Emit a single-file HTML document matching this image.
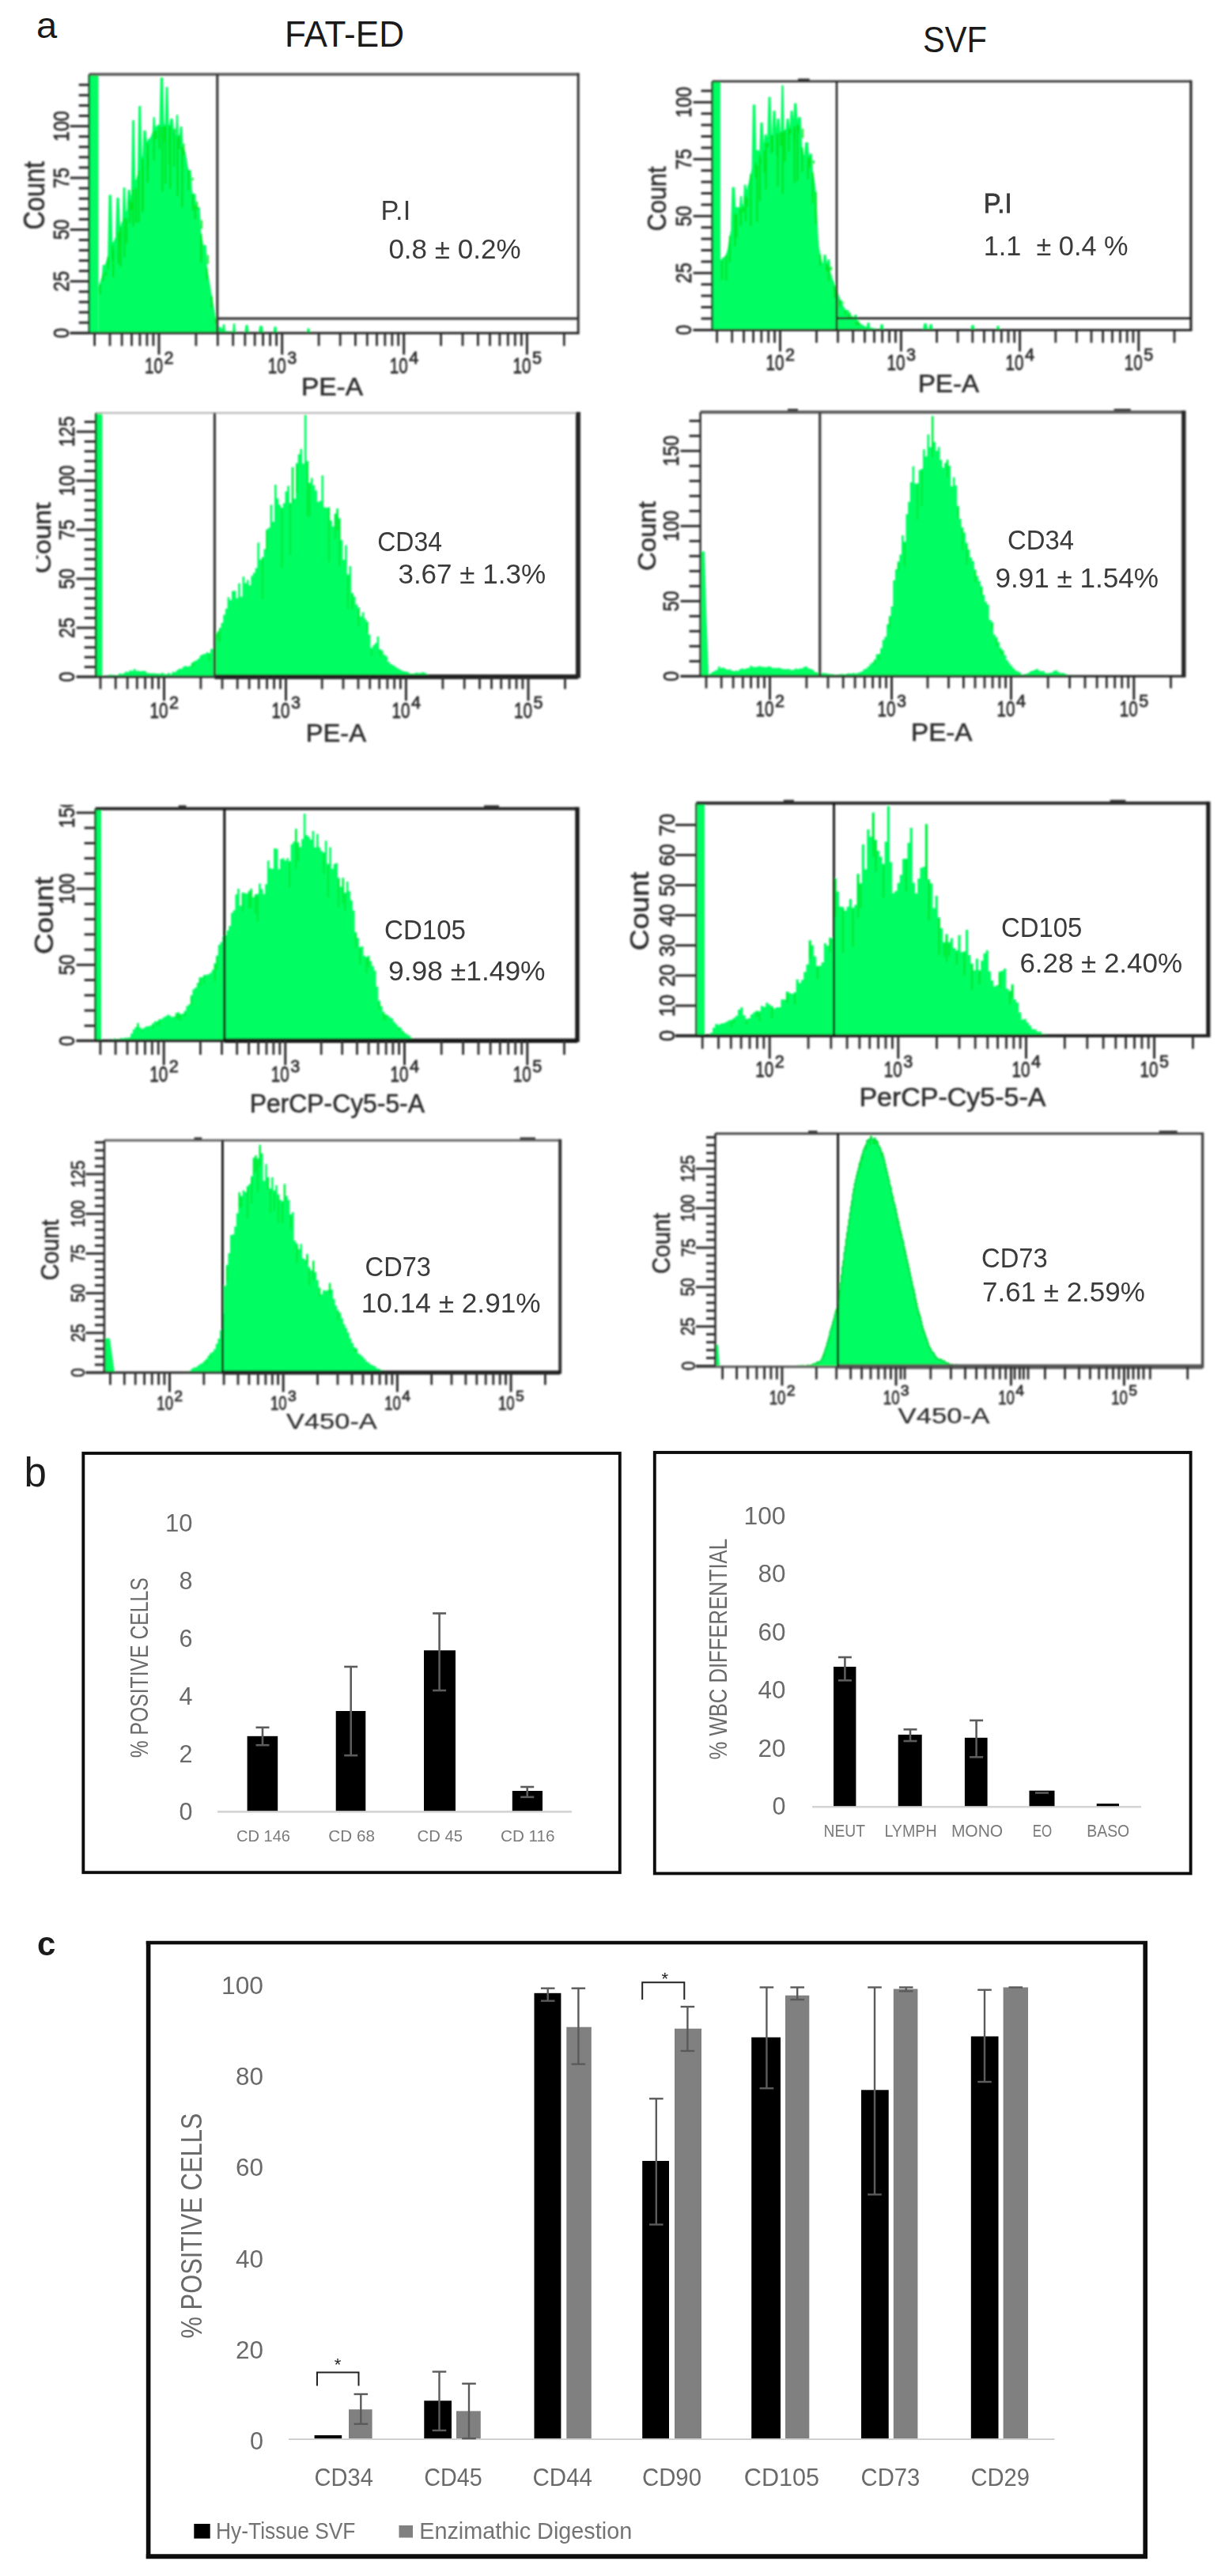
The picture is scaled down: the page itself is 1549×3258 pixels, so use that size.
<!DOCTYPE html>
<html lang="en"><head><meta charset="utf-8"><title>Figure</title>
<style>html,body{margin:0;padding:0;background:#fff}svg{display:block}</style></head>
<body>
<svg width="1549" height="3258" viewBox="0 0 1549 3258" font-family='"Liberation Sans", sans-serif'>
<defs>
<clipPath id="clipB1"><rect x="46" y="500" width="60" height="400"/></clipPath>
<clipPath id="clipC1"><rect x="40" y="1018" width="80" height="100"/></clipPath>
<filter id="bl" x="-2%" y="-2%" width="104%" height="104%"><feGaussianBlur stdDeviation="0.95"/></filter>
<filter id="bl3" x="-2%" y="-2%" width="104%" height="104%"><feGaussianBlur stdDeviation="0.4"/></filter>
<filter id="bl2" x="-2%" y="-2%" width="104%" height="104%"><feGaussianBlur stdDeviation="0.65"/></filter>
</defs>
<rect width="1549" height="3258" fill="#fff"/>
<text x="46.0" y="47.5" font-size="47" fill="#1a1a1a">a</text>
<text x="360.0" y="58.8" font-size="45.6" fill="#1a1a1a" textLength="151.0" lengthAdjust="spacingAndGlyphs">FAT-ED</text>
<text x="1167.0" y="66.3" font-size="47" fill="#1a1a1a" textLength="81.0" lengthAdjust="spacingAndGlyphs">SVF</text>
<g filter="url(#bl)">
<g>
<polygon points="113.0,421.0 113.0,94.7 124.5,94.7 124.5,421.0" fill="#00FD62"/>
<polygon points="124.5,421.2 124.5,363.9 125.8,358.7 127.1,354.7 128.4,350.7 128.8,349.4 129.8,335.0 132.2,335.0 133.2,334.7 133.2,334.0 134.5,329.6 135.8,325.1 137.1,321.4 136.1,324.7 137.5,246.5 140.9,246.5 142.3,307.8 142.3,306.1 143.6,306.0 144.9,302.2 146.2,299.6 147.5,295.0 146.0,299.3 147.4,250.0 150.6,250.0 152.0,286.2 152.0,287.7 153.3,281.8 154.6,279.7 154.7,280.2 155.7,237.0 158.3,237.0 159.3,267.3 159.3,268.2 160.6,265.0 160.4,263.7 161.6,240.0 164.4,240.0 165.6,246.3 165.6,247.9 166.9,242.8 165.9,245.2 167.1,152.0 169.9,152.0 171.1,228.1 171.1,228.6 172.4,225.7 173.7,221.4 175.0,215.5 173.9,218.9 175.2,134.0 178.2,134.0 179.5,200.8 179.5,198.5 180.8,195.4 180.0,199.2 181.4,165.0 184.6,165.0 186.0,180.0 186.0,179.6 187.3,176.0 188.6,175.5 189.9,173.9 191.2,171.4 192.5,167.5 192.7,167.8 193.6,148.0 195.8,148.0 196.7,160.3 196.7,160.4 198.0,159.4 199.3,158.1 200.6,157.5 201.9,157.9 201.5,158.0 202.8,98.0 206.2,98.0 207.5,158.0 207.5,155.7 208.8,159.0 208.5,158.0 209.6,110.0 212.4,110.0 213.5,158.0 213.5,158.5 214.8,158.5 214.0,158.1 215.4,150.0 218.6,150.0 220.0,165.1 220.0,165.2 221.3,169.1 222.6,169.6 222.0,167.6 222.9,145.0 225.1,145.0 226.0,174.2 226.0,176.0 227.3,175.6 226.4,175.1 227.6,160.0 230.4,160.0 231.6,185.9 231.6,188.1 232.9,189.0 234.2,191.6 235.5,197.8 236.8,206.2 238.1,215.4 237.1,207.9 238.4,215.0 241.6,215.0 242.9,239.5 242.9,240.9 244.2,247.2 243.7,243.3 244.7,245.0 247.3,245.0 248.3,264.7 248.3,265.8 249.6,272.1 247.8,262.5 249.3,262.0 252.7,262.0 254.2,293.0 254.2,293.3 255.5,300.4 256.8,306.8 255.9,303.0 257.3,310.0 260.7,310.0 262.1,339.9 262.1,340.0 263.4,346.8 264.7,355.0 266.0,362.5 267.3,369.9 268.6,377.4 269.9,385.2 271.2,392.8 272.5,400.3 273.8,405.5 275.1,409.2 276.4,412.2 277.7,413.2 279.0,414.2 280.3,415.2 281.6,416.1 281.0,415.6 281.9,410.0 284.1,410.0 285.0,418.5 285.0,418.5 286.3,418.7 287.6,418.7 288.9,418.9 290.2,419.0 291.5,419.1 292.8,419.3 294.1,419.4 294.0,419.4 294.9,409.0 297.1,409.0 298.0,419.8 298.0,419.8 299.3,419.9 300.6,420.0 301.9,420.0 303.2,420.0 304.5,420.0 305.8,420.0 307.1,420.0 308.4,420.0 309.7,420.1 309.3,420.1 310.5,411.0 313.5,411.0 314.7,420.1 314.7,420.1 316.0,420.1 317.3,420.1 318.6,420.1 319.9,420.1 321.2,420.1 322.5,420.1 323.8,420.1 325.1,420.2 326.4,420.2 327.7,420.2 326.8,420.2 328.3,412.0 331.7,412.0 333.2,420.2 333.2,420.2 334.5,420.2 335.8,420.2 337.1,420.2 338.4,420.2 339.7,420.2 341.0,420.3 342.3,420.3 343.6,420.3 344.9,420.3 346.2,420.3 345.5,420.3 346.6,413.0 349.4,413.0 350.5,420.3 350.5,420.3 351.8,420.3 353.1,420.4 354.4,420.4 355.7,420.4 357.0,420.4 358.3,420.4 359.6,420.4 360.9,420.4 362.2,420.4 363.5,420.4 364.8,420.4 366.1,420.4 367.4,420.4 368.7,420.4 370.0,420.5 371.3,420.5 372.6,420.5 373.9,420.5 375.2,420.5 376.5,420.5 377.8,420.5 379.1,420.5 380.4,420.5 381.7,420.5 383.0,420.6 384.3,420.6 385.6,420.6 386.9,420.6 388.2,420.6 387.7,420.6 388.8,415.0 391.2,415.0 392.3,420.6 392.3,420.6 393.6,420.7 394.9,420.7 396.2,420.8 397.5,420.9 398.8,420.9 400.0,421.2" fill="#00FD62"/>
<line x1="134.0" y1="343.0" x2="134.0" y2="348.6" stroke="#00E214" stroke-width="2.4" stroke-opacity="0.8"/>
<line x1="143.1" y1="315.6" x2="143.1" y2="350.8" stroke="#00E214" stroke-width="2.4" stroke-opacity="0.8"/>
<line x1="152.8" y1="293.8" x2="152.8" y2="337.3" stroke="#00E214" stroke-width="2.4" stroke-opacity="0.8"/>
<line x1="160.1" y1="276.0" x2="160.1" y2="307.6" stroke="#00E214" stroke-width="2.4" stroke-opacity="0.8"/>
<line x1="166.4" y1="256.0" x2="166.4" y2="265.9" stroke="#00E214" stroke-width="2.4" stroke-opacity="0.8"/>
<line x1="171.9" y1="237.7" x2="171.9" y2="282.0" stroke="#00E214" stroke-width="2.4" stroke-opacity="0.8"/>
<line x1="180.3" y1="210.9" x2="180.3" y2="266.0" stroke="#00E214" stroke-width="2.4" stroke-opacity="0.8"/>
<line x1="186.8" y1="190.6" x2="186.8" y2="212.8" stroke="#00E214" stroke-width="2.4" stroke-opacity="0.8"/>
<line x1="197.5" y1="165.1" x2="197.5" y2="175.8" stroke="#00E214" stroke-width="2.4" stroke-opacity="0.8"/>
<line x1="208.3" y1="159.0" x2="208.3" y2="179.2" stroke="#00E214" stroke-width="2.4" stroke-opacity="0.8"/>
<line x1="214.3" y1="159.0" x2="214.3" y2="207.4" stroke="#00E214" stroke-width="2.4" stroke-opacity="0.8"/>
<line x1="220.8" y1="162.6" x2="220.8" y2="168.5" stroke="#00E214" stroke-width="2.4" stroke-opacity="0.8"/>
<line x1="226.8" y1="171.0" x2="226.8" y2="188.9" stroke="#00E214" stroke-width="2.4" stroke-opacity="0.8"/>
<line x1="232.4" y1="181.5" x2="232.4" y2="196.0" stroke="#00E214" stroke-width="2.4" stroke-opacity="0.8"/>
<line x1="243.7" y1="224.7" x2="243.7" y2="228.3" stroke="#00E214" stroke-width="2.4" stroke-opacity="0.8"/>
<line x1="249.1" y1="255.0" x2="249.1" y2="264.3" stroke="#00E214" stroke-width="2.4" stroke-opacity="0.8"/>
<line x1="255.0" y1="278.3" x2="255.0" y2="289.5" stroke="#00E214" stroke-width="2.4" stroke-opacity="0.8"/>
<line x1="262.9" y1="322.4" x2="262.9" y2="333.8" stroke="#00E214" stroke-width="2.4" stroke-opacity="0.8"/>
<line x1="126.5" y1="359.2" x2="126.5" y2="372.4" stroke="#00E214" stroke-width="2.4" stroke-opacity="0.8"/>
<line x1="130.3" y1="346.3" x2="130.3" y2="355.7" stroke="#00E214" stroke-width="2.4" stroke-opacity="0.8"/>
<line x1="136.7" y1="324.7" x2="136.7" y2="341.0" stroke="#00E214" stroke-width="2.4" stroke-opacity="0.8"/>
<line x1="142.2" y1="309.8" x2="142.2" y2="329.3" stroke="#00E214" stroke-width="2.4" stroke-opacity="0.8"/>
<line x1="149.8" y1="293.1" x2="149.8" y2="333.8" stroke="#00E214" stroke-width="2.4" stroke-opacity="0.8"/>
<line x1="152.6" y1="286.7" x2="152.6" y2="305.8" stroke="#00E214" stroke-width="2.4" stroke-opacity="0.8"/>
<line x1="157.2" y1="276.4" x2="157.2" y2="325.4" stroke="#00E214" stroke-width="2.4" stroke-opacity="0.8"/>
<line x1="164.2" y1="252.9" x2="164.2" y2="282.2" stroke="#00E214" stroke-width="2.4" stroke-opacity="0.8"/>
<line x1="168.2" y1="239.8" x2="168.2" y2="286.6" stroke="#00E214" stroke-width="2.4" stroke-opacity="0.8"/>
<line x1="175.5" y1="215.7" x2="175.5" y2="281.7" stroke="#00E214" stroke-width="2.4" stroke-opacity="0.8"/>
<line x1="180.2" y1="200.8" x2="180.2" y2="268.7" stroke="#00E214" stroke-width="2.4" stroke-opacity="0.8"/>
<line x1="186.7" y1="180.8" x2="186.7" y2="230.8" stroke="#00E214" stroke-width="2.4" stroke-opacity="0.8"/>
<line x1="194.8" y1="165.8" x2="194.8" y2="203.0" stroke="#00E214" stroke-width="2.4" stroke-opacity="0.8"/>
<line x1="201.6" y1="160.0" x2="201.6" y2="188.2" stroke="#00E214" stroke-width="2.4" stroke-opacity="0.8"/>
<line x1="205.3" y1="160.0" x2="205.3" y2="242.1" stroke="#00E214" stroke-width="2.4" stroke-opacity="0.8"/>
<line x1="209.2" y1="160.0" x2="209.2" y2="232.2" stroke="#00E214" stroke-width="2.4" stroke-opacity="0.8"/>
<line x1="215.2" y1="161.5" x2="215.2" y2="238.6" stroke="#00E214" stroke-width="2.4" stroke-opacity="0.8"/>
<line x1="220.0" y1="167.2" x2="220.0" y2="210.9" stroke="#00E214" stroke-width="2.4" stroke-opacity="0.8"/>
<line x1="224.4" y1="172.8" x2="224.4" y2="248.2" stroke="#00E214" stroke-width="2.4" stroke-opacity="0.8"/>
<line x1="230.4" y1="185.5" x2="230.4" y2="262.3" stroke="#00E214" stroke-width="2.4" stroke-opacity="0.8"/>
<line x1="238.1" y1="215.2" x2="238.1" y2="240.3" stroke="#00E214" stroke-width="2.4" stroke-opacity="0.8"/>
<line x1="243.9" y1="246.0" x2="243.9" y2="266.2" stroke="#00E214" stroke-width="2.4" stroke-opacity="0.8"/>
<line x1="246.8" y1="259.8" x2="246.8" y2="277.3" stroke="#00E214" stroke-width="2.4" stroke-opacity="0.8"/>
<line x1="254.3" y1="295.9" x2="254.3" y2="332.2" stroke="#00E214" stroke-width="2.4" stroke-opacity="0.8"/>
<line x1="261.6" y1="339.0" x2="261.6" y2="354.0" stroke="#00E214" stroke-width="2.4" stroke-opacity="0.8"/>
<line x1="267.8" y1="374.7" x2="267.8" y2="389.1" stroke="#00E214" stroke-width="2.4" stroke-opacity="0.8"/>
<line x1="272.6" y1="402.7" x2="272.6" y2="409.1" stroke="#00E214" stroke-width="2.4" stroke-opacity="0.8"/>
<line x1="112.7" y1="94.0" x2="731.2" y2="94.0" stroke="#555" stroke-width="3.6" />
<line x1="112.7" y1="94.0" x2="112.7" y2="421.2" stroke="#0a5a20" stroke-width="2.5" />
<line x1="731.2" y1="92.2" x2="731.2" y2="422.7" stroke="#333" stroke-width="3" />
<line x1="88.7" y1="421.2" x2="731.2" y2="421.2" stroke="#2a2a2a" stroke-width="3" />
<line x1="274.8" y1="94.0" x2="274.8" y2="421.2" stroke="#3a3a3a" stroke-width="3.2" />
<line x1="274.8" y1="402.8" x2="731.2" y2="402.8" stroke="#3a3a3a" stroke-width="3.2" />
<line x1="88.7" y1="421.2" x2="112.7" y2="421.2" stroke="#2e2e2e" stroke-width="3" />
<line x1="99.7" y1="408.1" x2="112.7" y2="408.1" stroke="#2e2e2e" stroke-width="3" />
<line x1="99.7" y1="395.0" x2="112.7" y2="395.0" stroke="#2e2e2e" stroke-width="3" />
<line x1="99.7" y1="382.0" x2="112.7" y2="382.0" stroke="#2e2e2e" stroke-width="3" />
<line x1="99.7" y1="368.9" x2="112.7" y2="368.9" stroke="#2e2e2e" stroke-width="3" />
<line x1="88.7" y1="355.8" x2="112.7" y2="355.8" stroke="#2e2e2e" stroke-width="3" />
<line x1="99.7" y1="342.7" x2="112.7" y2="342.7" stroke="#2e2e2e" stroke-width="3" />
<line x1="99.7" y1="329.6" x2="112.7" y2="329.6" stroke="#2e2e2e" stroke-width="3" />
<line x1="99.7" y1="316.6" x2="112.7" y2="316.6" stroke="#2e2e2e" stroke-width="3" />
<line x1="99.7" y1="303.5" x2="112.7" y2="303.5" stroke="#2e2e2e" stroke-width="3" />
<line x1="88.7" y1="290.4" x2="112.7" y2="290.4" stroke="#2e2e2e" stroke-width="3" />
<line x1="99.7" y1="277.3" x2="112.7" y2="277.3" stroke="#2e2e2e" stroke-width="3" />
<line x1="99.7" y1="264.2" x2="112.7" y2="264.2" stroke="#2e2e2e" stroke-width="3" />
<line x1="99.7" y1="251.2" x2="112.7" y2="251.2" stroke="#2e2e2e" stroke-width="3" />
<line x1="99.7" y1="238.1" x2="112.7" y2="238.1" stroke="#2e2e2e" stroke-width="3" />
<line x1="88.7" y1="225.0" x2="112.7" y2="225.0" stroke="#2e2e2e" stroke-width="3" />
<line x1="99.7" y1="211.9" x2="112.7" y2="211.9" stroke="#2e2e2e" stroke-width="3" />
<line x1="99.7" y1="198.8" x2="112.7" y2="198.8" stroke="#2e2e2e" stroke-width="3" />
<line x1="99.7" y1="185.8" x2="112.7" y2="185.8" stroke="#2e2e2e" stroke-width="3" />
<line x1="99.7" y1="172.7" x2="112.7" y2="172.7" stroke="#2e2e2e" stroke-width="3" />
<line x1="88.7" y1="159.6" x2="112.7" y2="159.6" stroke="#2e2e2e" stroke-width="3" />
<line x1="99.7" y1="146.5" x2="112.7" y2="146.5" stroke="#2e2e2e" stroke-width="3" />
<line x1="99.7" y1="133.4" x2="112.7" y2="133.4" stroke="#2e2e2e" stroke-width="3" />
<line x1="99.7" y1="120.4" x2="112.7" y2="120.4" stroke="#2e2e2e" stroke-width="3" />
<line x1="99.7" y1="107.3" x2="112.7" y2="107.3" stroke="#2e2e2e" stroke-width="3" />
<text x="87.0" y="421.2" font-size="28" fill="#2e2e2e" stroke="#2e2e2e" stroke-width="0.8" text-anchor="middle" textLength="12.9" lengthAdjust="spacingAndGlyphs" transform="rotate(-90 87.0 421.2)">0</text>
<text x="87.0" y="355.8" font-size="28" fill="#2e2e2e" stroke="#2e2e2e" stroke-width="0.8" text-anchor="middle" textLength="25.8" lengthAdjust="spacingAndGlyphs" transform="rotate(-90 87.0 355.8)">25</text>
<text x="87.0" y="290.4" font-size="28" fill="#2e2e2e" stroke="#2e2e2e" stroke-width="0.8" text-anchor="middle" textLength="25.8" lengthAdjust="spacingAndGlyphs" transform="rotate(-90 87.0 290.4)">50</text>
<text x="87.0" y="225.0" font-size="28" fill="#2e2e2e" stroke="#2e2e2e" stroke-width="0.8" text-anchor="middle" textLength="25.8" lengthAdjust="spacingAndGlyphs" transform="rotate(-90 87.0 225.0)">75</text>
<text x="87.0" y="159.6" font-size="28" fill="#2e2e2e" stroke="#2e2e2e" stroke-width="0.8" text-anchor="middle" textLength="38.7" lengthAdjust="spacingAndGlyphs" transform="rotate(-90 87.0 159.6)">100</text>
<text x="56.5" y="290.6" font-size="36" fill="#2e2e2e" stroke="#2e2e2e" stroke-width="0.6" textLength="86.6" lengthAdjust="spacingAndGlyphs" transform="rotate(-90 56.5 290.6)">Count</text>
<line x1="119.6" y1="421.2" x2="119.6" y2="437.5" stroke="#2e2e2e" stroke-width="2.8" />
<line x1="139.0" y1="421.2" x2="139.0" y2="437.5" stroke="#2e2e2e" stroke-width="2.8" />
<line x1="154.1" y1="421.2" x2="154.1" y2="437.5" stroke="#2e2e2e" stroke-width="2.8" />
<line x1="166.5" y1="421.2" x2="166.5" y2="437.5" stroke="#2e2e2e" stroke-width="2.8" />
<line x1="176.9" y1="421.2" x2="176.9" y2="437.5" stroke="#2e2e2e" stroke-width="2.8" />
<line x1="185.9" y1="421.2" x2="185.9" y2="437.5" stroke="#2e2e2e" stroke-width="2.8" />
<line x1="193.9" y1="421.2" x2="193.9" y2="437.5" stroke="#2e2e2e" stroke-width="2.8" />
<line x1="201.0" y1="421.2" x2="201.0" y2="448.5" stroke="#2e2e2e" stroke-width="3" />
<line x1="247.9" y1="421.2" x2="247.9" y2="437.5" stroke="#2e2e2e" stroke-width="2.8" />
<line x1="275.3" y1="421.2" x2="275.3" y2="437.5" stroke="#2e2e2e" stroke-width="2.8" />
<line x1="294.7" y1="421.2" x2="294.7" y2="437.5" stroke="#2e2e2e" stroke-width="2.8" />
<line x1="309.8" y1="421.2" x2="309.8" y2="437.5" stroke="#2e2e2e" stroke-width="2.8" />
<line x1="322.2" y1="421.2" x2="322.2" y2="437.5" stroke="#2e2e2e" stroke-width="2.8" />
<line x1="332.6" y1="421.2" x2="332.6" y2="437.5" stroke="#2e2e2e" stroke-width="2.8" />
<line x1="341.6" y1="421.2" x2="341.6" y2="437.5" stroke="#2e2e2e" stroke-width="2.8" />
<line x1="349.6" y1="421.2" x2="349.6" y2="437.5" stroke="#2e2e2e" stroke-width="2.8" />
<line x1="356.7" y1="421.2" x2="356.7" y2="448.5" stroke="#2e2e2e" stroke-width="3" />
<line x1="403.1" y1="421.2" x2="403.1" y2="437.5" stroke="#2e2e2e" stroke-width="2.8" />
<line x1="430.2" y1="421.2" x2="430.2" y2="437.5" stroke="#2e2e2e" stroke-width="2.8" />
<line x1="449.4" y1="421.2" x2="449.4" y2="437.5" stroke="#2e2e2e" stroke-width="2.8" />
<line x1="464.3" y1="421.2" x2="464.3" y2="437.5" stroke="#2e2e2e" stroke-width="2.8" />
<line x1="476.5" y1="421.2" x2="476.5" y2="437.5" stroke="#2e2e2e" stroke-width="2.8" />
<line x1="486.8" y1="421.2" x2="486.8" y2="437.5" stroke="#2e2e2e" stroke-width="2.8" />
<line x1="495.8" y1="421.2" x2="495.8" y2="437.5" stroke="#2e2e2e" stroke-width="2.8" />
<line x1="503.7" y1="421.2" x2="503.7" y2="437.5" stroke="#2e2e2e" stroke-width="2.8" />
<line x1="510.7" y1="421.2" x2="510.7" y2="448.5" stroke="#2e2e2e" stroke-width="3" />
<line x1="557.6" y1="421.2" x2="557.6" y2="437.5" stroke="#2e2e2e" stroke-width="2.8" />
<line x1="585.0" y1="421.2" x2="585.0" y2="437.5" stroke="#2e2e2e" stroke-width="2.8" />
<line x1="604.4" y1="421.2" x2="604.4" y2="437.5" stroke="#2e2e2e" stroke-width="2.8" />
<line x1="619.5" y1="421.2" x2="619.5" y2="437.5" stroke="#2e2e2e" stroke-width="2.8" />
<line x1="631.9" y1="421.2" x2="631.9" y2="437.5" stroke="#2e2e2e" stroke-width="2.8" />
<line x1="642.3" y1="421.2" x2="642.3" y2="437.5" stroke="#2e2e2e" stroke-width="2.8" />
<line x1="651.3" y1="421.2" x2="651.3" y2="437.5" stroke="#2e2e2e" stroke-width="2.8" />
<line x1="659.3" y1="421.2" x2="659.3" y2="437.5" stroke="#2e2e2e" stroke-width="2.8" />
<line x1="666.4" y1="421.2" x2="666.4" y2="448.5" stroke="#2e2e2e" stroke-width="3" />
<line x1="713.3" y1="421.2" x2="713.3" y2="437.5" stroke="#2e2e2e" stroke-width="2.8" />
<text x="183.0" y="472.0" font-size="28" fill="#2e2e2e" stroke="#2e2e2e" stroke-width="0.8"><tspan textLength="23.0" lengthAdjust="spacingAndGlyphs">10</tspan><tspan x="207.5" dy="-12.5" font-size="22" textLength="12.0" lengthAdjust="spacingAndGlyphs">2</tspan></text>
<text x="338.7" y="472.0" font-size="28" fill="#2e2e2e" stroke="#2e2e2e" stroke-width="0.8"><tspan textLength="23.0" lengthAdjust="spacingAndGlyphs">10</tspan><tspan x="363.2" dy="-12.5" font-size="22" textLength="12.0" lengthAdjust="spacingAndGlyphs">3</tspan></text>
<text x="492.7" y="472.0" font-size="28" fill="#2e2e2e" stroke="#2e2e2e" stroke-width="0.8"><tspan textLength="23.0" lengthAdjust="spacingAndGlyphs">10</tspan><tspan x="517.2" dy="-12.5" font-size="22" textLength="12.0" lengthAdjust="spacingAndGlyphs">4</tspan></text>
<text x="648.4" y="472.0" font-size="28" fill="#2e2e2e" stroke="#2e2e2e" stroke-width="0.8"><tspan textLength="23.0" lengthAdjust="spacingAndGlyphs">10</tspan><tspan x="672.9" dy="-12.5" font-size="22" textLength="12.0" lengthAdjust="spacingAndGlyphs">5</tspan></text>
<text x="381.0" y="499.6" font-size="32" fill="#2e2e2e" textLength="78.0" lengthAdjust="spacingAndGlyphs" stroke="#2e2e2e" stroke-width="0.6">PE-A</text>
</g>
<g>
<polygon points="901.0,417.0 901.0,103.0 911.0,103.0 911.0,417.0" fill="#00FD62"/>
<polygon points="911.0,417.5 911.0,328.8 912.3,327.9 913.6,325.8 914.9,325.2 916.2,324.9 917.5,322.4 918.8,319.3 920.1,314.6 921.4,306.5 922.7,298.6 924.0,291.4 925.3,283.1 924.1,289.2 925.5,236.7 929.1,236.7 930.5,267.0 930.5,266.3 928.8,268.6 930.2,262.0 933.8,262.0 935.2,262.5 935.2,264.7 934.9,262.8 935.9,248.0 938.1,248.0 939.1,258.9 939.1,260.1 940.4,257.4 939.9,258.1 940.8,233.5 943.2,233.5 944.1,240.3 944.1,240.5 945.4,234.7 946.7,231.3 948.0,223.6 949.3,219.6 950.6,213.1 951.9,213.1 950.5,214.1 951.8,132.2 955.2,132.2 956.5,201.9 956.5,201.7 955.1,204.8 956.4,190.0 959.6,190.0 960.9,193.2 960.9,195.3 960.2,194.7 961.4,155.0 964.6,155.0 965.8,183.8 965.8,183.7 965.6,184.2 966.7,170.0 969.3,170.0 970.4,175.0 970.4,174.2 971.7,173.5 970.2,175.3 971.5,122.4 974.5,122.4 975.8,169.1 975.8,171.2 977.1,167.6 976.2,169.0 977.5,140.0 980.5,140.0 981.8,167.3 981.8,166.3 981.3,167.4 982.5,150.0 985.5,150.0 986.7,165.7 986.7,166.7 988.0,165.3 987.2,165.6 988.2,107.8 990.6,107.8 991.6,163.8 991.6,164.6 992.9,163.7 994.2,161.7 993.5,163.0 994.6,150.0 997.4,150.0 998.5,160.7 998.5,160.7 998.5,160.7 999.6,140.0 1002.4,140.0 1003.5,158.3 1003.5,158.9 1002.8,158.6 1004.1,130.6 1007.3,130.6 1008.6,155.7 1008.6,157.3 1007.8,156.1 1009.2,148.0 1012.8,148.0 1014.2,183.3 1014.2,185.3 1015.5,190.4 1016.8,196.7 1018.1,194.0 1016.8,195.5 1018.2,180.0 1021.8,180.0 1023.2,199.0 1023.2,197.9 1022.6,198.7 1023.8,194.3 1026.8,194.3 1028.0,217.5 1028.0,219.4 1029.3,223.2 1030.6,232.9 1031.9,243.5 1033.2,268.5 1034.5,296.4 1035.8,313.9 1037.1,319.4 1038.4,327.0 1039.7,332.1 1041.0,334.1 1040.4,334.8 1041.6,322.0 1044.4,322.0 1045.6,331.9 1045.6,332.4 1045.7,331.9 1046.7,328.0 1049.3,328.0 1050.3,344.4 1050.3,345.4 1051.6,347.8 1052.9,353.1 1054.2,355.5 1055.5,359.6 1056.8,364.2 1058.1,366.8 1059.4,369.9 1060.7,373.7 1062.0,376.3 1062.0,376.3 1062.9,380.0 1065.1,380.0 1066.0,385.9 1066.0,386.3 1067.3,388.6 1068.6,390.5 1069.9,392.1 1070.0,392.2 1070.9,392.0 1073.1,392.0 1074.0,396.3 1074.0,396.5 1075.3,397.4 1076.6,398.9 1077.9,400.1 1079.2,401.6 1080.5,403.1 1079.4,401.8 1080.6,398.0 1083.4,398.0 1084.6,406.9 1084.6,407.0 1085.9,407.8 1087.2,408.6 1088.5,409.4 1089.8,410.2 1091.1,411.0 1092.4,411.9 1093.7,412.6 1095.0,413.4 1096.3,413.7 1095.6,413.6 1096.7,408.0 1099.3,408.0 1100.4,414.4 1100.4,414.4 1101.7,414.6 1103.0,414.8 1104.3,415.0 1105.6,415.3 1106.9,415.5 1108.2,415.7 1109.5,415.9 1110.8,416.0 1112.1,416.0 1113.4,416.0 1112.5,416.0 1113.6,410.0 1116.4,410.0 1117.5,416.0 1117.5,416.0 1118.8,416.0 1120.1,416.0 1121.4,416.0 1122.7,416.0 1124.0,416.0 1125.3,416.1 1126.6,416.1 1127.9,416.1 1129.2,416.1 1130.5,416.1 1131.8,416.1 1133.1,416.1 1134.4,416.1 1135.7,416.1 1137.0,416.1 1138.3,416.1 1139.6,416.1 1140.9,416.1 1142.2,416.1 1143.5,416.1 1144.8,416.1 1146.1,416.1 1147.4,416.1 1148.7,416.1 1150.0,416.1 1151.3,416.1 1152.6,416.1 1153.9,416.1 1155.2,416.1 1156.5,416.1 1157.8,416.2 1159.1,416.2 1160.4,416.2 1161.7,416.2 1163.0,416.2 1164.3,416.2 1165.6,416.2 1166.9,416.2 1168.2,416.2 1166.9,416.2 1168.3,409.0 1171.7,409.0 1173.1,416.2 1173.1,416.2 1174.4,416.2 1174.3,416.2 1175.5,410.0 1178.5,410.0 1179.7,416.2 1179.7,416.2 1181.0,416.2 1182.3,416.2 1183.6,416.2 1184.9,416.2 1186.2,416.3 1187.5,416.3 1188.8,416.3 1190.1,416.3 1191.4,416.3 1192.7,416.3 1194.0,416.3 1195.3,416.3 1196.6,416.3 1197.9,416.3 1199.2,416.3 1200.5,416.3 1201.8,416.3 1203.1,416.3 1204.4,416.3 1205.7,416.3 1207.0,416.3 1208.3,416.3 1209.6,416.3 1210.9,416.4 1212.2,416.4 1213.5,416.4 1214.8,416.4 1216.1,416.4 1217.4,416.4 1218.7,416.4 1220.0,416.4 1221.3,416.4 1222.6,416.4 1223.9,416.4 1225.2,416.4 1226.5,416.4 1227.8,416.4 1227.3,416.4 1228.5,411.0 1231.5,411.0 1232.7,416.5 1232.7,416.5 1234.0,416.5 1235.3,416.5 1236.6,416.5 1237.9,416.5 1239.2,416.5 1240.5,416.5 1241.8,416.5 1243.1,416.5 1244.4,416.5 1245.7,416.5 1247.0,416.5 1248.3,416.6 1249.6,416.6 1250.9,416.6 1252.2,416.6 1253.5,416.6 1254.8,416.6 1256.1,416.6 1257.4,416.6 1258.7,416.6 1260.0,416.6 1259.7,416.6 1260.7,412.0 1263.3,412.0 1264.3,416.6 1264.3,416.6 1265.6,416.7 1266.9,416.7 1268.2,416.7 1269.5,416.7 1270.8,416.7 1272.1,416.7 1273.4,416.7 1274.7,416.7 1276.0,416.7 1277.3,416.7 1278.6,416.7 1279.9,416.7 1281.2,416.7 1282.5,416.7 1283.8,416.8 1285.1,416.8 1286.4,416.8 1287.7,416.8 1289.0,416.8 1290.3,416.8 1291.6,416.8 1292.9,416.8 1294.2,416.8 1295.5,416.8 1296.8,416.8 1298.1,416.8 1299.4,416.8 1300.7,416.8 1302.0,416.8 1303.3,416.9 1304.6,416.9 1305.9,416.9 1307.2,416.9 1308.5,416.9 1309.8,416.9 1311.1,416.9 1312.4,416.9 1313.7,416.9 1315.0,416.9 1316.3,416.9 1317.6,416.9 1318.9,416.9 1320.2,416.9 1321.5,417.0 1322.8,417.0 1324.1,417.0 1325.4,417.0 1326.7,417.0 1328.0,417.0 1329.3,417.0 1330.0,417.5" fill="#00FD62"/>
<line x1="931.3" y1="271.0" x2="931.3" y2="300.4" stroke="#00E214" stroke-width="2.4" stroke-opacity="0.8"/>
<line x1="936.0" y1="266.6" x2="936.0" y2="271.1" stroke="#00E214" stroke-width="2.4" stroke-opacity="0.8"/>
<line x1="939.9" y1="261.8" x2="939.9" y2="268.1" stroke="#00E214" stroke-width="2.4" stroke-opacity="0.8"/>
<line x1="944.9" y1="250.4" x2="944.9" y2="261.3" stroke="#00E214" stroke-width="2.4" stroke-opacity="0.8"/>
<line x1="957.3" y1="209.0" x2="957.3" y2="280.5" stroke="#00E214" stroke-width="2.4" stroke-opacity="0.8"/>
<line x1="961.7" y1="200.0" x2="961.7" y2="207.3" stroke="#00E214" stroke-width="2.4" stroke-opacity="0.8"/>
<line x1="966.6" y1="190.2" x2="966.6" y2="218.8" stroke="#00E214" stroke-width="2.4" stroke-opacity="0.8"/>
<line x1="971.2" y1="180.6" x2="971.2" y2="186.0" stroke="#00E214" stroke-width="2.4" stroke-opacity="0.8"/>
<line x1="976.6" y1="171.0" x2="976.6" y2="191.8" stroke="#00E214" stroke-width="2.4" stroke-opacity="0.8"/>
<line x1="982.6" y1="169.1" x2="982.6" y2="196.5" stroke="#00E214" stroke-width="2.4" stroke-opacity="0.8"/>
<line x1="987.5" y1="167.6" x2="987.5" y2="184.6" stroke="#00E214" stroke-width="2.4" stroke-opacity="0.8"/>
<line x1="992.4" y1="165.8" x2="992.4" y2="204.6" stroke="#00E214" stroke-width="2.4" stroke-opacity="0.8"/>
<line x1="999.3" y1="162.8" x2="999.3" y2="169.1" stroke="#00E214" stroke-width="2.4" stroke-opacity="0.8"/>
<line x1="1004.3" y1="160.5" x2="1004.3" y2="180.1" stroke="#00E214" stroke-width="2.4" stroke-opacity="0.8"/>
<line x1="1009.4" y1="158.1" x2="1009.4" y2="168.5" stroke="#00E214" stroke-width="2.4" stroke-opacity="0.8"/>
<line x1="1015.0" y1="162.7" x2="1015.0" y2="174.7" stroke="#00E214" stroke-width="2.4" stroke-opacity="0.8"/>
<line x1="1024.0" y1="198.2" x2="1024.0" y2="212.3" stroke="#00E214" stroke-width="2.4" stroke-opacity="0.8"/>
<line x1="1028.8" y1="202.8" x2="1028.8" y2="207.2" stroke="#00E214" stroke-width="2.4" stroke-opacity="0.8"/>
<line x1="1046.4" y1="334.3" x2="1046.4" y2="340.1" stroke="#00E214" stroke-width="2.4" stroke-opacity="0.8"/>
<line x1="1051.1" y1="337.5" x2="1051.1" y2="341.5" stroke="#00E214" stroke-width="2.4" stroke-opacity="0.8"/>
<line x1="1066.8" y1="382.1" x2="1066.8" y2="383.4" stroke="#00E214" stroke-width="2.4" stroke-opacity="0.8"/>
<line x1="1074.8" y1="395.3" x2="1074.8" y2="397.9" stroke="#00E214" stroke-width="2.4" stroke-opacity="0.8"/>
<line x1="1085.4" y1="405.5" x2="1085.4" y2="411.7" stroke="#00E214" stroke-width="2.4" stroke-opacity="0.8"/>
<line x1="913.0" y1="329.5" x2="913.0" y2="353.6" stroke="#00E214" stroke-width="2.4" stroke-opacity="0.8"/>
<line x1="918.3" y1="322.8" x2="918.3" y2="354.8" stroke="#00E214" stroke-width="2.4" stroke-opacity="0.8"/>
<line x1="922.9" y1="298.4" x2="922.9" y2="331.7" stroke="#00E214" stroke-width="2.4" stroke-opacity="0.8"/>
<line x1="929.3" y1="270.1" x2="929.3" y2="311.6" stroke="#00E214" stroke-width="2.4" stroke-opacity="0.8"/>
<line x1="936.7" y1="263.1" x2="936.7" y2="285.7" stroke="#00E214" stroke-width="2.4" stroke-opacity="0.8"/>
<line x1="942.9" y1="247.6" x2="942.9" y2="279.9" stroke="#00E214" stroke-width="2.4" stroke-opacity="0.8"/>
<line x1="949.3" y1="220.0" x2="949.3" y2="285.7" stroke="#00E214" stroke-width="2.4" stroke-opacity="0.8"/>
<line x1="955.6" y1="205.9" x2="955.6" y2="225.1" stroke="#00E214" stroke-width="2.4" stroke-opacity="0.8"/>
<line x1="960.9" y1="195.4" x2="960.9" y2="254.3" stroke="#00E214" stroke-width="2.4" stroke-opacity="0.8"/>
<line x1="968.5" y1="180.7" x2="968.5" y2="239.8" stroke="#00E214" stroke-width="2.4" stroke-opacity="0.8"/>
<line x1="975.7" y1="171.2" x2="975.7" y2="193.7" stroke="#00E214" stroke-width="2.4" stroke-opacity="0.8"/>
<line x1="983.6" y1="168.7" x2="983.6" y2="235.7" stroke="#00E214" stroke-width="2.4" stroke-opacity="0.8"/>
<line x1="989.7" y1="166.7" x2="989.7" y2="245.2" stroke="#00E214" stroke-width="2.4" stroke-opacity="0.8"/>
<line x1="997.3" y1="163.2" x2="997.3" y2="191.7" stroke="#00E214" stroke-width="2.4" stroke-opacity="0.8"/>
<line x1="1004.6" y1="159.7" x2="1004.6" y2="231.5" stroke="#00E214" stroke-width="2.4" stroke-opacity="0.8"/>
<line x1="1008.4" y1="157.8" x2="1008.4" y2="228.6" stroke="#00E214" stroke-width="2.4" stroke-opacity="0.8"/>
<line x1="1014.4" y1="186.3" x2="1014.4" y2="217.6" stroke="#00E214" stroke-width="2.4" stroke-opacity="0.8"/>
<line x1="1021.6" y1="200.1" x2="1021.6" y2="226.7" stroke="#00E214" stroke-width="2.4" stroke-opacity="0.8"/>
<line x1="1027.7" y1="217.8" x2="1027.7" y2="257.2" stroke="#00E214" stroke-width="2.4" stroke-opacity="0.8"/>
<line x1="1031.8" y1="242.8" x2="1031.8" y2="283.1" stroke="#00E214" stroke-width="2.4" stroke-opacity="0.8"/>
<line x1="1037.2" y1="322.0" x2="1037.2" y2="336.0" stroke="#00E214" stroke-width="2.4" stroke-opacity="0.8"/>
<line x1="1045.2" y1="334.1" x2="1045.2" y2="343.7" stroke="#00E214" stroke-width="2.4" stroke-opacity="0.8"/>
<line x1="1048.0" y1="338.4" x2="1048.0" y2="355.9" stroke="#00E214" stroke-width="2.4" stroke-opacity="0.8"/>
<line x1="1055.3" y1="361.5" x2="1055.3" y2="376.7" stroke="#00E214" stroke-width="2.4" stroke-opacity="0.8"/>
<line x1="1062.2" y1="379.0" x2="1062.2" y2="388.2" stroke="#00E214" stroke-width="2.4" stroke-opacity="0.8"/>
<line x1="1068.7" y1="392.9" x2="1068.7" y2="398.3" stroke="#00E214" stroke-width="2.4" stroke-opacity="0.8"/>
<line x1="1072.9" y1="397.2" x2="1072.9" y2="403.2" stroke="#00E214" stroke-width="2.4" stroke-opacity="0.8"/>
<line x1="1075.8" y1="400.2" x2="1075.8" y2="403.7" stroke="#00E214" stroke-width="2.4" stroke-opacity="0.8"/>
<line x1="1082.7" y1="407.2" x2="1082.7" y2="411.2" stroke="#00E214" stroke-width="2.4" stroke-opacity="0.8"/>
<line x1="900.6" y1="102.9" x2="1505.9" y2="102.9" stroke="#333" stroke-width="2.6" />
<line x1="900.6" y1="102.9" x2="900.6" y2="417.5" stroke="#0a5a20" stroke-width="2.5" />
<line x1="1505.9" y1="101.6" x2="1505.9" y2="419.0" stroke="#333" stroke-width="3.4" />
<line x1="876.6" y1="417.5" x2="1505.9" y2="417.5" stroke="#2a2a2a" stroke-width="3" />
<line x1="1058.0" y1="102.9" x2="1058.0" y2="417.5" stroke="#222" stroke-width="2.6" />
<line x1="1058.0" y1="402.6" x2="1505.9" y2="402.6" stroke="#222" stroke-width="2.6" />
<rect x="1009.0" y="99.4" width="14.7" height="2.6" fill="#333" />
<line x1="876.6" y1="417.3" x2="900.6" y2="417.3" stroke="#2e2e2e" stroke-width="3" />
<line x1="886.6" y1="402.9" x2="900.6" y2="402.9" stroke="#2e2e2e" stroke-width="3" />
<line x1="886.6" y1="388.5" x2="900.6" y2="388.5" stroke="#2e2e2e" stroke-width="3" />
<line x1="886.6" y1="374.1" x2="900.6" y2="374.1" stroke="#2e2e2e" stroke-width="3" />
<line x1="886.6" y1="359.7" x2="900.6" y2="359.7" stroke="#2e2e2e" stroke-width="3" />
<line x1="876.6" y1="345.3" x2="900.6" y2="345.3" stroke="#2e2e2e" stroke-width="3" />
<line x1="886.6" y1="330.9" x2="900.6" y2="330.9" stroke="#2e2e2e" stroke-width="3" />
<line x1="886.6" y1="316.5" x2="900.6" y2="316.5" stroke="#2e2e2e" stroke-width="3" />
<line x1="886.6" y1="302.1" x2="900.6" y2="302.1" stroke="#2e2e2e" stroke-width="3" />
<line x1="886.6" y1="287.7" x2="900.6" y2="287.7" stroke="#2e2e2e" stroke-width="3" />
<line x1="876.6" y1="273.3" x2="900.6" y2="273.3" stroke="#2e2e2e" stroke-width="3" />
<line x1="886.6" y1="258.9" x2="900.6" y2="258.9" stroke="#2e2e2e" stroke-width="3" />
<line x1="886.6" y1="244.5" x2="900.6" y2="244.5" stroke="#2e2e2e" stroke-width="3" />
<line x1="886.6" y1="230.1" x2="900.6" y2="230.1" stroke="#2e2e2e" stroke-width="3" />
<line x1="886.6" y1="215.7" x2="900.6" y2="215.7" stroke="#2e2e2e" stroke-width="3" />
<line x1="876.6" y1="201.3" x2="900.6" y2="201.3" stroke="#2e2e2e" stroke-width="3" />
<line x1="886.6" y1="186.9" x2="900.6" y2="186.9" stroke="#2e2e2e" stroke-width="3" />
<line x1="886.6" y1="172.5" x2="900.6" y2="172.5" stroke="#2e2e2e" stroke-width="3" />
<line x1="886.6" y1="158.1" x2="900.6" y2="158.1" stroke="#2e2e2e" stroke-width="3" />
<line x1="886.6" y1="143.7" x2="900.6" y2="143.7" stroke="#2e2e2e" stroke-width="3" />
<line x1="876.6" y1="129.3" x2="900.6" y2="129.3" stroke="#2e2e2e" stroke-width="3" />
<line x1="886.6" y1="114.9" x2="900.6" y2="114.9" stroke="#2e2e2e" stroke-width="3" />
<text x="874.0" y="417.3" font-size="28" fill="#2e2e2e" stroke="#2e2e2e" stroke-width="0.8" text-anchor="middle" textLength="12.9" lengthAdjust="spacingAndGlyphs" transform="rotate(-90 874.0 417.3)">0</text>
<text x="874.0" y="345.3" font-size="28" fill="#2e2e2e" stroke="#2e2e2e" stroke-width="0.8" text-anchor="middle" textLength="25.8" lengthAdjust="spacingAndGlyphs" transform="rotate(-90 874.0 345.3)">25</text>
<text x="874.0" y="273.3" font-size="28" fill="#2e2e2e" stroke="#2e2e2e" stroke-width="0.8" text-anchor="middle" textLength="25.8" lengthAdjust="spacingAndGlyphs" transform="rotate(-90 874.0 273.3)">50</text>
<text x="874.0" y="201.3" font-size="28" fill="#2e2e2e" stroke="#2e2e2e" stroke-width="0.8" text-anchor="middle" textLength="25.8" lengthAdjust="spacingAndGlyphs" transform="rotate(-90 874.0 201.3)">75</text>
<text x="874.0" y="129.3" font-size="28" fill="#2e2e2e" stroke="#2e2e2e" stroke-width="0.8" text-anchor="middle" textLength="38.7" lengthAdjust="spacingAndGlyphs" transform="rotate(-90 874.0 129.3)">100</text>
<text x="842.5" y="292.2" font-size="34" fill="#2e2e2e" stroke="#2e2e2e" stroke-width="0.6" textLength="81.6" lengthAdjust="spacingAndGlyphs" transform="rotate(-90 842.5 292.2)">Count</text>
<line x1="906.6" y1="417.5" x2="906.6" y2="433.5" stroke="#2e2e2e" stroke-width="2.8" />
<line x1="925.7" y1="417.5" x2="925.7" y2="433.5" stroke="#2e2e2e" stroke-width="2.8" />
<line x1="940.5" y1="417.5" x2="940.5" y2="433.5" stroke="#2e2e2e" stroke-width="2.8" />
<line x1="952.6" y1="417.5" x2="952.6" y2="433.5" stroke="#2e2e2e" stroke-width="2.8" />
<line x1="962.8" y1="417.5" x2="962.8" y2="433.5" stroke="#2e2e2e" stroke-width="2.8" />
<line x1="971.7" y1="417.5" x2="971.7" y2="433.5" stroke="#2e2e2e" stroke-width="2.8" />
<line x1="979.5" y1="417.5" x2="979.5" y2="433.5" stroke="#2e2e2e" stroke-width="2.8" />
<line x1="986.5" y1="417.5" x2="986.5" y2="444.5" stroke="#2e2e2e" stroke-width="3" />
<line x1="1032.5" y1="417.5" x2="1032.5" y2="433.5" stroke="#2e2e2e" stroke-width="2.8" />
<line x1="1059.5" y1="417.5" x2="1059.5" y2="433.5" stroke="#2e2e2e" stroke-width="2.8" />
<line x1="1078.6" y1="417.5" x2="1078.6" y2="433.5" stroke="#2e2e2e" stroke-width="2.8" />
<line x1="1093.4" y1="417.5" x2="1093.4" y2="433.5" stroke="#2e2e2e" stroke-width="2.8" />
<line x1="1105.5" y1="417.5" x2="1105.5" y2="433.5" stroke="#2e2e2e" stroke-width="2.8" />
<line x1="1115.7" y1="417.5" x2="1115.7" y2="433.5" stroke="#2e2e2e" stroke-width="2.8" />
<line x1="1124.6" y1="417.5" x2="1124.6" y2="433.5" stroke="#2e2e2e" stroke-width="2.8" />
<line x1="1132.4" y1="417.5" x2="1132.4" y2="433.5" stroke="#2e2e2e" stroke-width="2.8" />
<line x1="1139.4" y1="417.5" x2="1139.4" y2="444.5" stroke="#2e2e2e" stroke-width="3" />
<line x1="1184.6" y1="417.5" x2="1184.6" y2="433.5" stroke="#2e2e2e" stroke-width="2.8" />
<line x1="1211.1" y1="417.5" x2="1211.1" y2="433.5" stroke="#2e2e2e" stroke-width="2.8" />
<line x1="1229.8" y1="417.5" x2="1229.8" y2="433.5" stroke="#2e2e2e" stroke-width="2.8" />
<line x1="1244.4" y1="417.5" x2="1244.4" y2="433.5" stroke="#2e2e2e" stroke-width="2.8" />
<line x1="1256.3" y1="417.5" x2="1256.3" y2="433.5" stroke="#2e2e2e" stroke-width="2.8" />
<line x1="1266.3" y1="417.5" x2="1266.3" y2="433.5" stroke="#2e2e2e" stroke-width="2.8" />
<line x1="1275.0" y1="417.5" x2="1275.0" y2="433.5" stroke="#2e2e2e" stroke-width="2.8" />
<line x1="1282.7" y1="417.5" x2="1282.7" y2="433.5" stroke="#2e2e2e" stroke-width="2.8" />
<line x1="1289.6" y1="417.5" x2="1289.6" y2="444.5" stroke="#2e2e2e" stroke-width="3" />
<line x1="1334.8" y1="417.5" x2="1334.8" y2="433.5" stroke="#2e2e2e" stroke-width="2.8" />
<line x1="1361.3" y1="417.5" x2="1361.3" y2="433.5" stroke="#2e2e2e" stroke-width="2.8" />
<line x1="1380.0" y1="417.5" x2="1380.0" y2="433.5" stroke="#2e2e2e" stroke-width="2.8" />
<line x1="1394.6" y1="417.5" x2="1394.6" y2="433.5" stroke="#2e2e2e" stroke-width="2.8" />
<line x1="1406.5" y1="417.5" x2="1406.5" y2="433.5" stroke="#2e2e2e" stroke-width="2.8" />
<line x1="1416.5" y1="417.5" x2="1416.5" y2="433.5" stroke="#2e2e2e" stroke-width="2.8" />
<line x1="1425.2" y1="417.5" x2="1425.2" y2="433.5" stroke="#2e2e2e" stroke-width="2.8" />
<line x1="1432.9" y1="417.5" x2="1432.9" y2="433.5" stroke="#2e2e2e" stroke-width="2.8" />
<line x1="1439.8" y1="417.5" x2="1439.8" y2="444.5" stroke="#2e2e2e" stroke-width="3" />
<line x1="1485.0" y1="417.5" x2="1485.0" y2="433.5" stroke="#2e2e2e" stroke-width="2.8" />
<text x="968.5" y="468.0" font-size="28" fill="#2e2e2e" stroke="#2e2e2e" stroke-width="0.8"><tspan textLength="23.0" lengthAdjust="spacingAndGlyphs">10</tspan><tspan x="993.0" dy="-12.5" font-size="22" textLength="12.0" lengthAdjust="spacingAndGlyphs">2</tspan></text>
<text x="1121.4" y="468.0" font-size="28" fill="#2e2e2e" stroke="#2e2e2e" stroke-width="0.8"><tspan textLength="23.0" lengthAdjust="spacingAndGlyphs">10</tspan><tspan x="1145.9" dy="-12.5" font-size="22" textLength="12.0" lengthAdjust="spacingAndGlyphs">3</tspan></text>
<text x="1271.6" y="468.0" font-size="28" fill="#2e2e2e" stroke="#2e2e2e" stroke-width="0.8"><tspan textLength="23.0" lengthAdjust="spacingAndGlyphs">10</tspan><tspan x="1296.1" dy="-12.5" font-size="22" textLength="12.0" lengthAdjust="spacingAndGlyphs">4</tspan></text>
<text x="1421.8" y="468.0" font-size="28" fill="#2e2e2e" stroke="#2e2e2e" stroke-width="0.8"><tspan textLength="23.0" lengthAdjust="spacingAndGlyphs">10</tspan><tspan x="1446.3" dy="-12.5" font-size="22" textLength="12.0" lengthAdjust="spacingAndGlyphs">5</tspan></text>
<text x="1161.0" y="496.0" font-size="32" fill="#2e2e2e" textLength="77.0" lengthAdjust="spacingAndGlyphs" stroke="#2e2e2e" stroke-width="0.6">PE-A</text>
</g>
<g>
<polygon points="121.0,856.0 121.0,522.5 129.4,522.5 129.4,856.0" fill="#00FD62"/>
<polygon points="131.0,856.0 131.0,854.9 133.7,854.9 133.7,854.7 136.4,854.7 136.4,853.5 139.1,853.5 139.1,853.5 141.8,853.5 141.8,853.6 144.5,853.6 144.5,854.1 147.2,854.1 147.2,853.9 149.9,853.9 149.9,851.8 152.6,851.8 152.6,852.4 155.3,852.4 155.3,851.4 158.0,851.4 158.0,849.4 160.7,849.4 160.7,850.1 163.4,850.1 163.4,847.7 166.1,847.7 166.1,848.6 168.8,848.6 168.8,846.0 171.5,846.0 171.5,848.5 174.2,848.5 174.2,848.5 176.9,848.5 176.9,848.9 179.6,848.9 179.6,848.4 182.3,848.4 182.3,848.8 185.0,848.8 185.0,851.0 187.7,851.0 187.7,851.4 190.4,851.4 190.4,851.5 193.1,851.5 193.1,851.4 195.8,851.4 195.8,851.7 198.5,851.7 198.5,851.9 201.2,851.9 201.2,852.3 203.9,852.3 203.9,850.8 206.6,850.8 206.6,852.5 209.3,852.5 209.3,852.7 212.0,852.7 212.0,851.1 214.7,851.1 214.7,852.8 217.4,852.8 217.4,849.8 220.1,849.8 220.1,849.9 222.8,849.9 222.8,847.8 225.5,847.8 225.5,845.7 228.2,845.7 228.2,845.7 230.9,845.7 230.9,843.2 233.6,843.2 233.6,842.2 236.3,842.2 236.3,843.1 239.0,843.1 239.0,842.2 241.7,842.2 241.7,838.1 244.4,838.1 244.4,836.3 247.1,836.3 247.1,835.3 249.8,835.3 249.8,833.1 252.5,833.1 252.5,829.0 255.2,829.0 255.2,827.5 257.9,827.5 257.9,826.9 260.6,826.9 260.6,825.1 263.3,825.1 263.3,826.0 266.0,826.0 266.0,820.8 268.7,820.8 268.7,820.2 271.4,820.2 271.4,801.8 274.1,801.8 274.1,798.6 276.8,798.6 276.8,793.9 279.5,793.9 279.5,787.8 282.2,787.8 282.2,777.6 284.9,777.6 284.9,769.7 287.6,769.7 287.6,755.3 290.3,755.3 290.3,758.9 293.0,758.9 293.0,747.5 295.7,747.5 295.7,747.2 298.4,747.2 298.4,756.4 301.1,756.4 301.1,737.8 303.8,737.8 303.8,754.7 306.5,754.7 306.5,729.2 309.2,729.2 309.2,737.6 311.9,737.6 311.9,733.6 314.6,733.6 314.6,740.2 317.3,740.2 317.3,728.3 320.0,728.3 320.0,724.6 322.7,724.6 322.7,718.4 325.4,718.4 325.4,686.3 328.1,686.3 328.1,707.8 330.8,707.8 330.8,704.4 333.5,704.4 333.5,694.5 336.2,694.5 336.2,669.5 338.9,669.5 338.9,667.5 341.6,667.5 341.6,638.6 344.3,638.6 344.3,659.9 347.0,659.9 347.0,613.1 349.7,613.1 349.7,630.6 352.4,630.6 352.4,638.6 355.1,638.6 355.1,642.0 357.8,642.0 357.8,636.6 360.5,636.6 360.5,621.5 363.2,621.5 363.2,614.5 365.9,614.5 365.9,635.9 368.6,635.9 368.6,590.7 371.3,590.7 371.3,630.7 374.0,630.7 374.0,585.7 376.7,585.7 376.7,574.5 379.4,574.5 379.4,567.7 382.1,567.7 382.1,586.6 384.8,586.6 384.8,524.5 387.5,524.5 387.5,583.0 390.2,583.0 390.2,610.5 392.9,610.5 392.9,604.6 395.6,604.6 395.6,613.8 398.3,613.8 398.3,620.2 401.0,620.2 401.0,634.8 403.7,634.8 403.7,633.5 406.4,633.5 406.4,601.3 409.1,601.3 409.1,641.6 411.8,641.6 411.8,642.3 414.5,642.3 414.5,641.2 417.2,641.2 417.2,658.2 419.9,658.2 419.9,665.7 422.6,665.7 422.6,649.5 425.3,649.5 425.3,643.1 428.0,643.1 428.0,655.3 430.7,655.3 430.7,683.0 433.4,683.0 433.4,708.1 436.1,708.1 436.1,689.5 438.8,689.5 438.8,726.4 441.5,726.4 441.5,716.0 444.2,716.0 444.2,749.9 446.9,749.9 446.9,754.5 449.6,754.5 449.6,764.6 452.3,764.6 452.3,768.2 455.0,768.2 455.0,779.6 457.7,779.6 457.7,774.3 460.4,774.3 460.4,782.4 463.1,782.4 463.1,786.1 465.8,786.1 465.8,802.6 468.5,802.6 468.5,819.4 471.2,819.4 471.2,816.0 473.9,816.0 473.9,813.2 476.6,813.2 476.6,805.0 479.3,805.0 479.3,821.0 482.0,821.0 482.0,822.7 484.7,822.7 484.7,827.9 487.4,827.9 487.4,830.0 490.1,830.0 490.1,837.1 492.8,837.1 492.8,839.8 495.5,839.8 495.5,841.1 498.2,841.1 498.2,842.7 500.9,842.7 500.9,844.7 503.6,844.7 503.6,846.3 506.3,846.3 506.3,847.8 509.0,847.8 509.0,848.9 511.7,848.9 511.7,849.2 514.4,849.2 514.4,850.0 517.1,850.0 517.1,851.8 519.8,851.8 519.8,852.1 522.5,852.1 522.5,851.8 525.2,851.8 525.2,850.8 527.9,850.8 527.9,851.2 530.6,851.2 530.6,851.2 533.3,851.2 533.3,850.0 536.0,850.0 536.0,851.1 538.7,851.1 538.7,852.4 541.4,852.4 541.4,853.0 544.1,853.0 544.1,854.5 546.8,854.5 546.8,853.7 549.5,853.7 549.5,855.3 552.2,855.3 552.2,854.8 554.9,854.8 554.9,855.3 557.6,855.3 557.6,855.8 560.0,855.8 560.0,856.0" fill="#00FD62"/>
<line x1="243.0" y1="840.1" x2="243.0" y2="843.8" stroke="#00E214" stroke-width="1.6" stroke-opacity="0.8"/>
<line x1="245.7" y1="838.3" x2="245.7" y2="841.7" stroke="#00E214" stroke-width="1.6" stroke-opacity="0.8"/>
<line x1="264.6" y1="828.0" x2="264.6" y2="835.6" stroke="#00E214" stroke-width="1.6" stroke-opacity="0.8"/>
<line x1="275.4" y1="800.6" x2="275.4" y2="809.3" stroke="#00E214" stroke-width="1.6" stroke-opacity="0.8"/>
<line x1="278.1" y1="795.9" x2="278.1" y2="811.9" stroke="#00E214" stroke-width="1.6" stroke-opacity="0.8"/>
<line x1="332.1" y1="706.4" x2="332.1" y2="757.5" stroke="#00E214" stroke-width="1.6" stroke-opacity="0.8"/>
<line x1="337.5" y1="671.5" x2="337.5" y2="696.6" stroke="#00E214" stroke-width="1.6" stroke-opacity="0.8"/>
<line x1="356.4" y1="644.0" x2="356.4" y2="718.2" stroke="#00E214" stroke-width="1.6" stroke-opacity="0.8"/>
<line x1="367.2" y1="637.9" x2="367.2" y2="701.4" stroke="#00E214" stroke-width="1.6" stroke-opacity="0.8"/>
<line x1="369.9" y1="592.7" x2="369.9" y2="635.6" stroke="#00E214" stroke-width="1.6" stroke-opacity="0.8"/>
<line x1="375.3" y1="587.7" x2="375.3" y2="622.9" stroke="#00E214" stroke-width="1.6" stroke-opacity="0.8"/>
<line x1="388.8" y1="585.0" x2="388.8" y2="652.7" stroke="#00E214" stroke-width="1.6" stroke-opacity="0.8"/>
<line x1="391.5" y1="612.5" x2="391.5" y2="653.7" stroke="#00E214" stroke-width="1.6" stroke-opacity="0.8"/>
<line x1="415.8" y1="643.2" x2="415.8" y2="710.7" stroke="#00E214" stroke-width="1.6" stroke-opacity="0.8"/>
<line x1="423.9" y1="651.5" x2="423.9" y2="681.6" stroke="#00E214" stroke-width="1.6" stroke-opacity="0.8"/>
<line x1="426.6" y1="645.1" x2="426.6" y2="671.7" stroke="#00E214" stroke-width="1.6" stroke-opacity="0.8"/>
<line x1="429.3" y1="657.3" x2="429.3" y2="715.5" stroke="#00E214" stroke-width="1.6" stroke-opacity="0.8"/>
<line x1="440.1" y1="728.4" x2="440.1" y2="770.0" stroke="#00E214" stroke-width="1.6" stroke-opacity="0.8"/>
<line x1="445.5" y1="751.9" x2="445.5" y2="770.5" stroke="#00E214" stroke-width="1.6" stroke-opacity="0.8"/>
<line x1="453.6" y1="770.2" x2="453.6" y2="792.0" stroke="#00E214" stroke-width="1.6" stroke-opacity="0.8"/>
<line x1="464.4" y1="788.1" x2="464.4" y2="799.1" stroke="#00E214" stroke-width="1.6" stroke-opacity="0.8"/>
<line x1="469.8" y1="821.4" x2="469.8" y2="829.2" stroke="#00E214" stroke-width="1.6" stroke-opacity="0.8"/>
<line x1="480.6" y1="823.0" x2="480.6" y2="830.2" stroke="#00E214" stroke-width="1.6" stroke-opacity="0.8"/>
<line x1="121.2" y1="522.2" x2="731.0" y2="522.2" stroke="#bdbdbd" stroke-width="2.4" />
<line x1="121.2" y1="522.2" x2="121.2" y2="856.0" stroke="#0a5a20" stroke-width="2.5" />
<line x1="731.0" y1="521.0" x2="731.0" y2="857.5" stroke="#262626" stroke-width="6" />
<line x1="96.7" y1="856.0" x2="731.0" y2="856.0" stroke="#2a2a2a" stroke-width="3" />
<line x1="271.4" y1="856.0" x2="731.0" y2="856.0" stroke="#222" stroke-width="6" />
<line x1="271.4" y1="522.2" x2="271.4" y2="856.0" stroke="#3a3a3a" stroke-width="3.2" />
<line x1="96.7" y1="856.0" x2="121.2" y2="856.0" stroke="#2e2e2e" stroke-width="3" />
<line x1="106.7" y1="843.6" x2="121.2" y2="843.6" stroke="#2e2e2e" stroke-width="3" />
<line x1="106.7" y1="831.2" x2="121.2" y2="831.2" stroke="#2e2e2e" stroke-width="3" />
<line x1="106.7" y1="818.8" x2="121.2" y2="818.8" stroke="#2e2e2e" stroke-width="3" />
<line x1="106.7" y1="806.4" x2="121.2" y2="806.4" stroke="#2e2e2e" stroke-width="3" />
<line x1="96.7" y1="794.0" x2="121.2" y2="794.0" stroke="#2e2e2e" stroke-width="3" />
<line x1="106.7" y1="781.6" x2="121.2" y2="781.6" stroke="#2e2e2e" stroke-width="3" />
<line x1="106.7" y1="769.2" x2="121.2" y2="769.2" stroke="#2e2e2e" stroke-width="3" />
<line x1="106.7" y1="756.8" x2="121.2" y2="756.8" stroke="#2e2e2e" stroke-width="3" />
<line x1="106.7" y1="744.4" x2="121.2" y2="744.4" stroke="#2e2e2e" stroke-width="3" />
<line x1="96.7" y1="732.0" x2="121.2" y2="732.0" stroke="#2e2e2e" stroke-width="3" />
<line x1="106.7" y1="719.6" x2="121.2" y2="719.6" stroke="#2e2e2e" stroke-width="3" />
<line x1="106.7" y1="707.2" x2="121.2" y2="707.2" stroke="#2e2e2e" stroke-width="3" />
<line x1="106.7" y1="694.8" x2="121.2" y2="694.8" stroke="#2e2e2e" stroke-width="3" />
<line x1="106.7" y1="682.4" x2="121.2" y2="682.4" stroke="#2e2e2e" stroke-width="3" />
<line x1="96.7" y1="670.0" x2="121.2" y2="670.0" stroke="#2e2e2e" stroke-width="3" />
<line x1="106.7" y1="657.6" x2="121.2" y2="657.6" stroke="#2e2e2e" stroke-width="3" />
<line x1="106.7" y1="645.2" x2="121.2" y2="645.2" stroke="#2e2e2e" stroke-width="3" />
<line x1="106.7" y1="632.8" x2="121.2" y2="632.8" stroke="#2e2e2e" stroke-width="3" />
<line x1="106.7" y1="620.4" x2="121.2" y2="620.4" stroke="#2e2e2e" stroke-width="3" />
<line x1="96.7" y1="608.0" x2="121.2" y2="608.0" stroke="#2e2e2e" stroke-width="3" />
<line x1="106.7" y1="595.6" x2="121.2" y2="595.6" stroke="#2e2e2e" stroke-width="3" />
<line x1="106.7" y1="583.2" x2="121.2" y2="583.2" stroke="#2e2e2e" stroke-width="3" />
<line x1="106.7" y1="570.8" x2="121.2" y2="570.8" stroke="#2e2e2e" stroke-width="3" />
<line x1="106.7" y1="558.4" x2="121.2" y2="558.4" stroke="#2e2e2e" stroke-width="3" />
<line x1="96.7" y1="546.0" x2="121.2" y2="546.0" stroke="#2e2e2e" stroke-width="3" />
<line x1="106.7" y1="533.6" x2="121.2" y2="533.6" stroke="#2e2e2e" stroke-width="3" />
<text x="94.0" y="856.0" font-size="28" fill="#2e2e2e" stroke="#2e2e2e" stroke-width="0.8" text-anchor="middle" textLength="12.9" lengthAdjust="spacingAndGlyphs" transform="rotate(-90 94.0 856.0)">0</text>
<text x="94.0" y="794.0" font-size="28" fill="#2e2e2e" stroke="#2e2e2e" stroke-width="0.8" text-anchor="middle" textLength="25.8" lengthAdjust="spacingAndGlyphs" transform="rotate(-90 94.0 794.0)">25</text>
<text x="94.0" y="732.0" font-size="28" fill="#2e2e2e" stroke="#2e2e2e" stroke-width="0.8" text-anchor="middle" textLength="25.8" lengthAdjust="spacingAndGlyphs" transform="rotate(-90 94.0 732.0)">50</text>
<text x="94.0" y="670.0" font-size="28" fill="#2e2e2e" stroke="#2e2e2e" stroke-width="0.8" text-anchor="middle" textLength="25.8" lengthAdjust="spacingAndGlyphs" transform="rotate(-90 94.0 670.0)">75</text>
<text x="94.0" y="608.0" font-size="28" fill="#2e2e2e" stroke="#2e2e2e" stroke-width="0.8" text-anchor="middle" textLength="38.7" lengthAdjust="spacingAndGlyphs" transform="rotate(-90 94.0 608.0)">100</text>
<text x="94.0" y="546.0" font-size="28" fill="#2e2e2e" stroke="#2e2e2e" stroke-width="0.8" text-anchor="middle" textLength="38.7" lengthAdjust="spacingAndGlyphs" transform="rotate(-90 94.0 546.0)">125</text>
<g clip-path="url(#clipB1)"><text x="64.0" y="725.3" font-size="32" fill="#2e2e2e" stroke="#2e2e2e" stroke-width="0.6" textLength="89.8" lengthAdjust="spacingAndGlyphs" transform="rotate(-90 64.0 725.3)">Count</text></g>
<line x1="127.0" y1="856.0" x2="127.0" y2="871.5" stroke="#2e2e2e" stroke-width="2.8" />
<line x1="146.2" y1="856.0" x2="146.2" y2="871.5" stroke="#2e2e2e" stroke-width="2.8" />
<line x1="161.1" y1="856.0" x2="161.1" y2="871.5" stroke="#2e2e2e" stroke-width="2.8" />
<line x1="173.3" y1="856.0" x2="173.3" y2="871.5" stroke="#2e2e2e" stroke-width="2.8" />
<line x1="183.6" y1="856.0" x2="183.6" y2="871.5" stroke="#2e2e2e" stroke-width="2.8" />
<line x1="192.6" y1="856.0" x2="192.6" y2="871.5" stroke="#2e2e2e" stroke-width="2.8" />
<line x1="200.5" y1="856.0" x2="200.5" y2="871.5" stroke="#2e2e2e" stroke-width="2.8" />
<line x1="207.5" y1="856.0" x2="207.5" y2="886.2" stroke="#2e2e2e" stroke-width="3" />
<line x1="253.9" y1="856.0" x2="253.9" y2="871.5" stroke="#2e2e2e" stroke-width="2.8" />
<line x1="281.0" y1="856.0" x2="281.0" y2="871.5" stroke="#2e2e2e" stroke-width="2.8" />
<line x1="300.2" y1="856.0" x2="300.2" y2="871.5" stroke="#2e2e2e" stroke-width="2.8" />
<line x1="315.1" y1="856.0" x2="315.1" y2="871.5" stroke="#2e2e2e" stroke-width="2.8" />
<line x1="327.3" y1="856.0" x2="327.3" y2="871.5" stroke="#2e2e2e" stroke-width="2.8" />
<line x1="337.6" y1="856.0" x2="337.6" y2="871.5" stroke="#2e2e2e" stroke-width="2.8" />
<line x1="346.6" y1="856.0" x2="346.6" y2="871.5" stroke="#2e2e2e" stroke-width="2.8" />
<line x1="354.5" y1="856.0" x2="354.5" y2="871.5" stroke="#2e2e2e" stroke-width="2.8" />
<line x1="361.5" y1="856.0" x2="361.5" y2="886.2" stroke="#2e2e2e" stroke-width="3" />
<line x1="407.2" y1="856.0" x2="407.2" y2="871.5" stroke="#2e2e2e" stroke-width="2.8" />
<line x1="434.0" y1="856.0" x2="434.0" y2="871.5" stroke="#2e2e2e" stroke-width="2.8" />
<line x1="453.0" y1="856.0" x2="453.0" y2="871.5" stroke="#2e2e2e" stroke-width="2.8" />
<line x1="467.7" y1="856.0" x2="467.7" y2="871.5" stroke="#2e2e2e" stroke-width="2.8" />
<line x1="479.7" y1="856.0" x2="479.7" y2="871.5" stroke="#2e2e2e" stroke-width="2.8" />
<line x1="489.9" y1="856.0" x2="489.9" y2="871.5" stroke="#2e2e2e" stroke-width="2.8" />
<line x1="498.7" y1="856.0" x2="498.7" y2="871.5" stroke="#2e2e2e" stroke-width="2.8" />
<line x1="506.4" y1="856.0" x2="506.4" y2="871.5" stroke="#2e2e2e" stroke-width="2.8" />
<line x1="513.4" y1="856.0" x2="513.4" y2="886.2" stroke="#2e2e2e" stroke-width="3" />
<line x1="559.9" y1="856.0" x2="559.9" y2="871.5" stroke="#2e2e2e" stroke-width="2.8" />
<line x1="587.2" y1="856.0" x2="587.2" y2="871.5" stroke="#2e2e2e" stroke-width="2.8" />
<line x1="606.5" y1="856.0" x2="606.5" y2="871.5" stroke="#2e2e2e" stroke-width="2.8" />
<line x1="621.5" y1="856.0" x2="621.5" y2="871.5" stroke="#2e2e2e" stroke-width="2.8" />
<line x1="633.7" y1="856.0" x2="633.7" y2="871.5" stroke="#2e2e2e" stroke-width="2.8" />
<line x1="644.1" y1="856.0" x2="644.1" y2="871.5" stroke="#2e2e2e" stroke-width="2.8" />
<line x1="653.0" y1="856.0" x2="653.0" y2="871.5" stroke="#2e2e2e" stroke-width="2.8" />
<line x1="660.9" y1="856.0" x2="660.9" y2="871.5" stroke="#2e2e2e" stroke-width="2.8" />
<line x1="668.0" y1="856.0" x2="668.0" y2="886.2" stroke="#2e2e2e" stroke-width="3" />
<line x1="714.5" y1="856.0" x2="714.5" y2="871.5" stroke="#2e2e2e" stroke-width="2.8" />
<text x="189.5" y="908.0" font-size="28" fill="#2e2e2e" stroke="#2e2e2e" stroke-width="0.8"><tspan textLength="23.0" lengthAdjust="spacingAndGlyphs">10</tspan><tspan x="214.0" dy="-12.5" font-size="22" textLength="12.0" lengthAdjust="spacingAndGlyphs">2</tspan></text>
<text x="343.5" y="908.0" font-size="28" fill="#2e2e2e" stroke="#2e2e2e" stroke-width="0.8"><tspan textLength="23.0" lengthAdjust="spacingAndGlyphs">10</tspan><tspan x="368.0" dy="-12.5" font-size="22" textLength="12.0" lengthAdjust="spacingAndGlyphs">3</tspan></text>
<text x="495.4" y="908.0" font-size="28" fill="#2e2e2e" stroke="#2e2e2e" stroke-width="0.8"><tspan textLength="23.0" lengthAdjust="spacingAndGlyphs">10</tspan><tspan x="519.9" dy="-12.5" font-size="22" textLength="12.0" lengthAdjust="spacingAndGlyphs">4</tspan></text>
<text x="650.0" y="908.0" font-size="28" fill="#2e2e2e" stroke="#2e2e2e" stroke-width="0.8"><tspan textLength="23.0" lengthAdjust="spacingAndGlyphs">10</tspan><tspan x="674.5" dy="-12.5" font-size="22" textLength="12.0" lengthAdjust="spacingAndGlyphs">5</tspan></text>
<text x="386.7" y="938.3" font-size="32" fill="#2e2e2e" textLength="76.3" lengthAdjust="spacingAndGlyphs" stroke="#2e2e2e" stroke-width="0.6">PE-A</text>
</g>
<g>
<polygon points="885.6,855.0 885.6,697.5 891.0,697.5 893.0,770.0 896.0,852.0 896.0,855.0" fill="#00FD62"/>
<polygon points="897.0,855.2 897.0,852.1 899.7,852.1 899.7,850.0 902.4,850.0 902.4,848.4 905.1,848.4 905.1,847.3 907.8,847.3 907.8,843.0 910.5,843.0 910.5,845.0 913.2,845.0 913.2,844.3 915.9,844.3 915.9,845.7 918.6,845.7 918.6,847.1 921.3,847.1 921.3,846.4 924.0,846.4 924.0,848.1 926.7,848.1 926.7,849.1 929.4,849.1 929.4,848.0 932.1,848.0 932.1,848.6 934.8,848.6 934.8,846.3 937.5,846.3 937.5,845.5 940.2,845.5 940.2,846.3 942.9,846.3 942.9,845.2 945.6,845.2 945.6,844.7 948.3,844.7 948.3,842.0 951.0,842.0 951.0,843.6 953.7,843.6 953.7,843.7 956.4,843.7 956.4,843.2 959.1,843.2 959.1,842.6 961.8,842.6 961.8,843.2 964.5,843.2 964.5,843.5 967.2,843.5 967.2,844.0 969.9,844.0 969.9,843.1 972.6,843.1 972.6,843.1 975.3,843.1 975.3,844.7 978.0,844.7 978.0,844.7 980.7,844.7 980.7,845.0 983.4,845.0 983.4,844.4 986.1,844.4 986.1,845.2 988.8,845.2 988.8,846.3 991.5,846.3 991.5,846.2 994.2,846.2 994.2,846.3 996.9,846.3 996.9,846.3 999.6,846.3 999.6,847.4 1002.3,847.4 1002.3,847.1 1005.0,847.1 1005.0,845.6 1007.7,845.6 1007.7,846.3 1010.4,846.3 1010.4,845.6 1013.1,845.6 1013.1,845.3 1015.8,845.3 1015.8,843.6 1018.5,843.6 1018.5,843.0 1021.2,843.0 1021.2,845.6 1023.9,845.6 1023.9,845.9 1026.6,845.9 1026.6,847.3 1029.3,847.3 1029.3,850.1 1032.0,850.1 1032.0,850.3 1034.7,850.3 1034.7,852.8 1037.4,852.8 1037.4,851.3 1040.1,851.3 1040.1,851.3 1042.8,851.3 1042.8,851.5 1045.5,851.5 1045.5,852.1 1048.2,852.1 1048.2,852.4 1050.9,852.4 1050.9,852.4 1053.6,852.4 1053.6,853.3 1056.3,853.3 1056.3,853.8 1059.0,853.8 1059.0,853.1 1061.7,853.1 1061.7,852.4 1064.4,852.4 1064.4,852.5 1067.1,852.5 1067.1,853.1 1069.8,853.1 1069.8,852.1 1072.5,852.1 1072.5,851.4 1075.2,851.4 1075.2,852.1 1077.9,852.1 1077.9,851.1 1080.6,851.1 1080.6,851.9 1083.3,851.9 1083.3,851.2 1086.0,851.2 1086.0,850.3 1088.7,850.3 1088.7,849.2 1091.4,849.2 1091.4,846.6 1094.1,846.6 1094.1,845.4 1096.8,845.4 1096.8,843.1 1099.5,843.1 1099.5,839.8 1102.2,839.8 1102.2,837.4 1104.9,837.4 1104.9,833.9 1107.6,833.9 1107.6,827.6 1110.3,827.6 1110.3,827.0 1113.0,827.0 1113.0,819.8 1115.7,819.8 1115.7,809.3 1118.4,809.3 1118.4,805.2 1121.1,805.2 1121.1,789.6 1123.8,789.6 1123.8,778.9 1126.5,778.9 1126.5,767.0 1129.2,767.0 1129.2,734.0 1131.9,734.0 1131.9,720.0 1134.6,720.0 1134.6,710.2 1137.3,710.2 1137.3,701.6 1140.0,701.6 1140.0,676.9 1142.7,676.9 1142.7,685.0 1145.4,685.0 1145.4,650.3 1148.1,650.3 1148.1,634.7 1150.8,634.7 1150.8,610.0 1153.5,610.0 1153.5,589.8 1156.2,589.8 1156.2,611.7 1158.9,611.7 1158.9,611.3 1161.6,611.3 1161.6,594.4 1164.3,594.4 1164.3,592.9 1167.0,592.9 1167.0,568.3 1169.7,568.3 1169.7,577.3 1172.4,577.3 1172.4,549.6 1175.1,549.6 1175.1,565.5 1177.8,565.5 1177.8,526.0 1180.5,526.0 1180.5,559.1 1183.2,559.1 1183.2,570.1 1185.9,570.1 1185.9,565.3 1188.6,565.3 1188.6,581.8 1191.3,581.8 1191.3,591.4 1194.0,591.4 1194.0,585.6 1196.7,585.6 1196.7,581.2 1199.4,581.2 1199.4,589.1 1202.1,589.1 1202.1,615.0 1204.8,615.0 1204.8,603.5 1207.5,603.5 1207.5,614.0 1210.2,614.0 1210.2,639.8 1212.9,639.8 1212.9,656.3 1215.6,656.3 1215.6,667.0 1218.3,667.0 1218.3,673.6 1221.0,673.6 1221.0,686.6 1223.7,686.6 1223.7,694.9 1226.4,694.9 1226.4,705.1 1229.1,705.1 1229.1,709.5 1231.8,709.5 1231.8,720.3 1234.5,720.3 1234.5,728.5 1237.2,728.5 1237.2,734.7 1239.9,734.7 1239.9,741.6 1242.6,741.6 1242.6,752.4 1245.3,752.4 1245.3,761.3 1248.0,761.3 1248.0,764.8 1250.7,764.8 1250.7,783.9 1253.4,783.9 1253.4,786.5 1256.1,786.5 1256.1,802.4 1258.8,802.4 1258.8,805.9 1261.5,805.9 1261.5,811.9 1264.2,811.9 1264.2,819.5 1266.9,819.5 1266.9,822.5 1269.6,822.5 1269.6,828.5 1272.3,828.5 1272.3,835.1 1275.0,835.1 1275.0,838.8 1277.7,838.8 1277.7,842.0 1280.4,842.0 1280.4,845.2 1283.1,845.2 1283.1,847.7 1285.8,847.7 1285.8,849.2 1288.5,849.2 1288.5,850.6 1291.2,850.6 1291.2,853.5 1293.9,853.5 1293.9,852.7 1296.6,852.7 1296.6,852.2 1299.3,852.2 1299.3,851.0 1302.0,851.0 1302.0,849.0 1304.7,849.0 1304.7,848.2 1307.4,848.2 1307.4,847.3 1310.1,847.3 1310.1,846.0 1312.8,846.0 1312.8,848.3 1315.5,848.3 1315.5,849.1 1318.2,849.1 1318.2,848.7 1320.9,848.7 1320.9,851.2 1323.6,851.2 1323.6,851.5 1326.3,851.5 1326.3,851.1 1329.0,851.1 1329.0,850.6 1331.7,850.6 1331.7,848.4 1334.4,848.4 1334.4,847.8 1337.1,847.8 1337.1,849.9 1339.8,849.9 1339.8,851.2 1342.5,851.2 1342.5,850.9 1345.2,850.9 1345.2,851.9 1347.9,851.9 1347.9,853.2 1350.6,853.2 1350.6,854.0 1353.3,854.0 1353.3,853.8 1356.0,853.8 1356.0,854.5 1358.7,854.5 1358.7,854.9 1361.4,854.9 1361.4,855.1 1364.1,855.1 1364.1,855.2 1366.8,855.2 1366.8,854.0 1369.5,854.0 1369.5,854.4 1372.2,854.4 1372.2,854.6 1374.9,854.6 1374.9,854.9 1377.6,854.9 1377.6,855.2" fill="#00FD62"/>
<line x1="1106.3" y1="835.9" x2="1106.3" y2="840.7" stroke="#00E214" stroke-width="1.6" stroke-opacity="0.8"/>
<line x1="1111.7" y1="829.0" x2="1111.7" y2="835.0" stroke="#00E214" stroke-width="1.6" stroke-opacity="0.8"/>
<line x1="1125.2" y1="780.9" x2="1125.2" y2="793.4" stroke="#00E214" stroke-width="1.6" stroke-opacity="0.8"/>
<line x1="1136.0" y1="712.2" x2="1136.0" y2="722.1" stroke="#00E214" stroke-width="1.6" stroke-opacity="0.8"/>
<line x1="1144.1" y1="687.0" x2="1144.1" y2="716.7" stroke="#00E214" stroke-width="1.6" stroke-opacity="0.8"/>
<line x1="1160.3" y1="613.3" x2="1160.3" y2="657.1" stroke="#00E214" stroke-width="1.6" stroke-opacity="0.8"/>
<line x1="1165.7" y1="594.9" x2="1165.7" y2="639.8" stroke="#00E214" stroke-width="1.6" stroke-opacity="0.8"/>
<line x1="1179.2" y1="528.0" x2="1179.2" y2="578.6" stroke="#00E214" stroke-width="1.6" stroke-opacity="0.8"/>
<line x1="1198.1" y1="583.2" x2="1198.1" y2="603.3" stroke="#00E214" stroke-width="1.6" stroke-opacity="0.8"/>
<line x1="1211.6" y1="641.8" x2="1211.6" y2="655.5" stroke="#00E214" stroke-width="1.6" stroke-opacity="0.8"/>
<line x1="1217.0" y1="669.0" x2="1217.0" y2="695.6" stroke="#00E214" stroke-width="1.6" stroke-opacity="0.8"/>
<line x1="1222.4" y1="688.6" x2="1222.4" y2="713.8" stroke="#00E214" stroke-width="1.6" stroke-opacity="0.8"/>
<line x1="1233.2" y1="722.3" x2="1233.2" y2="736.8" stroke="#00E214" stroke-width="1.6" stroke-opacity="0.8"/>
<line x1="1241.3" y1="743.6" x2="1241.3" y2="753.6" stroke="#00E214" stroke-width="1.6" stroke-opacity="0.8"/>
<line x1="1254.8" y1="788.5" x2="1254.8" y2="794.9" stroke="#00E214" stroke-width="1.6" stroke-opacity="0.8"/>
<line x1="1260.2" y1="807.9" x2="1260.2" y2="817.4" stroke="#00E214" stroke-width="1.6" stroke-opacity="0.8"/>
<line x1="1265.6" y1="821.5" x2="1265.6" y2="826.9" stroke="#00E214" stroke-width="1.6" stroke-opacity="0.8"/>
<line x1="1268.3" y1="824.5" x2="1268.3" y2="828.5" stroke="#00E214" stroke-width="1.6" stroke-opacity="0.8"/>
<line x1="885.6" y1="521.2" x2="1496.8" y2="521.2" stroke="#5a5a5a" stroke-width="4" />
<line x1="885.6" y1="521.2" x2="885.6" y2="855.2" stroke="#333" stroke-width="2.6" />
<line x1="1496.8" y1="519.2" x2="1496.8" y2="856.7" stroke="#262626" stroke-width="5.4" />
<line x1="860.6" y1="855.2" x2="1496.8" y2="855.2" stroke="#2a2a2a" stroke-width="3" />
<line x1="1036.7" y1="521.2" x2="1036.7" y2="855.2" stroke="#444" stroke-width="3.4" />
<rect x="996.0" y="517.0" width="13.0" height="2.6" fill="#333" />
<rect x="1408.6" y="517.0" width="21.2" height="2.6" fill="#333" />
<line x1="860.6" y1="855.3" x2="885.6" y2="855.3" stroke="#2e2e2e" stroke-width="3" />
<line x1="871.6" y1="836.3" x2="885.6" y2="836.3" stroke="#2e2e2e" stroke-width="3" />
<line x1="871.6" y1="817.3" x2="885.6" y2="817.3" stroke="#2e2e2e" stroke-width="3" />
<line x1="871.6" y1="798.3" x2="885.6" y2="798.3" stroke="#2e2e2e" stroke-width="3" />
<line x1="871.6" y1="779.3" x2="885.6" y2="779.3" stroke="#2e2e2e" stroke-width="3" />
<line x1="860.6" y1="760.3" x2="885.6" y2="760.3" stroke="#2e2e2e" stroke-width="3" />
<line x1="871.6" y1="741.3" x2="885.6" y2="741.3" stroke="#2e2e2e" stroke-width="3" />
<line x1="871.6" y1="722.3" x2="885.6" y2="722.3" stroke="#2e2e2e" stroke-width="3" />
<line x1="871.6" y1="703.3" x2="885.6" y2="703.3" stroke="#2e2e2e" stroke-width="3" />
<line x1="871.6" y1="684.3" x2="885.6" y2="684.3" stroke="#2e2e2e" stroke-width="3" />
<line x1="860.6" y1="665.3" x2="885.6" y2="665.3" stroke="#2e2e2e" stroke-width="3" />
<line x1="871.6" y1="646.3" x2="885.6" y2="646.3" stroke="#2e2e2e" stroke-width="3" />
<line x1="871.6" y1="627.3" x2="885.6" y2="627.3" stroke="#2e2e2e" stroke-width="3" />
<line x1="871.6" y1="608.3" x2="885.6" y2="608.3" stroke="#2e2e2e" stroke-width="3" />
<line x1="871.6" y1="589.3" x2="885.6" y2="589.3" stroke="#2e2e2e" stroke-width="3" />
<line x1="860.6" y1="570.3" x2="885.6" y2="570.3" stroke="#2e2e2e" stroke-width="3" />
<line x1="871.6" y1="551.3" x2="885.6" y2="551.3" stroke="#2e2e2e" stroke-width="3" />
<line x1="871.6" y1="532.3" x2="885.6" y2="532.3" stroke="#2e2e2e" stroke-width="3" />
<text x="858.0" y="855.3" font-size="28" fill="#2e2e2e" stroke="#2e2e2e" stroke-width="0.8" text-anchor="middle" textLength="12.9" lengthAdjust="spacingAndGlyphs" transform="rotate(-90 858.0 855.3)">0</text>
<text x="858.0" y="760.3" font-size="28" fill="#2e2e2e" stroke="#2e2e2e" stroke-width="0.8" text-anchor="middle" textLength="25.8" lengthAdjust="spacingAndGlyphs" transform="rotate(-90 858.0 760.3)">50</text>
<text x="858.0" y="665.3" font-size="28" fill="#2e2e2e" stroke="#2e2e2e" stroke-width="0.8" text-anchor="middle" textLength="38.7" lengthAdjust="spacingAndGlyphs" transform="rotate(-90 858.0 665.3)">100</text>
<text x="858.0" y="570.3" font-size="28" fill="#2e2e2e" stroke="#2e2e2e" stroke-width="0.8" text-anchor="middle" textLength="38.7" lengthAdjust="spacingAndGlyphs" transform="rotate(-90 858.0 570.3)">150</text>
<text x="829.4" y="722.0" font-size="32" fill="#2e2e2e" stroke="#2e2e2e" stroke-width="0.6" textLength="88.0" lengthAdjust="spacingAndGlyphs" transform="rotate(-90 829.4 722.0)">Count</text>
<line x1="893.0" y1="855.2" x2="893.0" y2="870.5" stroke="#2e2e2e" stroke-width="2.8" />
<line x1="912.2" y1="855.2" x2="912.2" y2="870.5" stroke="#2e2e2e" stroke-width="2.8" />
<line x1="927.1" y1="855.2" x2="927.1" y2="870.5" stroke="#2e2e2e" stroke-width="2.8" />
<line x1="939.3" y1="855.2" x2="939.3" y2="870.5" stroke="#2e2e2e" stroke-width="2.8" />
<line x1="949.6" y1="855.2" x2="949.6" y2="870.5" stroke="#2e2e2e" stroke-width="2.8" />
<line x1="958.6" y1="855.2" x2="958.6" y2="870.5" stroke="#2e2e2e" stroke-width="2.8" />
<line x1="966.5" y1="855.2" x2="966.5" y2="870.5" stroke="#2e2e2e" stroke-width="2.8" />
<line x1="973.5" y1="855.2" x2="973.5" y2="885.0" stroke="#2e2e2e" stroke-width="3" />
<line x1="1019.9" y1="855.2" x2="1019.9" y2="870.5" stroke="#2e2e2e" stroke-width="2.8" />
<line x1="1047.0" y1="855.2" x2="1047.0" y2="870.5" stroke="#2e2e2e" stroke-width="2.8" />
<line x1="1066.2" y1="855.2" x2="1066.2" y2="870.5" stroke="#2e2e2e" stroke-width="2.8" />
<line x1="1081.1" y1="855.2" x2="1081.1" y2="870.5" stroke="#2e2e2e" stroke-width="2.8" />
<line x1="1093.3" y1="855.2" x2="1093.3" y2="870.5" stroke="#2e2e2e" stroke-width="2.8" />
<line x1="1103.6" y1="855.2" x2="1103.6" y2="870.5" stroke="#2e2e2e" stroke-width="2.8" />
<line x1="1112.6" y1="855.2" x2="1112.6" y2="870.5" stroke="#2e2e2e" stroke-width="2.8" />
<line x1="1120.5" y1="855.2" x2="1120.5" y2="870.5" stroke="#2e2e2e" stroke-width="2.8" />
<line x1="1127.5" y1="855.2" x2="1127.5" y2="885.0" stroke="#2e2e2e" stroke-width="3" />
<line x1="1173.0" y1="855.2" x2="1173.0" y2="870.5" stroke="#2e2e2e" stroke-width="2.8" />
<line x1="1199.5" y1="855.2" x2="1199.5" y2="870.5" stroke="#2e2e2e" stroke-width="2.8" />
<line x1="1218.4" y1="855.2" x2="1218.4" y2="870.5" stroke="#2e2e2e" stroke-width="2.8" />
<line x1="1233.0" y1="855.2" x2="1233.0" y2="870.5" stroke="#2e2e2e" stroke-width="2.8" />
<line x1="1245.0" y1="855.2" x2="1245.0" y2="870.5" stroke="#2e2e2e" stroke-width="2.8" />
<line x1="1255.1" y1="855.2" x2="1255.1" y2="870.5" stroke="#2e2e2e" stroke-width="2.8" />
<line x1="1263.9" y1="855.2" x2="1263.9" y2="870.5" stroke="#2e2e2e" stroke-width="2.8" />
<line x1="1271.6" y1="855.2" x2="1271.6" y2="870.5" stroke="#2e2e2e" stroke-width="2.8" />
<line x1="1278.5" y1="855.2" x2="1278.5" y2="885.0" stroke="#2e2e2e" stroke-width="3" />
<line x1="1325.2" y1="855.2" x2="1325.2" y2="870.5" stroke="#2e2e2e" stroke-width="2.8" />
<line x1="1352.6" y1="855.2" x2="1352.6" y2="870.5" stroke="#2e2e2e" stroke-width="2.8" />
<line x1="1372.0" y1="855.2" x2="1372.0" y2="870.5" stroke="#2e2e2e" stroke-width="2.8" />
<line x1="1387.1" y1="855.2" x2="1387.1" y2="870.5" stroke="#2e2e2e" stroke-width="2.8" />
<line x1="1399.3" y1="855.2" x2="1399.3" y2="870.5" stroke="#2e2e2e" stroke-width="2.8" />
<line x1="1409.7" y1="855.2" x2="1409.7" y2="870.5" stroke="#2e2e2e" stroke-width="2.8" />
<line x1="1418.7" y1="855.2" x2="1418.7" y2="870.5" stroke="#2e2e2e" stroke-width="2.8" />
<line x1="1426.7" y1="855.2" x2="1426.7" y2="870.5" stroke="#2e2e2e" stroke-width="2.8" />
<line x1="1433.8" y1="855.2" x2="1433.8" y2="885.0" stroke="#2e2e2e" stroke-width="3" />
<line x1="1480.5" y1="855.2" x2="1480.5" y2="870.5" stroke="#2e2e2e" stroke-width="2.8" />
<text x="955.5" y="906.0" font-size="28" fill="#2e2e2e" stroke="#2e2e2e" stroke-width="0.8"><tspan textLength="23.0" lengthAdjust="spacingAndGlyphs">10</tspan><tspan x="980.0" dy="-12.5" font-size="22" textLength="12.0" lengthAdjust="spacingAndGlyphs">2</tspan></text>
<text x="1109.5" y="906.0" font-size="28" fill="#2e2e2e" stroke="#2e2e2e" stroke-width="0.8"><tspan textLength="23.0" lengthAdjust="spacingAndGlyphs">10</tspan><tspan x="1134.0" dy="-12.5" font-size="22" textLength="12.0" lengthAdjust="spacingAndGlyphs">3</tspan></text>
<text x="1260.5" y="906.0" font-size="28" fill="#2e2e2e" stroke="#2e2e2e" stroke-width="0.8"><tspan textLength="23.0" lengthAdjust="spacingAndGlyphs">10</tspan><tspan x="1285.0" dy="-12.5" font-size="22" textLength="12.0" lengthAdjust="spacingAndGlyphs">4</tspan></text>
<text x="1415.8" y="906.0" font-size="28" fill="#2e2e2e" stroke="#2e2e2e" stroke-width="0.8"><tspan textLength="23.0" lengthAdjust="spacingAndGlyphs">10</tspan><tspan x="1440.3" dy="-12.5" font-size="22" textLength="12.0" lengthAdjust="spacingAndGlyphs">5</tspan></text>
<text x="1152.0" y="937.0" font-size="32" fill="#2e2e2e" textLength="77.5" lengthAdjust="spacingAndGlyphs" stroke="#2e2e2e" stroke-width="0.6">PE-A</text>
</g>
<g>
<polygon points="121.0,1316.0 121.0,1023.0 128.0,1023.0 128.0,1316.0" fill="#00FD62"/>
<polygon points="130.0,1316.2 130.0,1315.4 132.7,1315.4 132.7,1315.5 135.4,1315.5 135.4,1315.4 138.1,1315.4 138.1,1314.2 140.8,1314.2 140.8,1315.0 143.5,1315.0 143.5,1313.5 146.2,1313.5 146.2,1314.6 148.9,1314.6 148.9,1314.4 151.6,1314.4 151.6,1312.8 154.3,1312.8 154.3,1313.5 157.0,1313.5 157.0,1312.6 159.7,1312.6 159.7,1312.4 162.4,1312.4 162.4,1312.1 165.1,1312.1 165.1,1307.3 167.8,1307.3 167.8,1301.9 170.5,1301.9 170.5,1298.9 173.2,1298.9 173.2,1293.7 175.9,1293.7 175.9,1299.4 178.6,1299.4 178.6,1301.3 181.3,1301.3 181.3,1299.7 184.0,1299.7 184.0,1298.1 186.7,1298.1 186.7,1297.9 189.4,1297.9 189.4,1296.9 192.1,1296.9 192.1,1294.3 194.8,1294.3 194.8,1291.7 197.5,1291.7 197.5,1291.7 200.2,1291.7 200.2,1289.1 202.9,1289.1 202.9,1288.9 205.6,1288.9 205.6,1286.7 208.3,1286.7 208.3,1285.2 211.0,1285.2 211.0,1283.5 213.7,1283.5 213.7,1284.6 216.4,1284.6 216.4,1286.2 219.1,1286.2 219.1,1285.4 221.8,1285.4 221.8,1281.0 224.5,1281.0 224.5,1280.2 227.2,1280.2 227.2,1282.5 229.9,1282.5 229.9,1282.1 232.6,1282.1 232.6,1278.4 235.3,1278.4 235.3,1272.6 238.0,1272.6 238.0,1270.3 240.7,1270.3 240.7,1258.8 243.4,1258.8 243.4,1251.3 246.1,1251.3 246.1,1248.9 248.8,1248.9 248.8,1242.9 251.5,1242.9 251.5,1236.1 254.2,1236.1 254.2,1236.1 256.9,1236.1 256.9,1232.9 259.6,1232.9 259.6,1233.1 262.3,1233.1 262.3,1232.3 265.0,1232.3 265.0,1230.5 267.7,1230.5 267.7,1226.4 270.4,1226.4 270.4,1218.2 273.1,1218.2 273.1,1208.6 275.8,1208.6 275.8,1195.1 278.5,1195.1 278.5,1191.6 281.2,1191.6 281.2,1184.4 283.9,1184.4 283.9,1182.9 286.6,1182.9 286.6,1176.8 289.3,1176.8 289.3,1170.9 292.0,1170.9 292.0,1154.6 294.7,1154.6 294.7,1151.3 297.4,1151.3 297.4,1131.3 300.1,1131.3 300.1,1123.9 302.8,1123.9 302.8,1145.6 305.5,1145.6 305.5,1128.7 308.2,1128.7 308.2,1129.6 310.9,1129.6 310.9,1130.2 313.6,1130.2 313.6,1126.7 316.3,1126.7 316.3,1123.7 319.0,1123.7 319.0,1134.7 321.7,1134.7 321.7,1130.9 324.4,1130.9 324.4,1130.4 327.1,1130.4 327.1,1117.6 329.8,1117.6 329.8,1124.5 332.5,1124.5 332.5,1130.7 335.2,1130.7 335.2,1118.3 337.9,1118.3 337.9,1088.6 340.6,1088.6 340.6,1098.3 343.3,1098.3 343.3,1098.8 346.0,1098.8 346.0,1073.1 348.7,1073.1 348.7,1073.5 351.4,1073.5 351.4,1099.2 354.1,1099.2 354.1,1086.4 356.8,1086.4 356.8,1085.6 359.5,1085.6 359.5,1088.4 362.2,1088.4 362.2,1085.2 364.9,1085.2 364.9,1089.0 367.6,1089.0 367.6,1067.8 370.3,1067.8 370.3,1064.4 373.0,1064.4 373.0,1048.0 375.7,1048.0 375.7,1065.2 378.4,1065.2 378.4,1071.3 381.1,1071.3 381.1,1061.2 383.8,1061.2 383.8,1029.0 386.5,1029.0 386.5,1056.2 389.2,1056.2 389.2,1058.2 391.9,1058.2 391.9,1062.0 394.6,1062.0 394.6,1051.1 397.3,1051.1 397.3,1071.7 400.0,1071.7 400.0,1054.7 402.7,1054.7 402.7,1071.5 405.4,1071.5 405.4,1076.3 408.1,1076.3 408.1,1078.1 410.8,1078.1 410.8,1063.2 413.5,1063.2 413.5,1092.5 416.2,1092.5 416.2,1071.6 418.9,1071.6 418.9,1098.7 421.6,1098.7 421.6,1092.7 424.3,1092.7 424.3,1091.5 427.0,1091.5 427.0,1110.3 429.7,1110.3 429.7,1121.5 432.4,1121.5 432.4,1110.0 435.1,1110.0 435.1,1129.1 437.8,1129.1 437.8,1114.9 440.5,1114.9 440.5,1127.0 443.2,1127.0 443.2,1138.7 445.9,1138.7 445.9,1151.6 448.6,1151.6 448.6,1178.9 451.3,1178.9 451.3,1186.3 454.0,1186.3 454.0,1197.8 456.7,1197.8 456.7,1196.7 459.4,1196.7 459.4,1208.7 462.1,1208.7 462.1,1210.2 464.8,1210.2 464.8,1208.8 467.5,1208.8 467.5,1215.4 470.2,1215.4 470.2,1221.7 472.9,1221.7 472.9,1227.5 475.6,1227.5 475.6,1247.8 478.3,1247.8 478.3,1265.5 481.0,1265.5 481.0,1272.6 483.7,1272.6 483.7,1279.5 486.4,1279.5 486.4,1282.7 489.1,1282.7 489.1,1284.0 491.8,1284.0 491.8,1286.6 494.5,1286.6 494.5,1288.1 497.2,1288.1 497.2,1292.5 499.9,1292.5 499.9,1295.3 502.6,1295.3 502.6,1298.5 505.3,1298.5 505.3,1299.7 508.0,1299.7 508.0,1303.4 510.7,1303.4 510.7,1306.2 513.4,1306.2 513.4,1308.3 516.1,1308.3 516.1,1309.4 518.8,1309.4 518.8,1312.4 521.5,1312.4 521.5,1314.5 524.2,1314.5 524.2,1315.2 526.9,1315.2 526.9,1316.0 527.0,1316.0 527.0,1316.2" fill="#00FD62"/>
<line x1="174.5" y1="1295.7" x2="174.5" y2="1300.5" stroke="#00E214" stroke-width="1.6" stroke-opacity="0.8"/>
<line x1="179.9" y1="1303.3" x2="179.9" y2="1305.5" stroke="#00E214" stroke-width="1.6" stroke-opacity="0.8"/>
<line x1="193.4" y1="1296.3" x2="193.4" y2="1300.7" stroke="#00E214" stroke-width="1.6" stroke-opacity="0.8"/>
<line x1="198.8" y1="1293.7" x2="198.8" y2="1296.4" stroke="#00E214" stroke-width="1.6" stroke-opacity="0.8"/>
<line x1="201.5" y1="1291.1" x2="201.5" y2="1296.5" stroke="#00E214" stroke-width="1.6" stroke-opacity="0.8"/>
<line x1="223.1" y1="1283.0" x2="223.1" y2="1289.1" stroke="#00E214" stroke-width="1.6" stroke-opacity="0.8"/>
<line x1="225.8" y1="1282.2" x2="225.8" y2="1289.8" stroke="#00E214" stroke-width="1.6" stroke-opacity="0.8"/>
<line x1="228.5" y1="1284.5" x2="228.5" y2="1290.4" stroke="#00E214" stroke-width="1.6" stroke-opacity="0.8"/>
<line x1="233.9" y1="1280.4" x2="233.9" y2="1286.1" stroke="#00E214" stroke-width="1.6" stroke-opacity="0.8"/>
<line x1="242.0" y1="1260.8" x2="242.0" y2="1271.8" stroke="#00E214" stroke-width="1.6" stroke-opacity="0.8"/>
<line x1="252.8" y1="1238.1" x2="252.8" y2="1248.1" stroke="#00E214" stroke-width="1.6" stroke-opacity="0.8"/>
<line x1="258.2" y1="1234.9" x2="258.2" y2="1244.3" stroke="#00E214" stroke-width="1.6" stroke-opacity="0.8"/>
<line x1="271.7" y1="1220.2" x2="271.7" y2="1240.7" stroke="#00E214" stroke-width="1.6" stroke-opacity="0.8"/>
<line x1="274.4" y1="1210.6" x2="274.4" y2="1226.7" stroke="#00E214" stroke-width="1.6" stroke-opacity="0.8"/>
<line x1="306.8" y1="1130.7" x2="306.8" y2="1152.9" stroke="#00E214" stroke-width="1.6" stroke-opacity="0.8"/>
<line x1="314.9" y1="1128.7" x2="314.9" y2="1148.1" stroke="#00E214" stroke-width="1.6" stroke-opacity="0.8"/>
<line x1="317.6" y1="1125.7" x2="317.6" y2="1149.0" stroke="#00E214" stroke-width="1.6" stroke-opacity="0.8"/>
<line x1="323.0" y1="1132.9" x2="323.0" y2="1155.2" stroke="#00E214" stroke-width="1.6" stroke-opacity="0.8"/>
<line x1="325.7" y1="1132.4" x2="325.7" y2="1165.5" stroke="#00E214" stroke-width="1.6" stroke-opacity="0.8"/>
<line x1="366.2" y1="1091.0" x2="366.2" y2="1122.2" stroke="#00E214" stroke-width="1.6" stroke-opacity="0.8"/>
<line x1="374.3" y1="1050.0" x2="374.3" y2="1099.0" stroke="#00E214" stroke-width="1.6" stroke-opacity="0.8"/>
<line x1="377.0" y1="1067.2" x2="377.0" y2="1089.2" stroke="#00E214" stroke-width="1.6" stroke-opacity="0.8"/>
<line x1="409.4" y1="1080.1" x2="409.4" y2="1105.4" stroke="#00E214" stroke-width="1.6" stroke-opacity="0.8"/>
<line x1="414.8" y1="1094.5" x2="414.8" y2="1134.5" stroke="#00E214" stroke-width="1.6" stroke-opacity="0.8"/>
<line x1="428.3" y1="1112.3" x2="428.3" y2="1147.1" stroke="#00E214" stroke-width="1.6" stroke-opacity="0.8"/>
<line x1="433.7" y1="1112.0" x2="433.7" y2="1142.9" stroke="#00E214" stroke-width="1.6" stroke-opacity="0.8"/>
<line x1="436.4" y1="1131.1" x2="436.4" y2="1151.7" stroke="#00E214" stroke-width="1.6" stroke-opacity="0.8"/>
<line x1="449.9" y1="1180.9" x2="449.9" y2="1198.7" stroke="#00E214" stroke-width="1.6" stroke-opacity="0.8"/>
<line x1="455.3" y1="1199.8" x2="455.3" y2="1220.2" stroke="#00E214" stroke-width="1.6" stroke-opacity="0.8"/>
<line x1="463.4" y1="1212.2" x2="463.4" y2="1230.6" stroke="#00E214" stroke-width="1.6" stroke-opacity="0.8"/>
<line x1="466.1" y1="1210.8" x2="466.1" y2="1222.9" stroke="#00E214" stroke-width="1.6" stroke-opacity="0.8"/>
<line x1="479.6" y1="1267.5" x2="479.6" y2="1276.6" stroke="#00E214" stroke-width="1.6" stroke-opacity="0.8"/>
<line x1="485.0" y1="1281.5" x2="485.0" y2="1289.7" stroke="#00E214" stroke-width="1.6" stroke-opacity="0.8"/>
<line x1="487.7" y1="1284.7" x2="487.7" y2="1290.7" stroke="#00E214" stroke-width="1.6" stroke-opacity="0.8"/>
<line x1="503.9" y1="1300.5" x2="503.9" y2="1302.7" stroke="#00E214" stroke-width="1.6" stroke-opacity="0.8"/>
<line x1="509.3" y1="1305.4" x2="509.3" y2="1308.0" stroke="#00E214" stroke-width="1.6" stroke-opacity="0.8"/>
<line x1="120.6" y1="1022.7" x2="730.0" y2="1022.7" stroke="#2a2a2a" stroke-width="4" />
<line x1="120.6" y1="1022.7" x2="120.6" y2="1316.2" stroke="#0a5a20" stroke-width="2.5" />
<line x1="730.0" y1="1020.7" x2="730.0" y2="1317.9" stroke="#1c1c1c" stroke-width="5.4" />
<line x1="96.6" y1="1316.2" x2="730.0" y2="1316.2" stroke="#222" stroke-width="3.4" />
<line x1="283.8" y1="1316.2" x2="730.0" y2="1316.2" stroke="#151515" stroke-width="5.4" />
<line x1="283.8" y1="1022.7" x2="283.8" y2="1316.2" stroke="#111" stroke-width="3" />
<rect x="225.7" y="1018.5" width="9.8" height="2.6" fill="#333" />
<rect x="612.0" y="1018.5" width="19.0" height="2.6" fill="#333" />
<line x1="96.6" y1="1316.5" x2="120.6" y2="1316.5" stroke="#2e2e2e" stroke-width="3" />
<line x1="106.6" y1="1297.3" x2="120.6" y2="1297.3" stroke="#2e2e2e" stroke-width="3" />
<line x1="106.6" y1="1278.0" x2="120.6" y2="1278.0" stroke="#2e2e2e" stroke-width="3" />
<line x1="106.6" y1="1258.8" x2="120.6" y2="1258.8" stroke="#2e2e2e" stroke-width="3" />
<line x1="106.6" y1="1239.5" x2="120.6" y2="1239.5" stroke="#2e2e2e" stroke-width="3" />
<line x1="96.6" y1="1220.3" x2="120.6" y2="1220.3" stroke="#2e2e2e" stroke-width="3" />
<line x1="106.6" y1="1201.1" x2="120.6" y2="1201.1" stroke="#2e2e2e" stroke-width="3" />
<line x1="106.6" y1="1181.8" x2="120.6" y2="1181.8" stroke="#2e2e2e" stroke-width="3" />
<line x1="106.6" y1="1162.6" x2="120.6" y2="1162.6" stroke="#2e2e2e" stroke-width="3" />
<line x1="106.6" y1="1143.3" x2="120.6" y2="1143.3" stroke="#2e2e2e" stroke-width="3" />
<line x1="96.6" y1="1124.1" x2="120.6" y2="1124.1" stroke="#2e2e2e" stroke-width="3" />
<line x1="106.6" y1="1104.9" x2="120.6" y2="1104.9" stroke="#2e2e2e" stroke-width="3" />
<line x1="106.6" y1="1085.6" x2="120.6" y2="1085.6" stroke="#2e2e2e" stroke-width="3" />
<line x1="106.6" y1="1066.4" x2="120.6" y2="1066.4" stroke="#2e2e2e" stroke-width="3" />
<line x1="106.6" y1="1047.1" x2="120.6" y2="1047.1" stroke="#2e2e2e" stroke-width="3" />
<line x1="96.6" y1="1027.9" x2="120.6" y2="1027.9" stroke="#2e2e2e" stroke-width="3" />
<text x="94.0" y="1316.5" font-size="28" fill="#2e2e2e" stroke="#2e2e2e" stroke-width="0.8" text-anchor="middle" textLength="12.9" lengthAdjust="spacingAndGlyphs" transform="rotate(-90 94.0 1316.5)">0</text>
<text x="94.0" y="1220.3" font-size="28" fill="#2e2e2e" stroke="#2e2e2e" stroke-width="0.8" text-anchor="middle" textLength="25.8" lengthAdjust="spacingAndGlyphs" transform="rotate(-90 94.0 1220.3)">50</text>
<text x="94.0" y="1124.1" font-size="28" fill="#2e2e2e" stroke="#2e2e2e" stroke-width="0.8" text-anchor="middle" textLength="38.7" lengthAdjust="spacingAndGlyphs" transform="rotate(-90 94.0 1124.1)">100</text>
<g clip-path="url(#clipC1)"><text x="94.0" y="1027.9" font-size="28" fill="#2e2e2e" stroke="#2e2e2e" stroke-width="0.8" text-anchor="middle" textLength="38.7" lengthAdjust="spacingAndGlyphs" transform="rotate(-90 94.0 1027.9)">150</text></g>
<text x="67.3" y="1207.0" font-size="34" fill="#2e2e2e" stroke="#2e2e2e" stroke-width="0.6" textLength="98.0" lengthAdjust="spacingAndGlyphs" transform="rotate(-90 67.3 1207.0)">Count</text>
<line x1="126.9" y1="1316.2" x2="126.9" y2="1334.0" stroke="#2e2e2e" stroke-width="2.8" />
<line x1="146.1" y1="1316.2" x2="146.1" y2="1334.0" stroke="#2e2e2e" stroke-width="2.8" />
<line x1="161.0" y1="1316.2" x2="161.0" y2="1334.0" stroke="#2e2e2e" stroke-width="2.8" />
<line x1="173.1" y1="1316.2" x2="173.1" y2="1334.0" stroke="#2e2e2e" stroke-width="2.8" />
<line x1="183.4" y1="1316.2" x2="183.4" y2="1334.0" stroke="#2e2e2e" stroke-width="2.8" />
<line x1="192.3" y1="1316.2" x2="192.3" y2="1334.0" stroke="#2e2e2e" stroke-width="2.8" />
<line x1="200.2" y1="1316.2" x2="200.2" y2="1334.0" stroke="#2e2e2e" stroke-width="2.8" />
<line x1="207.2" y1="1316.2" x2="207.2" y2="1347.0" stroke="#2e2e2e" stroke-width="3" />
<line x1="253.4" y1="1316.2" x2="253.4" y2="1334.0" stroke="#2e2e2e" stroke-width="2.8" />
<line x1="280.5" y1="1316.2" x2="280.5" y2="1334.0" stroke="#2e2e2e" stroke-width="2.8" />
<line x1="299.7" y1="1316.2" x2="299.7" y2="1334.0" stroke="#2e2e2e" stroke-width="2.8" />
<line x1="314.6" y1="1316.2" x2="314.6" y2="1334.0" stroke="#2e2e2e" stroke-width="2.8" />
<line x1="326.7" y1="1316.2" x2="326.7" y2="1334.0" stroke="#2e2e2e" stroke-width="2.8" />
<line x1="337.0" y1="1316.2" x2="337.0" y2="1334.0" stroke="#2e2e2e" stroke-width="2.8" />
<line x1="345.9" y1="1316.2" x2="345.9" y2="1334.0" stroke="#2e2e2e" stroke-width="2.8" />
<line x1="353.8" y1="1316.2" x2="353.8" y2="1334.0" stroke="#2e2e2e" stroke-width="2.8" />
<line x1="360.8" y1="1316.2" x2="360.8" y2="1347.0" stroke="#2e2e2e" stroke-width="3" />
<line x1="406.2" y1="1316.2" x2="406.2" y2="1334.0" stroke="#2e2e2e" stroke-width="2.8" />
<line x1="432.7" y1="1316.2" x2="432.7" y2="1334.0" stroke="#2e2e2e" stroke-width="2.8" />
<line x1="451.5" y1="1316.2" x2="451.5" y2="1334.0" stroke="#2e2e2e" stroke-width="2.8" />
<line x1="466.1" y1="1316.2" x2="466.1" y2="1334.0" stroke="#2e2e2e" stroke-width="2.8" />
<line x1="478.1" y1="1316.2" x2="478.1" y2="1334.0" stroke="#2e2e2e" stroke-width="2.8" />
<line x1="488.2" y1="1316.2" x2="488.2" y2="1334.0" stroke="#2e2e2e" stroke-width="2.8" />
<line x1="496.9" y1="1316.2" x2="496.9" y2="1334.0" stroke="#2e2e2e" stroke-width="2.8" />
<line x1="504.6" y1="1316.2" x2="504.6" y2="1334.0" stroke="#2e2e2e" stroke-width="2.8" />
<line x1="511.5" y1="1316.2" x2="511.5" y2="1347.0" stroke="#2e2e2e" stroke-width="3" />
<line x1="558.2" y1="1316.2" x2="558.2" y2="1334.0" stroke="#2e2e2e" stroke-width="2.8" />
<line x1="585.6" y1="1316.2" x2="585.6" y2="1334.0" stroke="#2e2e2e" stroke-width="2.8" />
<line x1="605.0" y1="1316.2" x2="605.0" y2="1334.0" stroke="#2e2e2e" stroke-width="2.8" />
<line x1="620.1" y1="1316.2" x2="620.1" y2="1334.0" stroke="#2e2e2e" stroke-width="2.8" />
<line x1="632.3" y1="1316.2" x2="632.3" y2="1334.0" stroke="#2e2e2e" stroke-width="2.8" />
<line x1="642.7" y1="1316.2" x2="642.7" y2="1334.0" stroke="#2e2e2e" stroke-width="2.8" />
<line x1="651.7" y1="1316.2" x2="651.7" y2="1334.0" stroke="#2e2e2e" stroke-width="2.8" />
<line x1="659.7" y1="1316.2" x2="659.7" y2="1334.0" stroke="#2e2e2e" stroke-width="2.8" />
<line x1="666.8" y1="1316.2" x2="666.8" y2="1347.0" stroke="#2e2e2e" stroke-width="3" />
<line x1="713.5" y1="1316.2" x2="713.5" y2="1334.0" stroke="#2e2e2e" stroke-width="2.8" />
<text x="189.2" y="1368.0" font-size="28" fill="#2e2e2e" stroke="#2e2e2e" stroke-width="0.8"><tspan textLength="23.0" lengthAdjust="spacingAndGlyphs">10</tspan><tspan x="213.7" dy="-12.5" font-size="22" textLength="12.0" lengthAdjust="spacingAndGlyphs">2</tspan></text>
<text x="342.8" y="1368.0" font-size="28" fill="#2e2e2e" stroke="#2e2e2e" stroke-width="0.8"><tspan textLength="23.0" lengthAdjust="spacingAndGlyphs">10</tspan><tspan x="367.3" dy="-12.5" font-size="22" textLength="12.0" lengthAdjust="spacingAndGlyphs">3</tspan></text>
<text x="493.5" y="1368.0" font-size="28" fill="#2e2e2e" stroke="#2e2e2e" stroke-width="0.8"><tspan textLength="23.0" lengthAdjust="spacingAndGlyphs">10</tspan><tspan x="518.0" dy="-12.5" font-size="22" textLength="12.0" lengthAdjust="spacingAndGlyphs">4</tspan></text>
<text x="648.8" y="1368.0" font-size="28" fill="#2e2e2e" stroke="#2e2e2e" stroke-width="0.8"><tspan textLength="23.0" lengthAdjust="spacingAndGlyphs">10</tspan><tspan x="673.3" dy="-12.5" font-size="22" textLength="12.0" lengthAdjust="spacingAndGlyphs">5</tspan></text>
<text x="315.7" y="1406.5" font-size="33" fill="#2e2e2e" textLength="221.3" lengthAdjust="spacingAndGlyphs" stroke="#2e2e2e" stroke-width="0.6">PerCP-Cy5-5-A</text>
</g>
<g>
<polygon points="882.0,1310.0 882.0,1016.0 891.0,1016.0 891.0,1310.0" fill="#00FD62"/>
<polygon points="897.8,1310.0 897.8,1306.3 901.0,1306.3 901.0,1299.8 904.2,1299.8 904.2,1295.1 907.4,1295.1 907.4,1296.0 910.6,1296.0 910.6,1294.5 913.8,1294.5 913.8,1293.9 917.0,1293.9 917.0,1292.4 920.2,1292.4 920.2,1290.6 923.4,1290.6 923.4,1289.7 926.6,1289.7 926.6,1287.6 929.8,1287.6 929.8,1284.7 933.0,1284.7 933.0,1276.9 936.2,1276.9 936.2,1274.0 939.4,1274.0 939.4,1284.0 942.6,1284.0 942.6,1288.7 945.8,1288.7 945.8,1287.7 949.0,1287.7 949.0,1283.1 952.2,1283.1 952.2,1280.3 955.4,1280.3 955.4,1278.3 958.6,1278.3 958.6,1279.1 961.8,1279.1 961.8,1272.3 965.0,1272.3 965.0,1273.6 968.2,1273.6 968.2,1268.3 971.4,1268.3 971.4,1270.4 974.6,1270.4 974.6,1272.5 977.8,1272.5 977.8,1275.4 981.0,1275.4 981.0,1274.0 984.2,1274.0 984.2,1274.1 987.4,1274.1 987.4,1263.9 990.6,1263.9 990.6,1264.2 993.8,1264.2 993.8,1254.0 997.0,1254.0 997.0,1255.8 1000.2,1255.8 1000.2,1257.0 1003.4,1257.0 1003.4,1254.9 1006.6,1254.9 1006.6,1238.8 1009.8,1238.8 1009.8,1243.3 1013.0,1243.3 1013.0,1239.3 1016.2,1239.3 1016.2,1229.2 1019.4,1229.2 1019.4,1219.7 1022.6,1219.7 1022.6,1189.0 1025.8,1189.0 1025.8,1195.6 1029.0,1195.6 1029.0,1209.4 1032.2,1209.4 1032.2,1221.7 1035.4,1221.7 1035.4,1221.4 1038.6,1221.4 1038.6,1217.2 1041.8,1217.2 1041.8,1192.9 1045.0,1192.9 1045.0,1195.9 1048.2,1195.9 1048.2,1185.7 1051.4,1185.7 1051.4,1186.7 1054.6,1186.7 1054.6,1110.8 1057.8,1110.8 1057.8,1127.6 1061.0,1127.6 1061.0,1146.5 1064.2,1146.5 1064.2,1147.2 1067.4,1147.2 1067.4,1151.8 1070.6,1151.8 1070.6,1146.7 1073.8,1146.7 1073.8,1137.1 1077.0,1137.1 1077.0,1148.0 1080.2,1148.0 1080.2,1144.5 1083.4,1144.5 1083.4,1105.0 1086.6,1105.0 1086.6,1117.1 1089.8,1117.1 1089.8,1067.9 1093.0,1067.9 1093.0,1099.5 1096.2,1099.5 1096.2,1049.0 1099.4,1049.0 1099.4,1058.2 1102.6,1058.2 1102.6,1027.6 1105.8,1027.6 1105.8,1062.1 1109.0,1062.1 1109.0,1076.1 1112.2,1076.1 1112.2,1083.5 1115.4,1083.5 1115.4,1092.5 1118.6,1092.5 1118.6,1064.5 1121.8,1064.5 1121.8,1019.4 1125.0,1019.4 1125.0,1090.2 1128.2,1090.2 1128.2,1129.4 1131.4,1129.4 1131.4,1126.8 1134.6,1126.8 1134.6,1116.8 1137.8,1116.8 1137.8,1106.5 1141.0,1106.5 1141.0,1086.3 1144.2,1086.3 1144.2,1085.9 1147.4,1085.9 1147.4,1065.9 1150.6,1065.9 1150.6,1047.0 1153.8,1047.0 1153.8,1116.6 1157.0,1116.6 1157.0,1129.9 1160.2,1129.9 1160.2,1111.3 1163.4,1111.3 1163.4,1097.6 1166.6,1097.6 1166.6,1096.3 1169.8,1096.3 1169.8,1042.0 1173.0,1042.0 1173.0,1112.1 1176.2,1112.1 1176.2,1117.2 1179.4,1117.2 1179.4,1148.4 1182.6,1148.4 1182.6,1132.9 1185.8,1132.9 1185.8,1160.3 1189.0,1160.3 1189.0,1174.0 1192.2,1174.0 1192.2,1191.6 1195.4,1191.6 1195.4,1181.2 1198.6,1181.2 1198.6,1191.6 1201.8,1191.6 1201.8,1186.4 1205.0,1186.4 1205.0,1199.0 1208.2,1199.0 1208.2,1201.7 1211.4,1201.7 1211.4,1182.7 1214.6,1182.7 1214.6,1204.1 1217.8,1204.1 1217.8,1203.2 1221.0,1203.2 1221.0,1176.0 1224.2,1176.0 1224.2,1207.9 1227.4,1207.9 1227.4,1218.4 1230.6,1218.4 1230.6,1227.2 1233.8,1227.2 1233.8,1212.4 1237.0,1212.4 1237.0,1227.1 1240.2,1227.1 1240.2,1215.1 1243.4,1215.1 1243.4,1205.8 1246.6,1205.8 1246.6,1202.0 1249.8,1202.0 1249.8,1228.5 1253.0,1228.5 1253.0,1240.1 1256.2,1240.1 1256.2,1247.6 1259.4,1247.6 1259.4,1246.0 1262.6,1246.0 1262.6,1228.7 1265.8,1228.7 1265.8,1227.8 1269.0,1227.8 1269.0,1225.0 1272.2,1225.0 1272.2,1250.4 1275.4,1250.4 1275.4,1252.9 1278.6,1252.9 1278.6,1244.7 1281.8,1244.7 1281.8,1263.9 1285.0,1263.9 1285.0,1268.1 1288.2,1268.1 1288.2,1280.4 1291.4,1280.4 1291.4,1289.6 1294.6,1289.6 1294.6,1288.7 1297.8,1288.7 1297.8,1293.3 1301.0,1293.3 1301.0,1296.9 1304.2,1296.9 1304.2,1301.5 1307.4,1301.5 1307.4,1301.7 1310.6,1301.7 1310.6,1304.8 1313.8,1304.8 1313.8,1304.7 1317.0,1304.7 1317.0,1307.7 1320.2,1307.7 1320.2,1307.7 1323.4,1307.7 1323.4,1309.2 1326.6,1309.2 1326.6,1309.4 1329.8,1309.4 1329.8,1309.7 1333.0,1309.7 1333.0,1310.0 1335.0,1310.0 1335.0,1310.0" fill="#00FD62"/>
<line x1="925.0" y1="1291.7" x2="925.0" y2="1298.7" stroke="#00E214" stroke-width="2.0" stroke-opacity="0.8"/>
<line x1="928.2" y1="1289.6" x2="928.2" y2="1294.1" stroke="#00E214" stroke-width="2.0" stroke-opacity="0.8"/>
<line x1="944.2" y1="1290.7" x2="944.2" y2="1295.9" stroke="#00E214" stroke-width="2.0" stroke-opacity="0.8"/>
<line x1="957.0" y1="1280.3" x2="957.0" y2="1285.8" stroke="#00E214" stroke-width="2.0" stroke-opacity="0.8"/>
<line x1="960.2" y1="1281.1" x2="960.2" y2="1291.1" stroke="#00E214" stroke-width="2.0" stroke-opacity="0.8"/>
<line x1="976.2" y1="1274.5" x2="976.2" y2="1287.5" stroke="#00E214" stroke-width="2.0" stroke-opacity="0.8"/>
<line x1="995.4" y1="1256.0" x2="995.4" y2="1268.6" stroke="#00E214" stroke-width="2.0" stroke-opacity="0.8"/>
<line x1="1005.0" y1="1256.9" x2="1005.0" y2="1270.4" stroke="#00E214" stroke-width="2.0" stroke-opacity="0.8"/>
<line x1="1024.2" y1="1191.0" x2="1024.2" y2="1212.8" stroke="#00E214" stroke-width="2.0" stroke-opacity="0.8"/>
<line x1="1033.8" y1="1223.7" x2="1033.8" y2="1238.2" stroke="#00E214" stroke-width="2.0" stroke-opacity="0.8"/>
<line x1="1049.8" y1="1187.7" x2="1049.8" y2="1203.4" stroke="#00E214" stroke-width="2.0" stroke-opacity="0.8"/>
<line x1="1056.2" y1="1112.8" x2="1056.2" y2="1159.4" stroke="#00E214" stroke-width="2.0" stroke-opacity="0.8"/>
<line x1="1065.8" y1="1149.2" x2="1065.8" y2="1204.7" stroke="#00E214" stroke-width="2.0" stroke-opacity="0.8"/>
<line x1="1078.6" y1="1150.0" x2="1078.6" y2="1197.5" stroke="#00E214" stroke-width="2.0" stroke-opacity="0.8"/>
<line x1="1085.0" y1="1107.0" x2="1085.0" y2="1160.4" stroke="#00E214" stroke-width="2.0" stroke-opacity="0.8"/>
<line x1="1088.2" y1="1119.1" x2="1088.2" y2="1148.7" stroke="#00E214" stroke-width="2.0" stroke-opacity="0.8"/>
<line x1="1104.2" y1="1029.6" x2="1104.2" y2="1083.9" stroke="#00E214" stroke-width="2.0" stroke-opacity="0.8"/>
<line x1="1107.4" y1="1064.1" x2="1107.4" y2="1102.9" stroke="#00E214" stroke-width="2.0" stroke-opacity="0.8"/>
<line x1="1117.0" y1="1094.5" x2="1117.0" y2="1135.4" stroke="#00E214" stroke-width="2.0" stroke-opacity="0.8"/>
<line x1="1145.8" y1="1087.9" x2="1145.8" y2="1127.4" stroke="#00E214" stroke-width="2.0" stroke-opacity="0.8"/>
<line x1="1171.4" y1="1044.0" x2="1171.4" y2="1112.4" stroke="#00E214" stroke-width="2.0" stroke-opacity="0.8"/>
<line x1="1174.6" y1="1114.1" x2="1174.6" y2="1164.3" stroke="#00E214" stroke-width="2.0" stroke-opacity="0.8"/>
<line x1="1187.4" y1="1162.3" x2="1187.4" y2="1207.8" stroke="#00E214" stroke-width="2.0" stroke-opacity="0.8"/>
<line x1="1193.8" y1="1193.6" x2="1193.8" y2="1210.1" stroke="#00E214" stroke-width="2.0" stroke-opacity="0.8"/>
<line x1="1197.0" y1="1183.2" x2="1197.0" y2="1216.8" stroke="#00E214" stroke-width="2.0" stroke-opacity="0.8"/>
<line x1="1200.2" y1="1193.6" x2="1200.2" y2="1208.9" stroke="#00E214" stroke-width="2.0" stroke-opacity="0.8"/>
<line x1="1209.8" y1="1203.7" x2="1209.8" y2="1219.5" stroke="#00E214" stroke-width="2.0" stroke-opacity="0.8"/>
<line x1="1219.4" y1="1205.2" x2="1219.4" y2="1233.5" stroke="#00E214" stroke-width="2.0" stroke-opacity="0.8"/>
<line x1="1229.0" y1="1220.4" x2="1229.0" y2="1252.1" stroke="#00E214" stroke-width="2.0" stroke-opacity="0.8"/>
<line x1="1238.6" y1="1229.1" x2="1238.6" y2="1245.1" stroke="#00E214" stroke-width="2.0" stroke-opacity="0.8"/>
<line x1="1264.2" y1="1230.7" x2="1264.2" y2="1248.8" stroke="#00E214" stroke-width="2.0" stroke-opacity="0.8"/>
<line x1="1277.0" y1="1254.9" x2="1277.0" y2="1270.2" stroke="#00E214" stroke-width="2.0" stroke-opacity="0.8"/>
<line x1="1280.2" y1="1246.7" x2="1280.2" y2="1261.4" stroke="#00E214" stroke-width="2.0" stroke-opacity="0.8"/>
<line x1="880.4" y1="1015.8" x2="1527.8" y2="1015.8" stroke="#2a2a2a" stroke-width="4" />
<line x1="880.4" y1="1015.8" x2="880.4" y2="1310.0" stroke="#0a5a20" stroke-width="2.5" />
<line x1="1527.8" y1="1013.8" x2="1527.8" y2="1312.0" stroke="#1c1c1c" stroke-width="5.2" />
<line x1="853.9" y1="1310.0" x2="1527.8" y2="1310.0" stroke="#222" stroke-width="4" />
<line x1="1054.5" y1="1015.8" x2="1054.5" y2="1310.0" stroke="#111" stroke-width="2.8" />
<rect x="990.8" y="1011.6" width="13.1" height="2.6" fill="#333" />
<rect x="1403.7" y="1011.6" width="19.6" height="2.6" fill="#333" />
<line x1="853.9" y1="1310.0" x2="880.4" y2="1310.0" stroke="#2e2e2e" stroke-width="3" />
<line x1="853.9" y1="1271.9" x2="880.4" y2="1271.9" stroke="#2e2e2e" stroke-width="3" />
<line x1="853.9" y1="1233.8" x2="880.4" y2="1233.8" stroke="#2e2e2e" stroke-width="3" />
<line x1="853.9" y1="1195.7" x2="880.4" y2="1195.7" stroke="#2e2e2e" stroke-width="3" />
<line x1="853.9" y1="1157.6" x2="880.4" y2="1157.6" stroke="#2e2e2e" stroke-width="3" />
<line x1="853.9" y1="1119.5" x2="880.4" y2="1119.5" stroke="#2e2e2e" stroke-width="3" />
<line x1="853.9" y1="1081.4" x2="880.4" y2="1081.4" stroke="#2e2e2e" stroke-width="3" />
<line x1="853.9" y1="1043.3" x2="880.4" y2="1043.3" stroke="#2e2e2e" stroke-width="3" />
<text x="853.0" y="1310.0" font-size="28" fill="#2e2e2e" stroke="#2e2e2e" stroke-width="0.8" text-anchor="middle" textLength="14.2" lengthAdjust="spacingAndGlyphs" transform="rotate(-90 853.0 1310.0)">0</text>
<text x="853.0" y="1271.9" font-size="28" fill="#2e2e2e" stroke="#2e2e2e" stroke-width="0.8" text-anchor="middle" textLength="28.4" lengthAdjust="spacingAndGlyphs" transform="rotate(-90 853.0 1271.9)">10</text>
<text x="853.0" y="1233.8" font-size="28" fill="#2e2e2e" stroke="#2e2e2e" stroke-width="0.8" text-anchor="middle" textLength="28.4" lengthAdjust="spacingAndGlyphs" transform="rotate(-90 853.0 1233.8)">20</text>
<text x="853.0" y="1195.7" font-size="28" fill="#2e2e2e" stroke="#2e2e2e" stroke-width="0.8" text-anchor="middle" textLength="28.4" lengthAdjust="spacingAndGlyphs" transform="rotate(-90 853.0 1195.7)">30</text>
<text x="853.0" y="1157.6" font-size="28" fill="#2e2e2e" stroke="#2e2e2e" stroke-width="0.8" text-anchor="middle" textLength="28.4" lengthAdjust="spacingAndGlyphs" transform="rotate(-90 853.0 1157.6)">40</text>
<text x="853.0" y="1119.5" font-size="28" fill="#2e2e2e" stroke="#2e2e2e" stroke-width="0.8" text-anchor="middle" textLength="28.4" lengthAdjust="spacingAndGlyphs" transform="rotate(-90 853.0 1119.5)">50</text>
<text x="853.0" y="1081.4" font-size="28" fill="#2e2e2e" stroke="#2e2e2e" stroke-width="0.8" text-anchor="middle" textLength="28.4" lengthAdjust="spacingAndGlyphs" transform="rotate(-90 853.0 1081.4)">60</text>
<text x="853.0" y="1043.3" font-size="28" fill="#2e2e2e" stroke="#2e2e2e" stroke-width="0.8" text-anchor="middle" textLength="28.4" lengthAdjust="spacingAndGlyphs" transform="rotate(-90 853.0 1043.3)">70</text>
<text x="820.5" y="1202.2" font-size="34" fill="#2e2e2e" stroke="#2e2e2e" stroke-width="0.6" textLength="99.5" lengthAdjust="spacingAndGlyphs" transform="rotate(-90 820.5 1202.2)">Count</text>
<line x1="888.2" y1="1310.0" x2="888.2" y2="1326.5" stroke="#2e2e2e" stroke-width="2.8" />
<line x1="908.5" y1="1310.0" x2="908.5" y2="1326.5" stroke="#2e2e2e" stroke-width="2.8" />
<line x1="924.3" y1="1310.0" x2="924.3" y2="1326.5" stroke="#2e2e2e" stroke-width="2.8" />
<line x1="937.1" y1="1310.0" x2="937.1" y2="1326.5" stroke="#2e2e2e" stroke-width="2.8" />
<line x1="948.0" y1="1310.0" x2="948.0" y2="1326.5" stroke="#2e2e2e" stroke-width="2.8" />
<line x1="957.4" y1="1310.0" x2="957.4" y2="1326.5" stroke="#2e2e2e" stroke-width="2.8" />
<line x1="965.8" y1="1310.0" x2="965.8" y2="1326.5" stroke="#2e2e2e" stroke-width="2.8" />
<line x1="973.2" y1="1310.0" x2="973.2" y2="1338.9" stroke="#2e2e2e" stroke-width="3" />
<line x1="1022.1" y1="1310.0" x2="1022.1" y2="1326.5" stroke="#2e2e2e" stroke-width="2.8" />
<line x1="1050.8" y1="1310.0" x2="1050.8" y2="1326.5" stroke="#2e2e2e" stroke-width="2.8" />
<line x1="1071.1" y1="1310.0" x2="1071.1" y2="1326.5" stroke="#2e2e2e" stroke-width="2.8" />
<line x1="1086.9" y1="1310.0" x2="1086.9" y2="1326.5" stroke="#2e2e2e" stroke-width="2.8" />
<line x1="1099.7" y1="1310.0" x2="1099.7" y2="1326.5" stroke="#2e2e2e" stroke-width="2.8" />
<line x1="1110.6" y1="1310.0" x2="1110.6" y2="1326.5" stroke="#2e2e2e" stroke-width="2.8" />
<line x1="1120.0" y1="1310.0" x2="1120.0" y2="1326.5" stroke="#2e2e2e" stroke-width="2.8" />
<line x1="1128.4" y1="1310.0" x2="1128.4" y2="1326.5" stroke="#2e2e2e" stroke-width="2.8" />
<line x1="1135.8" y1="1310.0" x2="1135.8" y2="1338.9" stroke="#2e2e2e" stroke-width="3" />
<line x1="1184.5" y1="1310.0" x2="1184.5" y2="1326.5" stroke="#2e2e2e" stroke-width="2.8" />
<line x1="1213.0" y1="1310.0" x2="1213.0" y2="1326.5" stroke="#2e2e2e" stroke-width="2.8" />
<line x1="1233.2" y1="1310.0" x2="1233.2" y2="1326.5" stroke="#2e2e2e" stroke-width="2.8" />
<line x1="1248.8" y1="1310.0" x2="1248.8" y2="1326.5" stroke="#2e2e2e" stroke-width="2.8" />
<line x1="1261.6" y1="1310.0" x2="1261.6" y2="1326.5" stroke="#2e2e2e" stroke-width="2.8" />
<line x1="1272.5" y1="1310.0" x2="1272.5" y2="1326.5" stroke="#2e2e2e" stroke-width="2.8" />
<line x1="1281.8" y1="1310.0" x2="1281.8" y2="1326.5" stroke="#2e2e2e" stroke-width="2.8" />
<line x1="1290.1" y1="1310.0" x2="1290.1" y2="1326.5" stroke="#2e2e2e" stroke-width="2.8" />
<line x1="1297.5" y1="1310.0" x2="1297.5" y2="1338.9" stroke="#2e2e2e" stroke-width="3" />
<line x1="1346.3" y1="1310.0" x2="1346.3" y2="1326.5" stroke="#2e2e2e" stroke-width="2.8" />
<line x1="1374.8" y1="1310.0" x2="1374.8" y2="1326.5" stroke="#2e2e2e" stroke-width="2.8" />
<line x1="1395.1" y1="1310.0" x2="1395.1" y2="1326.5" stroke="#2e2e2e" stroke-width="2.8" />
<line x1="1410.8" y1="1310.0" x2="1410.8" y2="1326.5" stroke="#2e2e2e" stroke-width="2.8" />
<line x1="1423.6" y1="1310.0" x2="1423.6" y2="1326.5" stroke="#2e2e2e" stroke-width="2.8" />
<line x1="1434.5" y1="1310.0" x2="1434.5" y2="1326.5" stroke="#2e2e2e" stroke-width="2.8" />
<line x1="1443.9" y1="1310.0" x2="1443.9" y2="1326.5" stroke="#2e2e2e" stroke-width="2.8" />
<line x1="1452.2" y1="1310.0" x2="1452.2" y2="1326.5" stroke="#2e2e2e" stroke-width="2.8" />
<line x1="1459.6" y1="1310.0" x2="1459.6" y2="1338.9" stroke="#2e2e2e" stroke-width="3" />
<line x1="1508.4" y1="1310.0" x2="1508.4" y2="1326.5" stroke="#2e2e2e" stroke-width="2.8" />
<text x="955.2" y="1362.0" font-size="28" fill="#2e2e2e" stroke="#2e2e2e" stroke-width="0.8"><tspan textLength="23.0" lengthAdjust="spacingAndGlyphs">10</tspan><tspan x="979.7" dy="-12.5" font-size="22" textLength="12.0" lengthAdjust="spacingAndGlyphs">2</tspan></text>
<text x="1117.8" y="1362.0" font-size="28" fill="#2e2e2e" stroke="#2e2e2e" stroke-width="0.8"><tspan textLength="23.0" lengthAdjust="spacingAndGlyphs">10</tspan><tspan x="1142.3" dy="-12.5" font-size="22" textLength="12.0" lengthAdjust="spacingAndGlyphs">3</tspan></text>
<text x="1279.5" y="1362.0" font-size="28" fill="#2e2e2e" stroke="#2e2e2e" stroke-width="0.8"><tspan textLength="23.0" lengthAdjust="spacingAndGlyphs">10</tspan><tspan x="1304.0" dy="-12.5" font-size="22" textLength="12.0" lengthAdjust="spacingAndGlyphs">4</tspan></text>
<text x="1441.6" y="1362.0" font-size="28" fill="#2e2e2e" stroke="#2e2e2e" stroke-width="0.8"><tspan textLength="23.0" lengthAdjust="spacingAndGlyphs">10</tspan><tspan x="1466.1" dy="-12.5" font-size="22" textLength="12.0" lengthAdjust="spacingAndGlyphs">5</tspan></text>
<text x="1086.4" y="1399.0" font-size="33" fill="#2e2e2e" textLength="236.0" lengthAdjust="spacingAndGlyphs" stroke="#2e2e2e" stroke-width="0.6">PerCP-Cy5-5-A</text>
</g>
<g>
<polygon points="133.0,1736.0 133.0,1692.7 139.0,1692.7 142.0,1715.0 145.0,1736.0" fill="#00FD62"/>
<polygon points="200.0,1736.0 200.0,1735.0 202.6,1735.0 202.6,1735.0 205.2,1735.0 205.2,1735.1 207.8,1735.1 207.8,1735.0 210.4,1735.0 210.4,1735.0 213.0,1735.0 213.0,1735.0 215.6,1735.0 215.6,1735.1 218.2,1735.1 218.2,1735.0 220.8,1735.0 220.8,1735.1 223.4,1735.1 223.4,1735.1 226.0,1735.1 226.0,1735.0 228.6,1735.0 228.6,1735.1 231.2,1735.1 231.2,1735.0 233.8,1735.0 233.8,1735.1 236.4,1735.1 236.4,1734.7 239.0,1734.7 239.0,1733.8 241.6,1733.8 241.6,1731.1 244.2,1731.1 244.2,1729.5 246.8,1729.5 246.8,1729.3 249.4,1729.3 249.4,1727.1 252.0,1727.1 252.0,1725.3 254.6,1725.3 254.6,1723.7 257.2,1723.7 257.2,1721.2 259.8,1721.2 259.8,1718.8 262.4,1718.8 262.4,1714.8 265.0,1714.8 265.0,1711.6 267.6,1711.6 267.6,1709.8 270.2,1709.8 270.2,1706.3 272.8,1706.3 272.8,1699.4 275.4,1699.4 275.4,1693.0 278.0,1693.0 278.0,1682.2 280.6,1682.2 280.6,1661.5 283.2,1661.5 283.2,1626.2 285.8,1626.2 285.8,1599.8 288.4,1599.8 288.4,1584.9 291.0,1584.9 291.0,1561.9 293.6,1561.9 293.6,1561.2 296.2,1561.2 296.2,1551.2 298.8,1551.2 298.8,1534.6 301.4,1534.6 301.4,1507.7 304.0,1507.7 304.0,1512.5 306.6,1512.5 306.6,1505.6 309.2,1505.6 309.2,1507.8 311.8,1507.8 311.8,1499.9 314.4,1499.9 314.4,1497.4 317.0,1497.4 317.0,1487.5 319.6,1487.5 319.6,1464.0 322.2,1464.0 322.2,1460.9 324.8,1460.9 324.8,1464.9 327.4,1464.9 327.4,1447.8 330.0,1447.8 330.0,1458.6 332.6,1458.6 332.6,1493.5 335.2,1493.5 335.2,1472.3 337.8,1472.3 337.8,1488.7 340.4,1488.7 340.4,1503.0 343.0,1503.0 343.0,1489.0 345.6,1489.0 345.6,1505.5 348.2,1505.5 348.2,1498.9 350.8,1498.9 350.8,1510.4 353.4,1510.4 353.4,1517.6 356.0,1517.6 356.0,1518.9 358.6,1518.9 358.6,1497.2 361.2,1497.2 361.2,1512.5 363.8,1512.5 363.8,1517.6 366.4,1517.6 366.4,1535.8 369.0,1535.8 369.0,1532.9 371.6,1532.9 371.6,1569.3 374.2,1569.3 374.2,1572.8 376.8,1572.8 376.8,1579.7 379.4,1579.7 379.4,1573.2 382.0,1573.2 382.0,1591.5 384.6,1591.5 384.6,1593.2 387.2,1593.2 387.2,1585.7 389.8,1585.7 389.8,1602.6 392.4,1602.6 392.4,1606.5 395.0,1606.5 395.0,1594.3 397.6,1594.3 397.6,1609.1 400.2,1609.1 400.2,1618.9 402.8,1618.9 402.8,1628.6 405.4,1628.6 405.4,1636.9 408.0,1636.9 408.0,1631.7 410.6,1631.7 410.6,1632.5 413.2,1632.5 413.2,1631.8 415.8,1631.8 415.8,1622.4 418.4,1622.4 418.4,1631.0 421.0,1631.0 421.0,1642.7 423.6,1642.7 423.6,1651.2 426.2,1651.2 426.2,1656.9 428.8,1656.9 428.8,1660.3 431.4,1660.3 431.4,1667.2 434.0,1667.2 434.0,1674.7 436.6,1674.7 436.6,1679.7 439.2,1679.7 439.2,1685.4 441.8,1685.4 441.8,1692.8 444.4,1692.8 444.4,1698.6 447.0,1698.6 447.0,1703.8 449.6,1703.8 449.6,1705.6 452.2,1705.6 452.2,1711.7 454.8,1711.7 454.8,1713.4 457.4,1713.4 457.4,1715.9 460.0,1715.9 460.0,1718.8 462.6,1718.8 462.6,1722.0 465.2,1722.0 465.2,1723.8 467.8,1723.8 467.8,1725.8 470.4,1725.8 470.4,1727.0 473.0,1727.0 473.0,1727.9 475.6,1727.9 475.6,1730.8 478.2,1730.8 478.2,1731.2 480.8,1731.2 480.8,1733.0 483.4,1733.0 483.4,1733.4 486.0,1733.4 486.0,1735.4 488.6,1735.4 488.6,1735.0 491.2,1735.0 491.2,1735.5 493.8,1735.5 493.8,1736.0 495.0,1736.0 495.0,1736.0" fill="#00FD62"/>
<line x1="261.1" y1="1720.8" x2="261.1" y2="1724.7" stroke="#00E214" stroke-width="1.6" stroke-opacity="0.8"/>
<line x1="266.3" y1="1713.6" x2="266.3" y2="1717.7" stroke="#00E214" stroke-width="1.6" stroke-opacity="0.8"/>
<line x1="281.9" y1="1663.5" x2="281.9" y2="1671.9" stroke="#00E214" stroke-width="1.6" stroke-opacity="0.8"/>
<line x1="287.1" y1="1601.8" x2="287.1" y2="1620.8" stroke="#00E214" stroke-width="1.6" stroke-opacity="0.8"/>
<line x1="302.7" y1="1509.7" x2="302.7" y2="1527.5" stroke="#00E214" stroke-width="1.6" stroke-opacity="0.8"/>
<line x1="305.3" y1="1514.5" x2="305.3" y2="1527.2" stroke="#00E214" stroke-width="1.6" stroke-opacity="0.8"/>
<line x1="313.1" y1="1501.9" x2="313.1" y2="1540.8" stroke="#00E214" stroke-width="1.6" stroke-opacity="0.8"/>
<line x1="318.3" y1="1489.5" x2="318.3" y2="1521.9" stroke="#00E214" stroke-width="1.6" stroke-opacity="0.8"/>
<line x1="320.9" y1="1466.0" x2="320.9" y2="1484.9" stroke="#00E214" stroke-width="1.6" stroke-opacity="0.8"/>
<line x1="323.5" y1="1462.9" x2="323.5" y2="1481.8" stroke="#00E214" stroke-width="1.6" stroke-opacity="0.8"/>
<line x1="326.1" y1="1466.9" x2="326.1" y2="1508.1" stroke="#00E214" stroke-width="1.6" stroke-opacity="0.8"/>
<line x1="328.7" y1="1449.8" x2="328.7" y2="1475.4" stroke="#00E214" stroke-width="1.6" stroke-opacity="0.8"/>
<line x1="339.1" y1="1490.7" x2="339.1" y2="1505.0" stroke="#00E214" stroke-width="1.6" stroke-opacity="0.8"/>
<line x1="341.7" y1="1505.0" x2="341.7" y2="1533.7" stroke="#00E214" stroke-width="1.6" stroke-opacity="0.8"/>
<line x1="346.9" y1="1507.5" x2="346.9" y2="1530.7" stroke="#00E214" stroke-width="1.6" stroke-opacity="0.8"/>
<line x1="352.1" y1="1512.4" x2="352.1" y2="1547.1" stroke="#00E214" stroke-width="1.6" stroke-opacity="0.8"/>
<line x1="357.3" y1="1520.9" x2="357.3" y2="1547.2" stroke="#00E214" stroke-width="1.6" stroke-opacity="0.8"/>
<line x1="359.9" y1="1499.2" x2="359.9" y2="1519.0" stroke="#00E214" stroke-width="1.6" stroke-opacity="0.8"/>
<line x1="367.7" y1="1537.8" x2="367.7" y2="1555.0" stroke="#00E214" stroke-width="1.6" stroke-opacity="0.8"/>
<line x1="375.5" y1="1574.8" x2="375.5" y2="1597.4" stroke="#00E214" stroke-width="1.6" stroke-opacity="0.8"/>
<line x1="388.5" y1="1587.7" x2="388.5" y2="1598.5" stroke="#00E214" stroke-width="1.6" stroke-opacity="0.8"/>
<line x1="391.1" y1="1604.6" x2="391.1" y2="1626.1" stroke="#00E214" stroke-width="1.6" stroke-opacity="0.8"/>
<line x1="396.3" y1="1596.3" x2="396.3" y2="1619.2" stroke="#00E214" stroke-width="1.6" stroke-opacity="0.8"/>
<line x1="404.1" y1="1630.6" x2="404.1" y2="1640.0" stroke="#00E214" stroke-width="1.6" stroke-opacity="0.8"/>
<line x1="417.1" y1="1624.4" x2="417.1" y2="1636.2" stroke="#00E214" stroke-width="1.6" stroke-opacity="0.8"/>
<line x1="427.5" y1="1658.9" x2="427.5" y2="1669.3" stroke="#00E214" stroke-width="1.6" stroke-opacity="0.8"/>
<line x1="448.3" y1="1705.8" x2="448.3" y2="1709.0" stroke="#00E214" stroke-width="1.6" stroke-opacity="0.8"/>
<line x1="450.9" y1="1707.6" x2="450.9" y2="1710.3" stroke="#00E214" stroke-width="1.6" stroke-opacity="0.8"/>
<line x1="131.9" y1="1442.2" x2="708.2" y2="1442.2" stroke="#666" stroke-width="3" />
<line x1="131.9" y1="1442.2" x2="131.9" y2="1736.0" stroke="#2a2a2a" stroke-width="2.6" />
<line x1="708.2" y1="1440.7" x2="708.2" y2="1737.5" stroke="#333" stroke-width="4" />
<line x1="108.4" y1="1736.0" x2="708.2" y2="1736.0" stroke="#2a2a2a" stroke-width="3" />
<line x1="281.4" y1="1736.0" x2="708.2" y2="1736.0" stroke="#1c1c1c" stroke-width="5" />
<line x1="281.4" y1="1442.2" x2="281.4" y2="1736.0" stroke="#111" stroke-width="2.8" />
<rect x="245.5" y="1438.5" width="9.8" height="2.6" fill="#333" />
<rect x="657.5" y="1438.5" width="19.5" height="2.6" fill="#333" />
<line x1="108.4" y1="1736.0" x2="131.9" y2="1736.0" stroke="#2e2e2e" stroke-width="3" />
<line x1="119.9" y1="1726.0" x2="131.9" y2="1726.0" stroke="#2e2e2e" stroke-width="3" />
<line x1="119.9" y1="1715.9" x2="131.9" y2="1715.9" stroke="#2e2e2e" stroke-width="3" />
<line x1="119.9" y1="1705.9" x2="131.9" y2="1705.9" stroke="#2e2e2e" stroke-width="3" />
<line x1="119.9" y1="1695.8" x2="131.9" y2="1695.8" stroke="#2e2e2e" stroke-width="3" />
<line x1="108.4" y1="1685.8" x2="131.9" y2="1685.8" stroke="#2e2e2e" stroke-width="3" />
<line x1="119.9" y1="1675.8" x2="131.9" y2="1675.8" stroke="#2e2e2e" stroke-width="3" />
<line x1="119.9" y1="1665.7" x2="131.9" y2="1665.7" stroke="#2e2e2e" stroke-width="3" />
<line x1="119.9" y1="1655.7" x2="131.9" y2="1655.7" stroke="#2e2e2e" stroke-width="3" />
<line x1="119.9" y1="1645.6" x2="131.9" y2="1645.6" stroke="#2e2e2e" stroke-width="3" />
<line x1="108.4" y1="1635.6" x2="131.9" y2="1635.6" stroke="#2e2e2e" stroke-width="3" />
<line x1="119.9" y1="1625.6" x2="131.9" y2="1625.6" stroke="#2e2e2e" stroke-width="3" />
<line x1="119.9" y1="1615.5" x2="131.9" y2="1615.5" stroke="#2e2e2e" stroke-width="3" />
<line x1="119.9" y1="1605.5" x2="131.9" y2="1605.5" stroke="#2e2e2e" stroke-width="3" />
<line x1="119.9" y1="1595.4" x2="131.9" y2="1595.4" stroke="#2e2e2e" stroke-width="3" />
<line x1="108.4" y1="1585.4" x2="131.9" y2="1585.4" stroke="#2e2e2e" stroke-width="3" />
<line x1="119.9" y1="1575.4" x2="131.9" y2="1575.4" stroke="#2e2e2e" stroke-width="3" />
<line x1="119.9" y1="1565.3" x2="131.9" y2="1565.3" stroke="#2e2e2e" stroke-width="3" />
<line x1="119.9" y1="1555.3" x2="131.9" y2="1555.3" stroke="#2e2e2e" stroke-width="3" />
<line x1="119.9" y1="1545.2" x2="131.9" y2="1545.2" stroke="#2e2e2e" stroke-width="3" />
<line x1="108.4" y1="1535.2" x2="131.9" y2="1535.2" stroke="#2e2e2e" stroke-width="3" />
<line x1="119.9" y1="1525.2" x2="131.9" y2="1525.2" stroke="#2e2e2e" stroke-width="3" />
<line x1="119.9" y1="1515.1" x2="131.9" y2="1515.1" stroke="#2e2e2e" stroke-width="3" />
<line x1="119.9" y1="1505.1" x2="131.9" y2="1505.1" stroke="#2e2e2e" stroke-width="3" />
<line x1="119.9" y1="1495.0" x2="131.9" y2="1495.0" stroke="#2e2e2e" stroke-width="3" />
<line x1="108.4" y1="1485.0" x2="131.9" y2="1485.0" stroke="#2e2e2e" stroke-width="3" />
<line x1="119.9" y1="1475.0" x2="131.9" y2="1475.0" stroke="#2e2e2e" stroke-width="3" />
<line x1="119.9" y1="1464.9" x2="131.9" y2="1464.9" stroke="#2e2e2e" stroke-width="3" />
<line x1="119.9" y1="1454.9" x2="131.9" y2="1454.9" stroke="#2e2e2e" stroke-width="3" />
<line x1="119.9" y1="1444.8" x2="131.9" y2="1444.8" stroke="#2e2e2e" stroke-width="3" />
<text x="107.0" y="1736.0" font-size="23.5" fill="#2e2e2e" stroke="#2e2e2e" stroke-width="0.8" text-anchor="middle" textLength="11.4" lengthAdjust="spacingAndGlyphs" transform="rotate(-90 107.0 1736.0)">0</text>
<text x="107.0" y="1685.8" font-size="23.5" fill="#2e2e2e" stroke="#2e2e2e" stroke-width="0.8" text-anchor="middle" textLength="22.8" lengthAdjust="spacingAndGlyphs" transform="rotate(-90 107.0 1685.8)">25</text>
<text x="107.0" y="1635.6" font-size="23.5" fill="#2e2e2e" stroke="#2e2e2e" stroke-width="0.8" text-anchor="middle" textLength="22.8" lengthAdjust="spacingAndGlyphs" transform="rotate(-90 107.0 1635.6)">50</text>
<text x="107.0" y="1585.4" font-size="23.5" fill="#2e2e2e" stroke="#2e2e2e" stroke-width="0.8" text-anchor="middle" textLength="22.8" lengthAdjust="spacingAndGlyphs" transform="rotate(-90 107.0 1585.4)">75</text>
<text x="107.0" y="1535.2" font-size="23.5" fill="#2e2e2e" stroke="#2e2e2e" stroke-width="0.8" text-anchor="middle" textLength="34.2" lengthAdjust="spacingAndGlyphs" transform="rotate(-90 107.0 1535.2)">100</text>
<text x="107.0" y="1485.0" font-size="23.5" fill="#2e2e2e" stroke="#2e2e2e" stroke-width="0.8" text-anchor="middle" textLength="34.2" lengthAdjust="spacingAndGlyphs" transform="rotate(-90 107.0 1485.0)">125</text>
<text x="74.0" y="1619.2" font-size="32" fill="#2e2e2e" stroke="#2e2e2e" stroke-width="0.6" textLength="76.8" lengthAdjust="spacingAndGlyphs" transform="rotate(-90 74.0 1619.2)">Count</text>
<line x1="139.4" y1="1736.0" x2="139.4" y2="1751.5" stroke="#2e2e2e" stroke-width="2.8" />
<line x1="157.3" y1="1736.0" x2="157.3" y2="1751.5" stroke="#2e2e2e" stroke-width="2.8" />
<line x1="171.2" y1="1736.0" x2="171.2" y2="1751.5" stroke="#2e2e2e" stroke-width="2.8" />
<line x1="182.6" y1="1736.0" x2="182.6" y2="1751.5" stroke="#2e2e2e" stroke-width="2.8" />
<line x1="192.2" y1="1736.0" x2="192.2" y2="1751.5" stroke="#2e2e2e" stroke-width="2.8" />
<line x1="200.6" y1="1736.0" x2="200.6" y2="1751.5" stroke="#2e2e2e" stroke-width="2.8" />
<line x1="207.9" y1="1736.0" x2="207.9" y2="1751.5" stroke="#2e2e2e" stroke-width="2.8" />
<line x1="214.5" y1="1736.0" x2="214.5" y2="1760.5" stroke="#2e2e2e" stroke-width="3" />
<line x1="257.8" y1="1736.0" x2="257.8" y2="1751.5" stroke="#2e2e2e" stroke-width="2.8" />
<line x1="283.1" y1="1736.0" x2="283.1" y2="1751.5" stroke="#2e2e2e" stroke-width="2.8" />
<line x1="301.0" y1="1736.0" x2="301.0" y2="1751.5" stroke="#2e2e2e" stroke-width="2.8" />
<line x1="314.9" y1="1736.0" x2="314.9" y2="1751.5" stroke="#2e2e2e" stroke-width="2.8" />
<line x1="326.3" y1="1736.0" x2="326.3" y2="1751.5" stroke="#2e2e2e" stroke-width="2.8" />
<line x1="335.9" y1="1736.0" x2="335.9" y2="1751.5" stroke="#2e2e2e" stroke-width="2.8" />
<line x1="344.3" y1="1736.0" x2="344.3" y2="1751.5" stroke="#2e2e2e" stroke-width="2.8" />
<line x1="351.6" y1="1736.0" x2="351.6" y2="1751.5" stroke="#2e2e2e" stroke-width="2.8" />
<line x1="358.2" y1="1736.0" x2="358.2" y2="1760.5" stroke="#2e2e2e" stroke-width="3" />
<line x1="401.6" y1="1736.0" x2="401.6" y2="1751.5" stroke="#2e2e2e" stroke-width="2.8" />
<line x1="427.0" y1="1736.0" x2="427.0" y2="1751.5" stroke="#2e2e2e" stroke-width="2.8" />
<line x1="445.0" y1="1736.0" x2="445.0" y2="1751.5" stroke="#2e2e2e" stroke-width="2.8" />
<line x1="459.0" y1="1736.0" x2="459.0" y2="1751.5" stroke="#2e2e2e" stroke-width="2.8" />
<line x1="470.4" y1="1736.0" x2="470.4" y2="1751.5" stroke="#2e2e2e" stroke-width="2.8" />
<line x1="480.1" y1="1736.0" x2="480.1" y2="1751.5" stroke="#2e2e2e" stroke-width="2.8" />
<line x1="488.4" y1="1736.0" x2="488.4" y2="1751.5" stroke="#2e2e2e" stroke-width="2.8" />
<line x1="495.8" y1="1736.0" x2="495.8" y2="1751.5" stroke="#2e2e2e" stroke-width="2.8" />
<line x1="502.4" y1="1736.0" x2="502.4" y2="1760.5" stroke="#2e2e2e" stroke-width="3" />
<line x1="545.7" y1="1736.0" x2="545.7" y2="1751.5" stroke="#2e2e2e" stroke-width="2.8" />
<line x1="571.0" y1="1736.0" x2="571.0" y2="1751.5" stroke="#2e2e2e" stroke-width="2.8" />
<line x1="588.9" y1="1736.0" x2="588.9" y2="1751.5" stroke="#2e2e2e" stroke-width="2.8" />
<line x1="602.8" y1="1736.0" x2="602.8" y2="1751.5" stroke="#2e2e2e" stroke-width="2.8" />
<line x1="614.2" y1="1736.0" x2="614.2" y2="1751.5" stroke="#2e2e2e" stroke-width="2.8" />
<line x1="623.8" y1="1736.0" x2="623.8" y2="1751.5" stroke="#2e2e2e" stroke-width="2.8" />
<line x1="632.2" y1="1736.0" x2="632.2" y2="1751.5" stroke="#2e2e2e" stroke-width="2.8" />
<line x1="639.5" y1="1736.0" x2="639.5" y2="1751.5" stroke="#2e2e2e" stroke-width="2.8" />
<line x1="646.1" y1="1736.0" x2="646.1" y2="1760.5" stroke="#2e2e2e" stroke-width="3" />
<line x1="689.4" y1="1736.0" x2="689.4" y2="1751.5" stroke="#2e2e2e" stroke-width="2.8" />
<text x="198.3" y="1783.0" font-size="23.5" fill="#2e2e2e" stroke="#2e2e2e" stroke-width="0.8"><tspan textLength="20.7" lengthAdjust="spacingAndGlyphs">10</tspan><tspan x="220.3" dy="-11.2" font-size="19" textLength="10.8" lengthAdjust="spacingAndGlyphs">2</tspan></text>
<text x="342.0" y="1783.0" font-size="23.5" fill="#2e2e2e" stroke="#2e2e2e" stroke-width="0.8"><tspan textLength="20.7" lengthAdjust="spacingAndGlyphs">10</tspan><tspan x="364.1" dy="-11.2" font-size="19" textLength="10.8" lengthAdjust="spacingAndGlyphs">3</tspan></text>
<text x="486.2" y="1783.0" font-size="23.5" fill="#2e2e2e" stroke="#2e2e2e" stroke-width="0.8"><tspan textLength="20.7" lengthAdjust="spacingAndGlyphs">10</tspan><tspan x="508.2" dy="-11.2" font-size="19" textLength="10.8" lengthAdjust="spacingAndGlyphs">4</tspan></text>
<text x="629.9" y="1783.0" font-size="23.5" fill="#2e2e2e" stroke="#2e2e2e" stroke-width="0.8"><tspan textLength="20.7" lengthAdjust="spacingAndGlyphs">10</tspan><tspan x="652.0" dy="-11.2" font-size="19" textLength="10.8" lengthAdjust="spacingAndGlyphs">5</tspan></text>
<text x="362.0" y="1807.0" font-size="27" fill="#2e2e2e" textLength="114.8" lengthAdjust="spacingAndGlyphs" stroke="#2e2e2e" stroke-width="0.25">V450-A</text>
</g>
<g>
<polygon points="905.0,1728.0 905.0,1700.8 908.0,1700.8 910.0,1728.0" fill="#00FD62"/>
<polygon points="1000.0,1728.6 1000.0,1728.0 1001.2,1728.0 1001.2,1727.9 1002.4,1727.9 1002.4,1727.8 1003.6,1727.8 1003.6,1727.8 1004.8,1727.8 1004.8,1727.7 1006.0,1727.7 1006.0,1727.7 1007.2,1727.7 1007.2,1727.6 1008.4,1727.6 1008.4,1727.5 1009.6,1727.5 1009.6,1727.5 1010.8,1727.5 1010.8,1727.4 1012.0,1727.4 1012.0,1727.3 1013.2,1727.3 1013.2,1727.3 1014.4,1727.3 1014.4,1727.2 1015.6,1727.2 1015.6,1727.1 1016.8,1727.1 1016.8,1728.2 1018.0,1728.2 1018.0,1728.3 1019.2,1728.3 1019.2,1728.5 1020.4,1728.5 1020.4,1726.5 1021.6,1726.5 1021.6,1727.8 1022.8,1727.8 1022.8,1726.8 1024.0,1726.8 1024.0,1726.8 1025.2,1726.8 1025.2,1726.9 1026.4,1726.9 1026.4,1726.1 1027.6,1726.1 1027.6,1725.3 1028.8,1725.3 1028.8,1724.8 1030.0,1724.8 1030.0,1725.1 1031.2,1725.1 1031.2,1724.9 1032.4,1724.9 1032.4,1722.8 1033.6,1722.8 1033.6,1723.5 1034.8,1723.5 1034.8,1722.4 1036.0,1722.4 1036.0,1722.4 1037.2,1722.4 1037.2,1721.6 1038.4,1721.6 1038.4,1719.2 1039.6,1719.2 1039.6,1716.5 1040.8,1716.5 1040.8,1713.6 1042.0,1713.6 1042.0,1710.2 1043.2,1710.2 1043.2,1706.4 1044.4,1706.4 1044.4,1703.1 1045.6,1703.1 1045.6,1698.4 1046.8,1698.4 1046.8,1694.6 1048.0,1694.6 1048.0,1690.1 1049.2,1690.1 1049.2,1684.3 1050.4,1684.3 1050.4,1680.6 1051.6,1680.6 1051.6,1676.6 1052.8,1676.6 1052.8,1671.7 1054.0,1671.7 1054.0,1668.0 1055.2,1668.0 1055.2,1662.7 1056.4,1662.7 1056.4,1658.3 1057.6,1658.3 1057.6,1655.2 1058.8,1655.2 1058.8,1649.5 1060.0,1649.5 1060.0,1641.9 1061.2,1641.9 1061.2,1632.3 1062.4,1632.3 1062.4,1622.8 1063.6,1622.8 1063.6,1612.8 1064.8,1612.8 1064.8,1602.2 1066.0,1602.2 1066.0,1594.7 1067.2,1594.7 1067.2,1584.3 1068.4,1584.3 1068.4,1576.9 1069.6,1576.9 1069.6,1567.4 1070.8,1567.4 1070.8,1559.1 1072.0,1559.1 1072.0,1551.0 1073.2,1551.0 1073.2,1542.8 1074.4,1542.8 1074.4,1534.4 1075.6,1534.4 1075.6,1526.0 1076.8,1526.0 1076.8,1518.7 1078.0,1518.7 1078.0,1510.2 1079.2,1510.2 1079.2,1503.5 1080.4,1503.5 1080.4,1496.7 1081.6,1496.7 1081.6,1491.8 1082.8,1491.8 1082.8,1486.5 1084.0,1486.5 1084.0,1481.9 1085.2,1481.9 1085.2,1477.4 1086.4,1477.4 1086.4,1471.5 1087.6,1471.5 1087.6,1468.2 1088.8,1468.2 1088.8,1463.5 1090.0,1463.5 1090.0,1459.7 1091.2,1459.7 1091.2,1455.3 1092.4,1455.3 1092.4,1452.6 1093.6,1452.6 1093.6,1449.9 1094.8,1449.9 1094.8,1447.6 1096.0,1447.6 1096.0,1442.2 1097.2,1442.2 1097.2,1443.5 1098.4,1443.5 1098.4,1440.9 1099.6,1440.9 1099.6,1440.9 1100.8,1440.9 1100.8,1437.0 1102.0,1437.0 1102.0,1440.4 1103.2,1440.4 1103.2,1440.7 1104.4,1440.7 1104.4,1440.7 1105.6,1440.7 1105.6,1439.4 1106.8,1439.4 1106.8,1442.4 1108.0,1442.4 1108.0,1442.6 1109.2,1442.6 1109.2,1444.6 1110.4,1444.6 1110.4,1449.0 1111.6,1449.0 1111.6,1450.6 1112.8,1450.6 1112.8,1453.3 1114.0,1453.3 1114.0,1457.6 1115.2,1457.6 1115.2,1458.4 1116.4,1458.4 1116.4,1462.7 1117.6,1462.7 1117.6,1467.2 1118.8,1467.2 1118.8,1472.4 1120.0,1472.4 1120.0,1477.9 1121.2,1477.9 1121.2,1482.6 1122.4,1482.6 1122.4,1487.7 1123.6,1487.7 1123.6,1492.5 1124.8,1492.5 1124.8,1499.0 1126.0,1499.0 1126.0,1502.2 1127.2,1502.2 1127.2,1509.5 1128.4,1509.5 1128.4,1513.9 1129.6,1513.9 1129.6,1520.2 1130.8,1520.2 1130.8,1523.7 1132.0,1523.7 1132.0,1528.9 1133.2,1528.9 1133.2,1534.9 1134.4,1534.9 1134.4,1540.8 1135.6,1540.8 1135.6,1545.2 1136.8,1545.2 1136.8,1551.5 1138.0,1551.5 1138.0,1556.6 1139.2,1556.6 1139.2,1561.4 1140.4,1561.4 1140.4,1566.9 1141.6,1566.9 1141.6,1570.6 1142.8,1570.6 1142.8,1577.3 1144.0,1577.3 1144.0,1582.4 1145.2,1582.4 1145.2,1587.7 1146.4,1587.7 1146.4,1593.6 1147.6,1593.6 1147.6,1598.5 1148.8,1598.5 1148.8,1604.0 1150.0,1604.0 1150.0,1609.7 1151.2,1609.7 1151.2,1615.4 1152.4,1615.4 1152.4,1620.8 1153.6,1620.8 1153.6,1626.5 1154.8,1626.5 1154.8,1630.9 1156.0,1630.9 1156.0,1636.6 1157.2,1636.6 1157.2,1643.1 1158.4,1643.1 1158.4,1648.2 1159.6,1648.2 1159.6,1654.0 1160.8,1654.0 1160.8,1658.4 1162.0,1658.4 1162.0,1662.6 1163.2,1662.6 1163.2,1666.1 1164.4,1666.1 1164.4,1671.3 1165.6,1671.3 1165.6,1676.7 1166.8,1676.7 1166.8,1681.1 1168.0,1681.1 1168.0,1684.6 1169.2,1684.6 1169.2,1687.8 1170.4,1687.8 1170.4,1691.3 1171.6,1691.3 1171.6,1694.5 1172.8,1694.5 1172.8,1698.4 1174.0,1698.4 1174.0,1702.2 1175.2,1702.2 1175.2,1704.5 1176.4,1704.5 1176.4,1706.2 1177.6,1706.2 1177.6,1709.2 1178.8,1709.2 1178.8,1710.6 1180.0,1710.6 1180.0,1711.0 1181.2,1711.0 1181.2,1713.8 1182.4,1713.8 1182.4,1715.7 1183.6,1715.7 1183.6,1717.1 1184.8,1717.1 1184.8,1718.4 1186.0,1718.4 1186.0,1719.3 1187.2,1719.3 1187.2,1719.1 1188.4,1719.1 1188.4,1719.6 1189.6,1719.6 1189.6,1719.4 1190.8,1719.4 1190.8,1721.3 1192.0,1721.3 1192.0,1721.4 1193.2,1721.4 1193.2,1721.1 1194.4,1721.1 1194.4,1722.5 1195.6,1722.5 1195.6,1723.6 1196.8,1723.6 1196.8,1723.8 1198.0,1723.8 1198.0,1723.9 1199.2,1723.9 1199.2,1725.2 1200.4,1725.2 1200.4,1725.3 1201.6,1725.3 1201.6,1725.6 1202.8,1725.6 1202.8,1726.2 1204.0,1726.2 1204.0,1725.8 1205.2,1725.8 1205.2,1726.8 1206.4,1726.8 1206.4,1726.8 1207.6,1726.8 1207.6,1727.0 1208.8,1727.0 1208.8,1726.1 1210.0,1726.1 1210.0,1728.1 1211.2,1728.1 1211.2,1726.7 1212.4,1726.7 1212.4,1727.0 1213.6,1727.0 1213.6,1728.2 1214.8,1728.2 1214.8,1728.1 1216.0,1728.1 1216.0,1727.9 1217.2,1727.9 1217.2,1727.2 1218.4,1727.2 1218.4,1727.2 1219.6,1727.2 1219.6,1727.2 1220.8,1727.2 1220.8,1727.3 1222.0,1727.3 1222.0,1727.3 1223.2,1727.3 1223.2,1727.4 1224.4,1727.4 1224.4,1727.4 1225.6,1727.4 1225.6,1727.5 1226.8,1727.5 1226.8,1727.5 1228.0,1727.5 1228.0,1727.6 1229.2,1727.6 1229.2,1727.6 1230.4,1727.6 1230.4,1727.6 1231.6,1727.6 1231.6,1727.7 1232.8,1727.7 1232.8,1727.7 1234.0,1727.7 1234.0,1727.8 1235.2,1727.8 1235.2,1727.8 1236.4,1727.8 1236.4,1727.9 1237.6,1727.9 1237.6,1727.9 1238.8,1727.9 1238.8,1728.0 1240.0,1728.0 1240.0,1728.0 1241.2,1728.0 1241.2,1728.0 1242.4,1728.0 1242.4,1728.1 1243.6,1728.1 1243.6,1728.1 1244.8,1728.1 1244.8,1728.2 1246.0,1728.2 1246.0,1728.2 1247.2,1728.2 1247.2,1728.3 1248.4,1728.3 1248.4,1728.3 1249.6,1728.3 1249.6,1728.4 1250.8,1728.4 1250.8,1728.4 1252.0,1728.4 1252.0,1728.4 1253.2,1728.4 1253.2,1728.5 1254.4,1728.5 1254.4,1728.5 1255.6,1728.5 1255.6,1728.6 1256.8,1728.6 1256.8,1728.6" fill="#00FD62" stroke="#00DC3C" stroke-width="1.6" stroke-linejoin="round"/>
<line x1="1042.6" y1="1712.2" x2="1042.6" y2="1715.2" stroke="#00E214" stroke-width="1.6" stroke-opacity="0.8"/>
<line x1="1048.6" y1="1692.1" x2="1048.6" y2="1694.1" stroke="#00E214" stroke-width="1.6" stroke-opacity="0.8"/>
<line x1="1052.2" y1="1678.6" x2="1052.2" y2="1680.5" stroke="#00E214" stroke-width="1.6" stroke-opacity="0.8"/>
<line x1="1055.8" y1="1664.7" x2="1055.8" y2="1668.0" stroke="#00E214" stroke-width="1.6" stroke-opacity="0.8"/>
<line x1="1058.2" y1="1657.2" x2="1058.2" y2="1660.7" stroke="#00E214" stroke-width="1.6" stroke-opacity="0.8"/>
<line x1="1060.6" y1="1643.9" x2="1060.6" y2="1645.9" stroke="#00E214" stroke-width="1.6" stroke-opacity="0.8"/>
<line x1="1061.8" y1="1634.3" x2="1061.8" y2="1636.9" stroke="#00E214" stroke-width="1.6" stroke-opacity="0.8"/>
<line x1="1064.2" y1="1614.8" x2="1064.2" y2="1616.9" stroke="#00E214" stroke-width="1.6" stroke-opacity="0.8"/>
<line x1="1066.6" y1="1596.7" x2="1066.6" y2="1599.1" stroke="#00E214" stroke-width="1.6" stroke-opacity="0.8"/>
<line x1="1071.4" y1="1561.1" x2="1071.4" y2="1564.1" stroke="#00E214" stroke-width="1.6" stroke-opacity="0.8"/>
<line x1="1073.8" y1="1544.8" x2="1073.8" y2="1547.8" stroke="#00E214" stroke-width="1.6" stroke-opacity="0.8"/>
<line x1="1077.4" y1="1520.7" x2="1077.4" y2="1524.7" stroke="#00E214" stroke-width="1.6" stroke-opacity="0.8"/>
<line x1="1079.8" y1="1505.5" x2="1079.8" y2="1509.1" stroke="#00E214" stroke-width="1.6" stroke-opacity="0.8"/>
<line x1="1084.6" y1="1483.9" x2="1084.6" y2="1486.2" stroke="#00E214" stroke-width="1.6" stroke-opacity="0.8"/>
<line x1="1087.0" y1="1473.5" x2="1087.0" y2="1476.6" stroke="#00E214" stroke-width="1.6" stroke-opacity="0.8"/>
<line x1="1088.2" y1="1470.2" x2="1088.2" y2="1475.0" stroke="#00E214" stroke-width="1.6" stroke-opacity="0.8"/>
<line x1="1090.6" y1="1461.7" x2="1090.6" y2="1466.4" stroke="#00E214" stroke-width="1.6" stroke-opacity="0.8"/>
<line x1="1095.4" y1="1449.6" x2="1095.4" y2="1453.9" stroke="#00E214" stroke-width="1.6" stroke-opacity="0.8"/>
<line x1="1100.2" y1="1442.9" x2="1100.2" y2="1448.2" stroke="#00E214" stroke-width="1.6" stroke-opacity="0.8"/>
<line x1="1103.8" y1="1442.7" x2="1103.8" y2="1446.2" stroke="#00E214" stroke-width="1.6" stroke-opacity="0.8"/>
<line x1="1105.0" y1="1442.7" x2="1105.0" y2="1447.3" stroke="#00E214" stroke-width="1.6" stroke-opacity="0.8"/>
<line x1="1106.2" y1="1441.4" x2="1106.2" y2="1445.0" stroke="#00E214" stroke-width="1.6" stroke-opacity="0.8"/>
<line x1="1107.4" y1="1444.4" x2="1107.4" y2="1447.5" stroke="#00E214" stroke-width="1.6" stroke-opacity="0.8"/>
<line x1="1114.6" y1="1459.6" x2="1114.6" y2="1462.9" stroke="#00E214" stroke-width="1.6" stroke-opacity="0.8"/>
<line x1="1129.0" y1="1515.9" x2="1129.0" y2="1518.8" stroke="#00E214" stroke-width="1.6" stroke-opacity="0.8"/>
<line x1="1135.0" y1="1542.8" x2="1135.0" y2="1546.8" stroke="#00E214" stroke-width="1.6" stroke-opacity="0.8"/>
<line x1="1138.6" y1="1558.6" x2="1138.6" y2="1560.8" stroke="#00E214" stroke-width="1.6" stroke-opacity="0.8"/>
<line x1="1143.4" y1="1579.3" x2="1143.4" y2="1581.5" stroke="#00E214" stroke-width="1.6" stroke-opacity="0.8"/>
<line x1="1148.2" y1="1600.5" x2="1148.2" y2="1603.8" stroke="#00E214" stroke-width="1.6" stroke-opacity="0.8"/>
<line x1="1154.2" y1="1628.5" x2="1154.2" y2="1630.5" stroke="#00E214" stroke-width="1.6" stroke-opacity="0.8"/>
<line x1="1157.8" y1="1645.1" x2="1157.8" y2="1647.2" stroke="#00E214" stroke-width="1.6" stroke-opacity="0.8"/>
<line x1="1159.0" y1="1650.2" x2="1159.0" y2="1652.6" stroke="#00E214" stroke-width="1.6" stroke-opacity="0.8"/>
<line x1="1161.4" y1="1660.4" x2="1161.4" y2="1663.7" stroke="#00E214" stroke-width="1.6" stroke-opacity="0.8"/>
<line x1="1167.4" y1="1683.1" x2="1167.4" y2="1685.1" stroke="#00E214" stroke-width="1.6" stroke-opacity="0.8"/>
<line x1="1171.0" y1="1693.3" x2="1171.0" y2="1695.1" stroke="#00E214" stroke-width="1.6" stroke-opacity="0.8"/>
<line x1="904.5" y1="1433.7" x2="1520.6" y2="1433.7" stroke="#444" stroke-width="3" />
<line x1="904.5" y1="1433.7" x2="904.5" y2="1728.6" stroke="#2a2a2a" stroke-width="2.6" />
<line x1="1520.6" y1="1432.2" x2="1520.6" y2="1730.3" stroke="#444" stroke-width="3.4" />
<line x1="880.0" y1="1728.6" x2="1520.6" y2="1728.6" stroke="#666" stroke-width="3.4" />
<line x1="1059.6" y1="1728.6" x2="1520.6" y2="1728.6" stroke="#555" stroke-width="6" />
<line x1="1059.6" y1="1433.7" x2="1059.6" y2="1728.6" stroke="#111" stroke-width="2.8" />
<rect x="1022.0" y="1430.0" width="11.5" height="2.6" fill="#333" />
<rect x="1465.7" y="1430.0" width="22.9" height="2.6" fill="#333" />
<line x1="880.0" y1="1727.5" x2="904.5" y2="1727.5" stroke="#2e2e2e" stroke-width="3" />
<line x1="893.0" y1="1717.5" x2="904.5" y2="1717.5" stroke="#2e2e2e" stroke-width="3" />
<line x1="893.0" y1="1707.6" x2="904.5" y2="1707.6" stroke="#2e2e2e" stroke-width="3" />
<line x1="893.0" y1="1697.6" x2="904.5" y2="1697.6" stroke="#2e2e2e" stroke-width="3" />
<line x1="893.0" y1="1687.6" x2="904.5" y2="1687.6" stroke="#2e2e2e" stroke-width="3" />
<line x1="880.0" y1="1677.7" x2="904.5" y2="1677.7" stroke="#2e2e2e" stroke-width="3" />
<line x1="893.0" y1="1667.7" x2="904.5" y2="1667.7" stroke="#2e2e2e" stroke-width="3" />
<line x1="893.0" y1="1657.7" x2="904.5" y2="1657.7" stroke="#2e2e2e" stroke-width="3" />
<line x1="893.0" y1="1647.7" x2="904.5" y2="1647.7" stroke="#2e2e2e" stroke-width="3" />
<line x1="893.0" y1="1637.8" x2="904.5" y2="1637.8" stroke="#2e2e2e" stroke-width="3" />
<line x1="880.0" y1="1627.8" x2="904.5" y2="1627.8" stroke="#2e2e2e" stroke-width="3" />
<line x1="893.0" y1="1617.8" x2="904.5" y2="1617.8" stroke="#2e2e2e" stroke-width="3" />
<line x1="893.0" y1="1607.9" x2="904.5" y2="1607.9" stroke="#2e2e2e" stroke-width="3" />
<line x1="893.0" y1="1597.9" x2="904.5" y2="1597.9" stroke="#2e2e2e" stroke-width="3" />
<line x1="893.0" y1="1587.9" x2="904.5" y2="1587.9" stroke="#2e2e2e" stroke-width="3" />
<line x1="880.0" y1="1578.0" x2="904.5" y2="1578.0" stroke="#2e2e2e" stroke-width="3" />
<line x1="893.0" y1="1568.0" x2="904.5" y2="1568.0" stroke="#2e2e2e" stroke-width="3" />
<line x1="893.0" y1="1558.0" x2="904.5" y2="1558.0" stroke="#2e2e2e" stroke-width="3" />
<line x1="893.0" y1="1548.0" x2="904.5" y2="1548.0" stroke="#2e2e2e" stroke-width="3" />
<line x1="893.0" y1="1538.1" x2="904.5" y2="1538.1" stroke="#2e2e2e" stroke-width="3" />
<line x1="880.0" y1="1528.1" x2="904.5" y2="1528.1" stroke="#2e2e2e" stroke-width="3" />
<line x1="893.0" y1="1518.1" x2="904.5" y2="1518.1" stroke="#2e2e2e" stroke-width="3" />
<line x1="893.0" y1="1508.2" x2="904.5" y2="1508.2" stroke="#2e2e2e" stroke-width="3" />
<line x1="893.0" y1="1498.2" x2="904.5" y2="1498.2" stroke="#2e2e2e" stroke-width="3" />
<line x1="893.0" y1="1488.2" x2="904.5" y2="1488.2" stroke="#2e2e2e" stroke-width="3" />
<line x1="880.0" y1="1478.2" x2="904.5" y2="1478.2" stroke="#2e2e2e" stroke-width="3" />
<line x1="893.0" y1="1468.3" x2="904.5" y2="1468.3" stroke="#2e2e2e" stroke-width="3" />
<line x1="893.0" y1="1458.3" x2="904.5" y2="1458.3" stroke="#2e2e2e" stroke-width="3" />
<line x1="893.0" y1="1448.3" x2="904.5" y2="1448.3" stroke="#2e2e2e" stroke-width="3" />
<line x1="893.0" y1="1438.4" x2="904.5" y2="1438.4" stroke="#2e2e2e" stroke-width="3" />
<text x="878.5" y="1727.5" font-size="23.5" fill="#2e2e2e" stroke="#2e2e2e" stroke-width="0.8" text-anchor="middle" textLength="11.4" lengthAdjust="spacingAndGlyphs" transform="rotate(-90 878.5 1727.5)">0</text>
<text x="878.5" y="1677.7" font-size="23.5" fill="#2e2e2e" stroke="#2e2e2e" stroke-width="0.8" text-anchor="middle" textLength="22.8" lengthAdjust="spacingAndGlyphs" transform="rotate(-90 878.5 1677.7)">25</text>
<text x="878.5" y="1627.8" font-size="23.5" fill="#2e2e2e" stroke="#2e2e2e" stroke-width="0.8" text-anchor="middle" textLength="22.8" lengthAdjust="spacingAndGlyphs" transform="rotate(-90 878.5 1627.8)">50</text>
<text x="878.5" y="1578.0" font-size="23.5" fill="#2e2e2e" stroke="#2e2e2e" stroke-width="0.8" text-anchor="middle" textLength="22.8" lengthAdjust="spacingAndGlyphs" transform="rotate(-90 878.5 1578.0)">75</text>
<text x="878.5" y="1528.1" font-size="23.5" fill="#2e2e2e" stroke="#2e2e2e" stroke-width="0.8" text-anchor="middle" textLength="34.2" lengthAdjust="spacingAndGlyphs" transform="rotate(-90 878.5 1528.1)">100</text>
<text x="878.5" y="1478.2" font-size="23.5" fill="#2e2e2e" stroke="#2e2e2e" stroke-width="0.8" text-anchor="middle" textLength="34.2" lengthAdjust="spacingAndGlyphs" transform="rotate(-90 878.5 1478.2)">125</text>
<text x="846.5" y="1611.0" font-size="32" fill="#2e2e2e" stroke="#2e2e2e" stroke-width="0.6" textLength="77.0" lengthAdjust="spacingAndGlyphs" transform="rotate(-90 846.5 1611.0)">Count</text>
<line x1="913.6" y1="1728.6" x2="913.6" y2="1744.5" stroke="#2e2e2e" stroke-width="2.8" />
<line x1="931.6" y1="1728.6" x2="931.6" y2="1744.5" stroke="#2e2e2e" stroke-width="2.8" />
<line x1="945.5" y1="1728.6" x2="945.5" y2="1744.5" stroke="#2e2e2e" stroke-width="2.8" />
<line x1="956.9" y1="1728.6" x2="956.9" y2="1744.5" stroke="#2e2e2e" stroke-width="2.8" />
<line x1="966.6" y1="1728.6" x2="966.6" y2="1744.5" stroke="#2e2e2e" stroke-width="2.8" />
<line x1="974.9" y1="1728.6" x2="974.9" y2="1744.5" stroke="#2e2e2e" stroke-width="2.8" />
<line x1="982.3" y1="1728.6" x2="982.3" y2="1744.5" stroke="#2e2e2e" stroke-width="2.8" />
<line x1="988.9" y1="1728.6" x2="988.9" y2="1752.5" stroke="#2e2e2e" stroke-width="3" />
<line x1="1032.3" y1="1728.6" x2="1032.3" y2="1744.5" stroke="#2e2e2e" stroke-width="2.8" />
<line x1="1057.7" y1="1728.6" x2="1057.7" y2="1744.5" stroke="#2e2e2e" stroke-width="2.8" />
<line x1="1075.7" y1="1728.6" x2="1075.7" y2="1744.5" stroke="#2e2e2e" stroke-width="2.8" />
<line x1="1089.6" y1="1728.6" x2="1089.6" y2="1744.5" stroke="#2e2e2e" stroke-width="2.8" />
<line x1="1101.0" y1="1728.6" x2="1101.0" y2="1744.5" stroke="#2e2e2e" stroke-width="2.8" />
<line x1="1110.7" y1="1728.6" x2="1110.7" y2="1744.5" stroke="#2e2e2e" stroke-width="2.8" />
<line x1="1119.0" y1="1728.6" x2="1119.0" y2="1744.5" stroke="#2e2e2e" stroke-width="2.8" />
<line x1="1126.4" y1="1728.6" x2="1126.4" y2="1744.5" stroke="#2e2e2e" stroke-width="2.8" />
<line x1="1133.0" y1="1728.6" x2="1133.0" y2="1752.5" stroke="#2e2e2e" stroke-width="3" />
<line x1="1176.8" y1="1728.6" x2="1176.8" y2="1744.5" stroke="#2e2e2e" stroke-width="2.8" />
<line x1="1202.4" y1="1728.6" x2="1202.4" y2="1744.5" stroke="#2e2e2e" stroke-width="2.8" />
<line x1="1220.5" y1="1728.6" x2="1220.5" y2="1744.5" stroke="#2e2e2e" stroke-width="2.8" />
<line x1="1234.6" y1="1728.6" x2="1234.6" y2="1744.5" stroke="#2e2e2e" stroke-width="2.8" />
<line x1="1246.1" y1="1728.6" x2="1246.1" y2="1744.5" stroke="#2e2e2e" stroke-width="2.8" />
<line x1="1255.9" y1="1728.6" x2="1255.9" y2="1744.5" stroke="#2e2e2e" stroke-width="2.8" />
<line x1="1264.3" y1="1728.6" x2="1264.3" y2="1744.5" stroke="#2e2e2e" stroke-width="2.8" />
<line x1="1271.7" y1="1728.6" x2="1271.7" y2="1744.5" stroke="#2e2e2e" stroke-width="2.8" />
<line x1="1278.4" y1="1728.6" x2="1278.4" y2="1752.5" stroke="#2e2e2e" stroke-width="3" />
<line x1="1321.4" y1="1728.6" x2="1321.4" y2="1744.5" stroke="#2e2e2e" stroke-width="2.8" />
<line x1="1346.6" y1="1728.6" x2="1346.6" y2="1744.5" stroke="#2e2e2e" stroke-width="2.8" />
<line x1="1364.5" y1="1728.6" x2="1364.5" y2="1744.5" stroke="#2e2e2e" stroke-width="2.8" />
<line x1="1378.4" y1="1728.6" x2="1378.4" y2="1744.5" stroke="#2e2e2e" stroke-width="2.8" />
<line x1="1389.7" y1="1728.6" x2="1389.7" y2="1744.5" stroke="#2e2e2e" stroke-width="2.8" />
<line x1="1399.2" y1="1728.6" x2="1399.2" y2="1744.5" stroke="#2e2e2e" stroke-width="2.8" />
<line x1="1407.5" y1="1728.6" x2="1407.5" y2="1744.5" stroke="#2e2e2e" stroke-width="2.8" />
<line x1="1414.9" y1="1728.6" x2="1414.9" y2="1744.5" stroke="#2e2e2e" stroke-width="2.8" />
<line x1="1421.4" y1="1728.6" x2="1421.4" y2="1752.5" stroke="#2e2e2e" stroke-width="3" />
<line x1="1283.0" y1="1728.6" x2="1283.0" y2="1744.5" stroke="#2e2e2e" stroke-width="2.8" />
<line x1="1289.4" y1="1728.6" x2="1289.4" y2="1744.5" stroke="#2e2e2e" stroke-width="2.8" />
<line x1="1294.3" y1="1728.6" x2="1294.3" y2="1744.5" stroke="#2e2e2e" stroke-width="2.8" />
<line x1="1300.0" y1="1728.6" x2="1300.0" y2="1744.5" stroke="#2e2e2e" stroke-width="2.8" />
<line x1="1426.6" y1="1728.6" x2="1426.6" y2="1744.5" stroke="#2e2e2e" stroke-width="2.8" />
<line x1="1433.0" y1="1728.6" x2="1433.0" y2="1744.5" stroke="#2e2e2e" stroke-width="2.8" />
<line x1="1439.6" y1="1728.6" x2="1439.6" y2="1744.5" stroke="#2e2e2e" stroke-width="2.8" />
<line x1="1446.0" y1="1728.6" x2="1446.0" y2="1744.5" stroke="#2e2e2e" stroke-width="2.8" />
<line x1="1454.3" y1="1728.6" x2="1454.3" y2="1744.5" stroke="#2e2e2e" stroke-width="2.8" />
<line x1="1139.0" y1="1728.6" x2="1139.0" y2="1744.5" stroke="#2e2e2e" stroke-width="2.8" />
<line x1="1144.0" y1="1728.6" x2="1144.0" y2="1744.5" stroke="#2e2e2e" stroke-width="2.8" />
<line x1="1501.7" y1="1728.6" x2="1501.7" y2="1744.5" stroke="#2e2e2e" stroke-width="2.8" />
<text x="972.7" y="1776.0" font-size="23.5" fill="#2e2e2e" stroke="#2e2e2e" stroke-width="0.8"><tspan textLength="20.7" lengthAdjust="spacingAndGlyphs">10</tspan><tspan x="994.8" dy="-11.2" font-size="19" textLength="10.8" lengthAdjust="spacingAndGlyphs">2</tspan></text>
<text x="1116.8" y="1776.0" font-size="23.5" fill="#2e2e2e" stroke="#2e2e2e" stroke-width="0.8"><tspan textLength="20.7" lengthAdjust="spacingAndGlyphs">10</tspan><tspan x="1138.8" dy="-11.2" font-size="19" textLength="10.8" lengthAdjust="spacingAndGlyphs">3</tspan></text>
<text x="1262.2" y="1776.0" font-size="23.5" fill="#2e2e2e" stroke="#2e2e2e" stroke-width="0.8"><tspan textLength="20.7" lengthAdjust="spacingAndGlyphs">10</tspan><tspan x="1284.2" dy="-11.2" font-size="19" textLength="10.8" lengthAdjust="spacingAndGlyphs">4</tspan></text>
<text x="1405.2" y="1776.0" font-size="23.5" fill="#2e2e2e" stroke="#2e2e2e" stroke-width="0.8"><tspan textLength="20.7" lengthAdjust="spacingAndGlyphs">10</tspan><tspan x="1427.2" dy="-11.2" font-size="19" textLength="10.8" lengthAdjust="spacingAndGlyphs">5</tspan></text>
<text x="1135.6" y="1800.0" font-size="27" fill="#2e2e2e" textLength="115.8" lengthAdjust="spacingAndGlyphs" stroke="#2e2e2e" stroke-width="0.25">V450-A</text>
</g>
</g>
<g filter="url(#bl3)">
<text x="481.6" y="277.6" font-size="35" fill="#3a3a3a" textLength="37.6" lengthAdjust="spacingAndGlyphs">P.I</text>
<text x="491.4" y="326.5" font-size="35" fill="#3a3a3a" textLength="167.2" lengthAdjust="spacingAndGlyphs">0.8 ± 0.2%</text>
<text x="1243.7" y="269.4" font-size="35" fill="#3a3a3a" textLength="35.9" lengthAdjust="spacingAndGlyphs" stroke="#3a3a3a" stroke-width="0.8">P.I</text>
<text x="1243.7" y="323.3" font-size="35" fill="#3a3a3a" textLength="182.9" lengthAdjust="spacingAndGlyphs" xml:space="preserve" style="white-space:pre">1.1  ± 0.4 %</text>
<text x="477.3" y="697.0" font-size="35" fill="#3a3a3a" textLength="81.7" lengthAdjust="spacingAndGlyphs">CD34</text>
<text x="503.4" y="738.4" font-size="35" fill="#3a3a3a" textLength="186.8" lengthAdjust="spacingAndGlyphs">3.67 ± 1.3%</text>
<text x="1274.0" y="695.3" font-size="35" fill="#3a3a3a" textLength="84.0" lengthAdjust="spacingAndGlyphs">CD34</text>
<text x="1258.4" y="743.3" font-size="35" fill="#3a3a3a" textLength="206.6" lengthAdjust="spacingAndGlyphs">9.91 ± 1.54%</text>
<text x="486.0" y="1187.5" font-size="35" fill="#3a3a3a" textLength="103.0" lengthAdjust="spacingAndGlyphs">CD105</text>
<text x="491.0" y="1239.8" font-size="35" fill="#3a3a3a" textLength="198.6" lengthAdjust="spacingAndGlyphs">9.98 ±1.49%</text>
<text x="1266.0" y="1185.3" font-size="35" fill="#3a3a3a" textLength="102.4" lengthAdjust="spacingAndGlyphs">CD105</text>
<text x="1289.4" y="1230.0" font-size="35" fill="#3a3a3a" textLength="205.6" lengthAdjust="spacingAndGlyphs">6.28 ± 2.40%</text>
<text x="461.6" y="1614.3" font-size="35" fill="#3a3a3a" textLength="83.4" lengthAdjust="spacingAndGlyphs">CD73</text>
<text x="456.7" y="1660.0" font-size="35" fill="#3a3a3a" textLength="227.0" lengthAdjust="spacingAndGlyphs">10.14 ± 2.91%</text>
<text x="1241.0" y="1602.9" font-size="35" fill="#3a3a3a" textLength="83.7" lengthAdjust="spacingAndGlyphs">CD73</text>
<text x="1242.0" y="1646.3" font-size="35" fill="#3a3a3a" textLength="205.8" lengthAdjust="spacingAndGlyphs">7.61 ± 2.59%</text>
</g>
<g filter="url(#bl2)">
<text x="30.5" y="1880.4" font-size="51" fill="#1a1a1a">b</text>
<rect x="105.3" y="1838" width="678.5" height="530.2" fill="none" stroke="#111" stroke-width="3.9"/>
<line x1="275.0" y1="2291.4" x2="722.9" y2="2291.4" stroke="#d4d4d4" stroke-width="2.6" />
<text x="243.5" y="2302.2" font-size="31" fill="#6a6a6a" text-anchor="end" textLength="17.0" lengthAdjust="spacingAndGlyphs">0</text>
<text x="243.5" y="2229.1" font-size="31" fill="#6a6a6a" text-anchor="end" textLength="17.0" lengthAdjust="spacingAndGlyphs">2</text>
<text x="243.5" y="2156.0" font-size="31" fill="#6a6a6a" text-anchor="end" textLength="17.0" lengthAdjust="spacingAndGlyphs">4</text>
<text x="243.5" y="2082.9" font-size="31" fill="#6a6a6a" text-anchor="end" textLength="17.0" lengthAdjust="spacingAndGlyphs">6</text>
<text x="243.5" y="2009.8" font-size="31" fill="#6a6a6a" text-anchor="end" textLength="17.0" lengthAdjust="spacingAndGlyphs">8</text>
<text x="243.5" y="1936.7" font-size="31" fill="#6a6a6a" text-anchor="end" textLength="34.5" lengthAdjust="spacingAndGlyphs">10</text>
<text x="187.2" y="2223.3" font-size="31" fill="#6a6a6a" textLength="228.0" lengthAdjust="spacingAndGlyphs" transform="rotate(-90 187.2 2223.3)">% POSITIVE CELLS</text>
<rect x="312.6" y="2195.8" width="38.6" height="94.4" fill="#000" />
<line x1="332.0" y1="2184.8" x2="332.0" y2="2207.2" stroke="#5c5c5c" stroke-width="2.6" />
<line x1="323.5" y1="2184.8" x2="340.5" y2="2184.8" stroke="#5c5c5c" stroke-width="2.6" />
<line x1="323.5" y1="2207.2" x2="340.5" y2="2207.2" stroke="#5c5c5c" stroke-width="2.6" />
<text x="298.9" y="2329.2" font-size="20.5" fill="#7a7a7a" textLength="68.1" lengthAdjust="spacingAndGlyphs">CD 146</text>
<rect x="424.7" y="2164.0" width="37.6" height="126.2" fill="#000" />
<line x1="443.7" y1="2108.0" x2="443.7" y2="2220.2" stroke="#5c5c5c" stroke-width="2.6" />
<line x1="435.2" y1="2108.0" x2="452.2" y2="2108.0" stroke="#5c5c5c" stroke-width="2.6" />
<line x1="435.2" y1="2220.2" x2="452.2" y2="2220.2" stroke="#5c5c5c" stroke-width="2.6" />
<text x="415.3" y="2329.2" font-size="20.5" fill="#7a7a7a" textLength="58.7" lengthAdjust="spacingAndGlyphs">CD 68</text>
<rect x="536.0" y="2087.3" width="40.0" height="202.9" fill="#000" />
<line x1="555.6" y1="2040.5" x2="555.6" y2="2138.0" stroke="#5c5c5c" stroke-width="2.6" />
<line x1="547.1" y1="2040.5" x2="564.1" y2="2040.5" stroke="#5c5c5c" stroke-width="2.6" />
<line x1="547.1" y1="2138.0" x2="564.1" y2="2138.0" stroke="#5c5c5c" stroke-width="2.6" />
<text x="527.6" y="2329.2" font-size="20.5" fill="#7a7a7a" textLength="57.4" lengthAdjust="spacingAndGlyphs">CD 45</text>
<rect x="647.8" y="2265.0" width="38.2" height="25.2" fill="#000" />
<line x1="666.7" y1="2260.0" x2="666.7" y2="2272.8" stroke="#5c5c5c" stroke-width="2.6" />
<line x1="658.2" y1="2260.0" x2="675.2" y2="2260.0" stroke="#5c5c5c" stroke-width="2.6" />
<line x1="658.2" y1="2272.8" x2="675.2" y2="2272.8" stroke="#5c5c5c" stroke-width="2.6" />
<text x="633.0" y="2329.2" font-size="20.5" fill="#7a7a7a" textLength="68.6" lengthAdjust="spacingAndGlyphs">CD 116</text>
<rect x="827.8" y="1837" width="677.8" height="532.5" fill="none" stroke="#111" stroke-width="3.9"/>
<line x1="1027.0" y1="2285.3" x2="1443.0" y2="2285.3" stroke="#d4d4d4" stroke-width="2.6" />
<text x="993.5" y="2294.9" font-size="31" fill="#6a6a6a" text-anchor="end" textLength="17.0" lengthAdjust="spacingAndGlyphs">0</text>
<text x="993.5" y="2221.5" font-size="31" fill="#6a6a6a" text-anchor="end" textLength="35.0" lengthAdjust="spacingAndGlyphs">20</text>
<text x="993.5" y="2148.1" font-size="31" fill="#6a6a6a" text-anchor="end" textLength="35.0" lengthAdjust="spacingAndGlyphs">40</text>
<text x="993.5" y="2074.7" font-size="31" fill="#6a6a6a" text-anchor="end" textLength="35.0" lengthAdjust="spacingAndGlyphs">60</text>
<text x="993.5" y="2001.3" font-size="31" fill="#6a6a6a" text-anchor="end" textLength="35.0" lengthAdjust="spacingAndGlyphs">80</text>
<text x="993.5" y="1927.9" font-size="31" fill="#6a6a6a" text-anchor="end" textLength="53.0" lengthAdjust="spacingAndGlyphs">100</text>
<text x="918.8" y="2225.5" font-size="31" fill="#6a6a6a" textLength="279.5" lengthAdjust="spacingAndGlyphs" transform="rotate(-90 918.8 2225.5)">% WBC DIFFERENTIAL</text>
<rect x="1054.0" y="2108.0" width="28.4" height="176.2" fill="#000" />
<line x1="1068.4" y1="2096.0" x2="1068.4" y2="2125.3" stroke="#5c5c5c" stroke-width="2.6" />
<line x1="1059.9" y1="2096.0" x2="1076.9" y2="2096.0" stroke="#5c5c5c" stroke-width="2.6" />
<line x1="1059.9" y1="2125.3" x2="1076.9" y2="2125.3" stroke="#5c5c5c" stroke-width="2.6" />
<text x="1041.6" y="2323.4" font-size="21.5" fill="#7a7a7a" textLength="52.3" lengthAdjust="spacingAndGlyphs">NEUT</text>
<rect x="1135.7" y="2193.9" width="30.0" height="90.3" fill="#000" />
<line x1="1151.0" y1="2187.3" x2="1151.0" y2="2202.0" stroke="#5c5c5c" stroke-width="2.6" />
<line x1="1142.5" y1="2187.3" x2="1159.5" y2="2187.3" stroke="#5c5c5c" stroke-width="2.6" />
<line x1="1142.5" y1="2202.0" x2="1159.5" y2="2202.0" stroke="#5c5c5c" stroke-width="2.6" />
<text x="1118.4" y="2323.4" font-size="21.5" fill="#7a7a7a" textLength="66.3" lengthAdjust="spacingAndGlyphs">LYMPH</text>
<rect x="1219.9" y="2197.8" width="28.7" height="86.4" fill="#000" />
<line x1="1234.6" y1="2175.9" x2="1234.6" y2="2222.3" stroke="#5c5c5c" stroke-width="2.6" />
<line x1="1226.1" y1="2175.9" x2="1243.1" y2="2175.9" stroke="#5c5c5c" stroke-width="2.6" />
<line x1="1226.1" y1="2222.3" x2="1243.1" y2="2222.3" stroke="#5c5c5c" stroke-width="2.6" />
<text x="1202.9" y="2323.4" font-size="21.5" fill="#7a7a7a" textLength="65.3" lengthAdjust="spacingAndGlyphs">MONO</text>
<rect x="1301.5" y="2264.7" width="32.0" height="19.5" fill="#000" />
<line x1="1309.0" y1="2267.5" x2="1326.0" y2="2267.5" stroke="#5c5c5c" stroke-width="2.6" />
<text x="1305.7" y="2323.4" font-size="21.5" fill="#7a7a7a" textLength="24.5" lengthAdjust="spacingAndGlyphs">EO</text>
<rect x="1386.7" y="2281.2" width="28.3" height="3.0" fill="#000" />
<text x="1374.3" y="2323.4" font-size="21.5" fill="#7a7a7a" textLength="53.9" lengthAdjust="spacingAndGlyphs">BASO</text>
</g>
<g filter="url(#bl2)">
<text x="47.0" y="2473.0" font-size="42" fill="#1a1a1a" font-weight="bold">c</text>
<line x1="184.8" y1="2457.0" x2="1451.0" y2="2457.0" stroke="#0a0a0a" stroke-width="4.6" />
<line x1="187.6" y1="2455.0" x2="187.6" y2="3236.0" stroke="#0a0a0a" stroke-width="5.6" />
<line x1="1448.2" y1="2455.0" x2="1448.2" y2="3236.0" stroke="#0a0a0a" stroke-width="5.6" />
<line x1="184.8" y1="3233.2" x2="1451.0" y2="3233.2" stroke="#0a0a0a" stroke-width="6" />
<line x1="365.0" y1="3085.0" x2="1333.5" y2="3085.0" stroke="#d0d0d0" stroke-width="2.2" />
<text x="333.0" y="3097.9" font-size="31" fill="#6a6a6a" text-anchor="end" textLength="17.0" lengthAdjust="spacingAndGlyphs">0</text>
<text x="333.0" y="2982.7" font-size="31" fill="#6a6a6a" text-anchor="end" textLength="35.0" lengthAdjust="spacingAndGlyphs">20</text>
<text x="333.0" y="2867.5" font-size="31" fill="#6a6a6a" text-anchor="end" textLength="35.0" lengthAdjust="spacingAndGlyphs">40</text>
<text x="333.0" y="2752.3" font-size="31" fill="#6a6a6a" text-anchor="end" textLength="35.0" lengthAdjust="spacingAndGlyphs">60</text>
<text x="333.0" y="2637.1" font-size="31" fill="#6a6a6a" text-anchor="end" textLength="35.0" lengthAdjust="spacingAndGlyphs">80</text>
<text x="333.0" y="2521.9" font-size="31" fill="#6a6a6a" text-anchor="end" textLength="53.0" lengthAdjust="spacingAndGlyphs">100</text>
<text x="255.2" y="2957.5" font-size="37" fill="#6a6a6a" textLength="285.0" lengthAdjust="spacingAndGlyphs" transform="rotate(-90 255.2 2957.5)">% POSITIVE CELLS</text>
<rect x="397.6" y="3080.0" width="34.6" height="4.0" fill="#000" />
<rect x="441.0" y="3047.3" width="29.6" height="36.7" fill="#808080" />
<line x1="456.3" y1="3028.0" x2="456.3" y2="3065.7" stroke="#5a5a5a" stroke-width="2.4" />
<line x1="447.5" y1="3028.0" x2="465.1" y2="3028.0" stroke="#5a5a5a" stroke-width="2.4" />
<line x1="447.5" y1="3065.7" x2="465.1" y2="3065.7" stroke="#5a5a5a" stroke-width="2.4" />
<text x="397.6" y="3143.5" font-size="31" fill="#6a6a6a" textLength="74.2" lengthAdjust="spacingAndGlyphs">CD34</text>
<rect x="536.3" y="3036.3" width="34.7" height="47.7" fill="#000" />
<line x1="555.5" y1="2999.6" x2="555.5" y2="3073.9" stroke="#5c5c5c" stroke-width="2.4" />
<line x1="546.7" y1="2999.6" x2="564.3" y2="2999.6" stroke="#5c5c5c" stroke-width="2.4" />
<line x1="546.7" y1="3073.9" x2="564.3" y2="3073.9" stroke="#5c5c5c" stroke-width="2.4" />
<rect x="577.0" y="3049.4" width="30.8" height="34.6" fill="#808080" />
<line x1="593.0" y1="3014.7" x2="593.0" y2="3084.0" stroke="#5a5a5a" stroke-width="2.4" />
<line x1="584.2" y1="3014.7" x2="601.8" y2="3014.7" stroke="#5a5a5a" stroke-width="2.4" />
<line x1="584.2" y1="3084.0" x2="601.8" y2="3084.0" stroke="#5a5a5a" stroke-width="2.4" />
<text x="536.3" y="3143.5" font-size="31" fill="#6a6a6a" textLength="73.5" lengthAdjust="spacingAndGlyphs">CD45</text>
<rect x="675.5" y="2520.8" width="33.9" height="563.2" fill="#000" />
<line x1="692.7" y1="2514.7" x2="692.7" y2="2530.6" stroke="#5c5c5c" stroke-width="2.4" />
<line x1="683.9" y1="2514.7" x2="701.5" y2="2514.7" stroke="#5c5c5c" stroke-width="2.4" />
<line x1="683.9" y1="2530.6" x2="701.5" y2="2530.6" stroke="#5c5c5c" stroke-width="2.4" />
<rect x="716.3" y="2563.7" width="31.5" height="520.3" fill="#808080" />
<line x1="731.4" y1="2514.7" x2="731.4" y2="2610.6" stroke="#5a5a5a" stroke-width="2.4" />
<line x1="722.6" y1="2514.7" x2="740.2" y2="2514.7" stroke="#5a5a5a" stroke-width="2.4" />
<line x1="722.6" y1="2610.6" x2="740.2" y2="2610.6" stroke="#5a5a5a" stroke-width="2.4" />
<text x="673.5" y="3143.5" font-size="31" fill="#6a6a6a" textLength="75.5" lengthAdjust="spacingAndGlyphs">CD44</text>
<rect x="812.2" y="2733.0" width="33.8" height="351.0" fill="#000" />
<line x1="829.8" y1="2654.3" x2="829.8" y2="2813.5" stroke="#5c5c5c" stroke-width="2.4" />
<line x1="821.0" y1="2654.3" x2="838.6" y2="2654.3" stroke="#5c5c5c" stroke-width="2.4" />
<line x1="821.0" y1="2813.5" x2="838.6" y2="2813.5" stroke="#5c5c5c" stroke-width="2.4" />
<rect x="853.0" y="2565.7" width="34.0" height="518.3" fill="#808080" />
<line x1="869.4" y1="2538.0" x2="869.4" y2="2593.9" stroke="#5a5a5a" stroke-width="2.4" />
<line x1="860.6" y1="2538.0" x2="878.2" y2="2538.0" stroke="#5a5a5a" stroke-width="2.4" />
<line x1="860.6" y1="2593.9" x2="878.2" y2="2593.9" stroke="#5a5a5a" stroke-width="2.4" />
<text x="812.0" y="3143.5" font-size="31" fill="#6a6a6a" textLength="75.0" lengthAdjust="spacingAndGlyphs">CD90</text>
<rect x="950.2" y="2576.7" width="36.8" height="507.3" fill="#000" />
<line x1="969.4" y1="2513.5" x2="969.4" y2="2641.2" stroke="#5c5c5c" stroke-width="2.4" />
<line x1="960.6" y1="2513.5" x2="978.2" y2="2513.5" stroke="#5c5c5c" stroke-width="2.4" />
<line x1="960.6" y1="2641.2" x2="978.2" y2="2641.2" stroke="#5c5c5c" stroke-width="2.4" />
<rect x="993.0" y="2523.7" width="30.3" height="560.3" fill="#808080" />
<line x1="1008.2" y1="2513.5" x2="1008.2" y2="2529.0" stroke="#5a5a5a" stroke-width="2.4" />
<line x1="999.4" y1="2513.5" x2="1017.0" y2="2513.5" stroke="#5a5a5a" stroke-width="2.4" />
<line x1="999.4" y1="2529.0" x2="1017.0" y2="2529.0" stroke="#5a5a5a" stroke-width="2.4" />
<text x="940.8" y="3143.5" font-size="31" fill="#6a6a6a" textLength="95.2" lengthAdjust="spacingAndGlyphs">CD105</text>
<rect x="1089.0" y="2643.3" width="34.7" height="440.7" fill="#000" />
<line x1="1106.0" y1="2513.5" x2="1106.0" y2="2775.5" stroke="#5c5c5c" stroke-width="2.4" />
<line x1="1097.2" y1="2513.5" x2="1114.8" y2="2513.5" stroke="#5c5c5c" stroke-width="2.4" />
<line x1="1097.2" y1="2775.5" x2="1114.8" y2="2775.5" stroke="#5c5c5c" stroke-width="2.4" />
<rect x="1129.8" y="2515.5" width="30.6" height="568.5" fill="#808080" />
<line x1="1145.7" y1="2513.5" x2="1145.7" y2="2518.4" stroke="#5a5a5a" stroke-width="2.4" />
<line x1="1136.9" y1="2513.5" x2="1154.5" y2="2513.5" stroke="#5a5a5a" stroke-width="2.4" />
<line x1="1136.9" y1="2518.4" x2="1154.5" y2="2518.4" stroke="#5a5a5a" stroke-width="2.4" />
<text x="1088.6" y="3143.5" font-size="31" fill="#6a6a6a" textLength="74.7" lengthAdjust="spacingAndGlyphs">CD73</text>
<rect x="1227.8" y="2575.5" width="34.7" height="508.5" fill="#000" />
<line x1="1245.0" y1="2516.7" x2="1245.0" y2="2633.0" stroke="#5c5c5c" stroke-width="2.4" />
<line x1="1236.2" y1="2516.7" x2="1253.8" y2="2516.7" stroke="#5c5c5c" stroke-width="2.4" />
<line x1="1236.2" y1="2633.0" x2="1253.8" y2="2633.0" stroke="#5c5c5c" stroke-width="2.4" />
<rect x="1268.6" y="2513.5" width="31.4" height="570.5" fill="#808080" />
<line x1="1275.5" y1="2513.5" x2="1293.1" y2="2513.5" stroke="#5a5a5a" stroke-width="2.4" />
<text x="1227.4" y="3143.5" font-size="31" fill="#6a6a6a" textLength="74.6" lengthAdjust="spacingAndGlyphs">CD29</text>
<polyline points="401,3017.5 401,3000.4 453.5,3000.4 453.5,3017.5" fill="none" stroke="#222" stroke-width="2"/>
<text x="427.0" y="2998.0" font-size="22" fill="#222" text-anchor="middle">*</text>
<polyline points="812.2,2529 812.2,2507.3 865.3,2507.3 865.3,2529" fill="none" stroke="#222" stroke-width="2"/>
<text x="840.8" y="2510.0" font-size="22" fill="#222" text-anchor="middle">*</text>
<rect x="245.3" y="3192.0" width="20.4" height="18.6" fill="#000" />
<text x="273.0" y="3210.6" font-size="29" fill="#737373" textLength="176.5" lengthAdjust="spacingAndGlyphs">Hy-Tissue SVF</text>
<rect x="504.5" y="3194.0" width="17.5" height="15.5" fill="#808080" />
<text x="530.2" y="3210.6" font-size="29" fill="#737373" textLength="269.0" lengthAdjust="spacingAndGlyphs">Enzimathic Digestion</text>
</g>
</svg>
</body></html>
